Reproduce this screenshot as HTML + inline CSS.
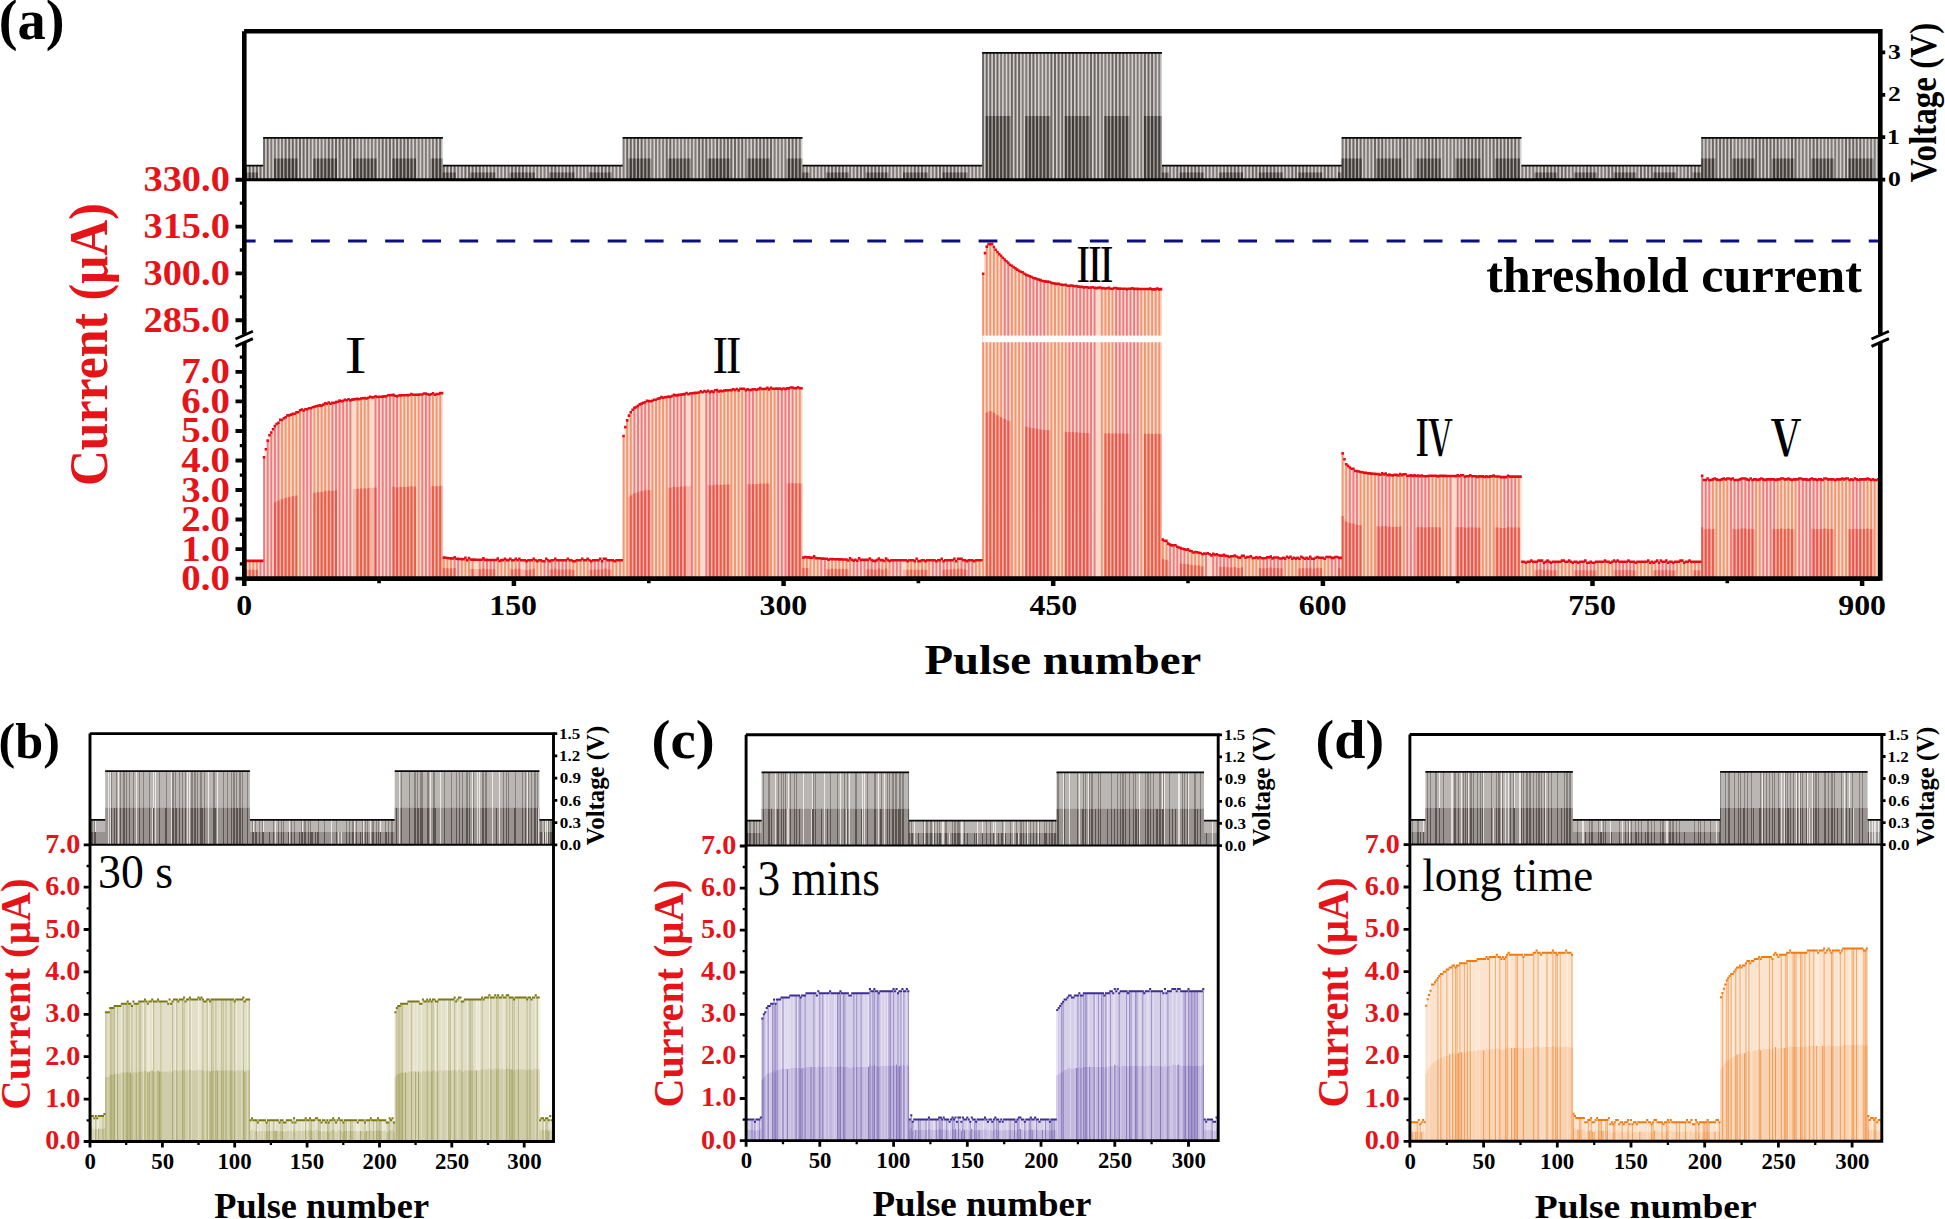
<!DOCTYPE html>
<html lang="en"><head><meta charset="utf-8"><title>Pulse response figure</title>
<style>html,body{margin:0;padding:0;background:#fff;overflow:hidden}svg{display:block}text{font-family:"Liberation Serif","Noto Serif CJK SC",serif;font-weight:700}text.n{font-weight:400}text.r{font-family:"Liberation Serif","Noto Serif CJK SC",serif;font-weight:600}</style>
</head><body>
<svg width="1945" height="1219" viewBox="0 0 1945 1219">
<rect width="1945" height="1219" fill="#fff"/>
<g id="panel-a">
<clipPath id="ca"><rect x="244.3" y="31.3" width="1636" height="547.3"/></clipPath>
<g clip-path="url(#ca)">
<polygon points="245.2,578.6 245.2,560.9 263.2,560.9 263.2,457.2 265,457.2 265,449.2 266.8,449.2 266.8,440.6 268.6,440.6 268.6,435.2 270.4,435.2 270.4,432.5 272.2,432.5 272.2,429.2 274,429.2 274,426.1 275.8,426.1 275.8,424 277.6,424 277.6,422.8 279.4,422.8 279.4,419.9 281.2,419.9 281.2,420 282.9,420 282.9,418.3 284.7,418.3 284.7,417.3 286.5,417.3 286.5,415.4 290.1,415.4 290.1,414.6 291.9,414.6 291.9,413.9 293.7,413.9 293.7,413.7 295.5,413.7 295.5,412.4 297.3,412.4 297.3,412.3 299.1,412.3 299.1,410.2 300.9,410.2 300.9,409.6 302.7,409.6 302.7,410.5 304.5,410.5 304.5,409.3 308.1,409.4 308.1,408.2 309.9,408.2 309.9,408.3 311.7,408.3 311.7,407.2 313.5,407.2 313.5,406.7 315.3,406.7 315.3,406.3 317.1,406.3 317.1,405.8 318.9,405.8 318.9,405.4 320.7,405.4 320.7,405.6 322.5,405.6 322.5,404.6 324.3,404.6 324.3,403.3 326.1,403.3 326.1,403.8 327.9,403.8 327.9,402.5 329.7,402.5 329.7,403.7 331.5,403.7 331.5,402.7 333.3,402.7 333.3,403 335.1,403 335.1,402.1 336.9,402.1 336.9,401.8 338.7,401.8 338.7,400.6 340.5,400.6 340.5,401.2 342.3,401.2 342.3,400.9 344.1,400.9 344.1,399.7 345.9,399.7 345.9,400.3 347.7,400.3 347.7,399.2 349.5,399.2 349.5,400.4 351.3,400.4 351.3,399.6 353.1,399.6 353.1,399.4 354.9,399.4 354.9,399.1 356.7,399.1 356.7,398.9 358.4,398.9 358.4,399.3 360.2,399.3 360.2,398.5 362,398.5 362,398.3 363.8,398.3 363.8,398.1 365.6,398.1 365.6,398.5 367.4,398.5 367.4,397.8 369.2,397.8 369.2,396.7 371,396.7 371,397.4 372.8,397.4 372.8,397.3 374.6,397.3 374.6,396.2 376.4,396.2 376.4,397 378.2,397 378.2,396.8 380,396.8 380,396.7 381.8,396.7 381.8,396.6 383.6,396.6 383.6,396.4 385.4,396.4 385.4,396.3 387.2,396.3 387.2,395.3 389,395.3 389,395.2 390.8,395.2 390.8,395.1 392.6,395.1 392.6,394.9 394.4,394.9 394.4,395.7 396.2,395.7 396.2,396.2 398,396.2 398,395.5 399.8,395.5 399.8,395.4 401.6,395.4 401.6,395.3 403.4,395.3 403.4,395.2 405.2,395.2 405.2,395.2 407,395.2 407,395.1 408.8,395.1 408.8,395 410.6,395 410.6,394 412.4,394 412.4,394.8 414.2,394.8 414.2,394.8 416,394.8 416,394.7 417.8,394.7 417.8,394.6 419.6,394.6 419.6,394.5 421.4,394.5 421.4,394.5 423.2,394.5 423.2,393.5 425,393.5 425,393.5 426.8,393.5 426.8,394.3 428.6,394.3 428.6,394.8 430.4,394.8 430.4,394.2 432.1,394.2 432.1,393.2 433.9,393.2 433.9,394.7 435.7,394.7 435.7,394 439.3,394 439.3,393.1 442.9,393 442.9,557.6 444.7,557.6 444.7,557.8 446.5,557.8 446.5,558 448.3,558 448.3,558.2 450.1,558.2 450.1,558.4 451.9,558.4 451.9,558.5 453.7,558.5 453.7,557.2 455.5,557.2 455.5,558.8 457.3,558.8 457.3,558.9 459.1,558.9 459.1,559 460.9,559 460.9,559.1 462.7,559.1 462.7,559.2 464.5,559.2 464.5,557.8 466.3,557.8 466.3,560.3 468.1,560.3 468.1,558 469.9,558 469.9,559.5 471.7,559.5 471.7,559.6 473.5,559.6 473.5,559.6 475.3,559.6 475.3,559.7 482.5,559.8 482.5,558.4 484.3,558.4 484.3,559.9 496.9,560.1 496.9,558.6 498.7,558.6 498.7,561 500.5,561 500.5,560.1 504.1,560.1 504.1,558.7 505.9,558.7 505.9,560.1 509.4,560.2 509.4,558.7 511.2,558.7 511.2,560.2 514.8,560.2 514.8,558.7 516.6,558.7 516.6,560.2 518.4,560.2 518.4,558.7 520.2,558.7 520.2,560.2 525.6,560.2 525.6,561.1 527.4,561.1 527.4,560.2 532.8,560.2 532.8,558.8 534.6,558.8 534.6,560.3 536.4,560.3 536.4,561.1 538.2,561.1 538.2,560.3 541.8,560.3 541.8,561.2 545.4,561.2 545.4,558.8 547.2,558.8 547.2,560.3 549,560.3 549,561.2 550.8,561.2 550.8,560.3 554.4,560.3 554.4,558.8 556.2,558.8 556.2,560.3 567,560.3 567,558.8 568.8,558.8 568.8,560.3 572.4,560.3 572.4,561.2 576,561.2 576,560.3 581.4,560.3 581.4,558.8 583.1,558.8 583.1,560.3 586.7,560.3 586.7,558.8 588.5,558.8 588.5,560.3 590.3,560.3 590.3,561.2 592.1,561.2 592.1,560.3 599.3,560.3 599.3,558.8 601.1,558.8 601.1,561.2 602.9,561.2 602.9,558.8 606.5,558.8 606.5,560.3 613.7,560.3 613.7,561.2 615.5,561.2 615.5,560.3 622.7,560.3 622.7,436 624.5,436 624.5,427.1 626.3,427.1 626.3,420.4 628.1,420.4 628.1,415.6 629.9,415.6 629.9,412.3 631.7,412.3 631.7,409.8 633.5,409.8 633.5,407.9 635.3,407.9 635.3,407.1 637.1,407.1 637.1,405.9 638.9,405.9 638.9,404.4 640.7,404.4 640.7,403.6 642.5,403.6 642.5,402.9 644.3,402.9 644.3,402.2 646.1,402.2 646.1,400.8 647.9,400.8 647.9,401.1 649.7,401.1 649.7,401.2 651.5,401.2 651.5,400.7 653.3,400.7 653.3,399.7 655.1,399.7 655.1,399.8 656.8,399.8 656.8,398.8 658.6,398.8 658.6,398.4 660.4,398.4 660.4,397.1 662.2,397.1 662.2,397.7 664,397.7 664,397.3 665.8,397.3 665.8,397 667.6,397 667.6,396.6 669.4,396.6 669.4,396.9 671.2,396.9 671.2,396 673,396 673,394.8 674.8,394.8 674.8,395.4 676.6,395.4 676.6,395.1 678.4,395.1 678.4,394.9 680.2,394.9 680.2,394.6 682,394.6 682,394.4 683.8,394.4 683.8,394.1 685.6,394.1 685.6,393 687.4,393 687.4,394.3 689.2,394.3 689.2,393.5 691,393.5 691,393.3 692.8,393.3 692.8,393.1 694.6,393.1 694.6,392.9 696.4,392.9 696.4,392.7 698.2,392.7 698.2,392.5 700,392.5 700,391.4 701.8,391.4 701.8,392.2 703.6,392.2 703.6,391.1 705.4,391.1 705.4,391.8 707.2,391.8 707.2,390.8 709,390.8 709,392.1 710.8,392.1 710.8,391.4 712.6,391.4 712.6,391.9 714.4,391.9 714.4,390.2 716.2,390.2 716.2,390.1 718,390.1 718,391.5 719.8,391.5 719.8,390.8 721.6,390.8 721.6,391.2 723.4,391.2 723.4,390.5 725.2,390.5 725.2,390.4 727,390.4 727,390.3 728.8,390.3 728.8,390.2 730.6,390.2 730.6,390.1 732.3,390.1 732.3,389.2 734.1,389.2 734.1,390 735.9,390 735.9,389 737.7,389 737.7,390.4 739.5,390.4 739.5,388.8 741.3,388.8 741.3,388.8 743.1,388.8 743.1,388.7 744.9,388.7 744.9,390.1 746.7,390.1 746.7,389.4 748.5,389.4 748.5,390 750.3,390 750.3,389.9 752.1,389.9 752.1,389.2 753.9,389.2 753.9,389.2 755.7,389.2 755.7,389.7 757.5,389.7 757.5,389.1 759.3,389.1 759.3,388.1 761.1,388.1 761.1,389 766.5,388.9 766.5,387.9 768.3,387.9 768.3,389.4 770.1,389.4 770.1,387.8 771.9,387.8 771.9,388.7 780.9,388.5 780.9,389.1 782.7,389.1 782.7,388.5 784.5,388.5 784.5,389 786.3,389 786.3,388.4 789.9,388.4 789.9,387.5 793.5,387.4 793.5,388.3 797.1,388.3 797.1,387.3 798.9,387.3 798.9,388.2 802.5,388.2 802.5,557.6 804.3,557.6 804.3,557 806.1,557 806.1,557.2 807.8,557.2 807.8,557.4 809.6,557.4 809.6,557.6 811.4,557.6 811.4,557.8 813.2,557.8 813.2,556.4 815,556.4 815,558.1 816.8,558.1 816.8,558.2 818.6,558.2 818.6,558.3 820.4,558.3 820.4,558.5 822.2,558.5 822.2,558.6 824,558.6 824,558.7 825.8,558.7 825.8,558.8 827.6,558.8 827.6,559.8 829.4,559.8 829.4,559 831.2,559 831.2,559.1 833,559.1 833,559.2 834.8,559.2 834.8,559.2 836.6,559.2 836.6,559.3 838.4,559.3 838.4,559.4 840.2,559.4 840.2,559.4 842,559.4 842,559.5 843.8,559.5 843.8,559.5 847.4,559.6 847.4,560.5 849.2,560.5 849.2,558.2 851,558.2 851,559.7 852.8,559.7 852.8,560.6 854.6,560.6 854.6,559.8 856.4,559.8 856.4,560.7 858.2,560.7 858.2,558.4 860,558.4 860,559.9 869,560 869,558.5 870.8,558.5 870.8,560 872.6,560 872.6,560.9 876.2,560.9 876.2,560.1 878,560.1 878,558.6 879.8,558.6 879.8,560.1 883.3,560.1 883.3,561 885.1,561 885.1,558.6 886.9,558.6 886.9,560.1 888.7,560.1 888.7,561 890.5,561 890.5,560.2 906.7,560.2 906.7,561.1 908.5,561.1 908.5,560.2 913.9,560.2 913.9,561.1 915.7,561.1 915.7,558.8 917.5,558.8 917.5,561.1 921.1,561.1 921.1,560.2 924.7,560.3 924.7,561.1 926.5,561.1 926.5,560.3 935.5,560.3 935.5,561.2 937.3,561.2 937.3,560.3 940.9,560.3 940.9,558.8 942.7,558.8 942.7,561.2 944.5,561.2 944.5,560.3 953.5,560.3 953.5,558.8 955.3,558.8 955.3,561.2 957,561.2 957,558.8 962.4,558.8 962.4,560.3 966,560.3 966,561.2 967.8,561.2 967.8,560.3 973.2,560.3 973.2,561.2 975,561.2 975,560.3 982.2,560.3 982.2,273.7 984,273.7 984,253.1 985.8,253.1 985.8,246.6 987.6,246.6 987.6,244.1 993,244.1 993,247 994.8,247 994.8,249.7 996.6,249.7 996.6,252 998.4,252 998.4,254.1 1000.2,254.1 1000.2,255.8 1002,255.8 1002,257.7 1003.8,257.7 1003.8,259.5 1005.6,259.5 1005.6,261.2 1007.4,261.2 1007.4,262.9 1009.2,262.9 1009.2,264.7 1011,264.7 1011,265.8 1012.8,265.8 1012.8,267.1 1014.6,267.1 1014.6,268.4 1016.4,268.4 1016.4,269.6 1018.2,269.6 1018.2,270.7 1020,270.7 1020,271.8 1021.8,271.8 1021.8,272.3 1023.6,272.3 1023.6,273.7 1025.4,273.7 1025.4,274.9 1027.2,274.9 1027.2,275.5 1029,275.5 1029,276.2 1030.8,276.2 1030.8,277 1032.5,277 1032.5,278 1034.3,278 1034.3,278.4 1036.1,278.4 1036.1,279 1037.9,279 1037.9,279.6 1039.7,279.6 1039.7,280.1 1041.5,280.1 1041.5,281 1043.3,281 1043.3,281.2 1045.1,281.2 1045.1,281.6 1048.7,281.6 1048.7,282 1050.5,282 1050.5,282.9 1052.3,282.9 1052.3,283.2 1054.1,283.2 1054.1,283.6 1055.9,283.6 1055.9,283.9 1057.7,283.9 1057.7,283.7 1059.5,283.7 1059.5,284.5 1061.3,284.5 1061.3,284.8 1063.1,284.8 1063.1,285 1064.9,285 1064.9,284.8 1066.7,284.8 1066.7,285.8 1068.5,285.8 1068.5,285.7 1070.3,285.7 1070.3,285.5 1072.1,285.5 1072.1,285.7 1073.9,285.7 1073.9,286.3 1075.7,286.3 1075.7,286 1077.5,286 1077.5,286.6 1079.3,286.6 1079.3,286.8 1081.1,286.8 1081.1,286.9 1082.9,286.9 1082.9,287.4 1084.7,287.4 1084.7,287.2 1086.5,287.2 1086.5,287.3 1088.3,287.3 1088.3,287.7 1090.1,287.7 1090.1,287.5 1091.9,287.5 1091.9,287.2 1093.7,287.2 1093.7,287.7 1095.5,287.7 1095.5,288.1 1097.3,288.1 1097.3,287.9 1099.1,287.9 1099.1,287.5 1100.9,287.5 1100.9,288.1 1102.7,288.1 1102.7,288.1 1104.5,288.1 1104.5,288.5 1106.2,288.5 1106.2,288.3 1108,288.3 1108,287.9 1109.8,287.9 1109.8,288.7 1111.6,288.7 1111.6,288.8 1113.4,288.8 1113.4,288 1117,288.1 1117,288.6 1126,288.7 1126,289.1 1127.8,289.1 1127.8,288.8 1131.4,288.8 1131.4,288.4 1133.2,288.4 1133.2,288.9 1149.4,289 1149.4,288.6 1151.2,288.6 1151.2,289.4 1154.8,289.4 1154.8,289.1 1156.6,289.1 1156.6,288.6 1158.4,288.6 1158.4,289.4 1160.2,289.4 1160.2,289.1 1162,289.1 1162,539.6 1163.8,539.6 1163.8,540.7 1165.6,540.7 1165.6,540.9 1167.4,540.9 1167.4,543.6 1169.2,543.6 1169.2,544.6 1171,544.6 1171,545.4 1172.8,545.4 1172.8,545.3 1174.6,545.3 1174.6,545.2 1176.4,545.2 1176.4,546.8 1178.2,546.8 1178.2,547.5 1180,547.5 1180,548.1 1181.7,548.1 1181.7,548.7 1183.5,548.7 1183.5,549.3 1185.3,549.3 1185.3,549.8 1187.1,549.8 1187.1,549.4 1188.9,549.4 1188.9,550.8 1190.7,550.8 1190.7,551.2 1192.5,551.2 1192.5,552.5 1194.3,552.5 1194.3,552 1196.1,552 1196.1,552.3 1197.9,552.3 1197.9,552.7 1199.7,552.7 1199.7,553 1201.5,553 1201.5,554.2 1203.3,554.2 1203.3,553.6 1205.1,553.6 1205.1,553.8 1206.9,553.8 1206.9,553.2 1208.7,553.2 1208.7,554.3 1210.5,554.3 1210.5,555.4 1212.3,555.4 1212.3,553.9 1214.1,553.9 1214.1,554.9 1215.9,554.9 1215.9,554.2 1217.7,554.2 1217.7,555.3 1219.5,555.3 1219.5,555.5 1221.3,555.5 1221.3,555.6 1223.1,555.6 1223.1,554.9 1224.9,554.9 1224.9,555.9 1226.7,555.9 1226.7,556 1228.5,556 1228.5,557 1230.3,557 1230.3,556.2 1232.1,556.2 1232.1,556.3 1233.9,556.3 1233.9,555.5 1235.7,555.5 1235.7,556.5 1237.5,556.5 1237.5,557.5 1239.3,557.5 1239.3,557.6 1241.1,557.6 1241.1,555.9 1242.9,555.9 1242.9,555.9 1244.7,555.9 1244.7,557.8 1246.5,557.8 1246.5,557 1248.3,557 1248.3,557 1250.1,557 1250.1,556.2 1251.9,556.2 1251.9,558 1255.5,558.1 1255.5,557.2 1257.2,557.2 1257.2,558.1 1259,558.1 1259,557.3 1260.8,557.3 1260.8,558.2 1266.2,558.3 1266.2,557.4 1269.8,557.5 1269.8,556.6 1271.6,556.6 1271.6,558.4 1273.4,558.4 1273.4,557.5 1278.8,557.6 1278.8,558.5 1282.4,558.5 1282.4,557.7 1284.2,557.7 1284.2,558.6 1286,558.6 1286,556.8 1287.8,556.8 1287.8,557.7 1289.6,557.7 1289.6,556.8 1291.4,556.8 1291.4,558.6 1293.2,558.6 1293.2,557.7 1295,557.7 1295,558.6 1296.8,558.6 1296.8,557.8 1298.6,557.8 1298.6,558.7 1300.4,558.7 1300.4,556.9 1302.2,556.9 1302.2,557.8 1304,557.8 1304,558.7 1305.8,558.7 1305.8,557.8 1307.6,557.8 1307.6,558.7 1309.4,558.7 1309.4,556.9 1311.2,556.9 1311.2,558.7 1314.8,558.7 1314.8,557.8 1316.6,557.8 1316.6,557 1318.4,557 1318.4,557.8 1323.8,557.9 1323.8,558.7 1325.6,558.7 1325.6,557 1330.9,557 1330.9,557.9 1334.5,557.9 1334.5,557 1338.1,557 1338.1,557.9 1341.7,557.9 1341.7,453.4 1343.5,453.4 1343.5,459.3 1345.3,459.3 1345.3,464.2 1347.1,464.2 1347.1,465.9 1348.9,465.9 1348.9,467.5 1350.7,467.5 1350.7,468.7 1352.5,468.7 1352.5,468.7 1354.3,468.7 1354.3,471 1357.9,471 1357.9,471.5 1359.7,471.5 1359.7,472 1361.5,472 1361.5,472.3 1363.3,472.3 1363.3,472.7 1365.1,472.7 1365.1,472.9 1366.9,472.9 1366.9,473.2 1368.7,473.2 1368.7,473.4 1370.5,473.4 1370.5,473.6 1372.3,473.6 1372.3,473.7 1374.1,473.7 1374.1,473.9 1375.9,473.9 1375.9,474 1377.7,474 1377.7,474.1 1379.5,474.1 1379.5,474.8 1381.3,474.8 1381.3,473.4 1383.1,473.4 1383.1,474.4 1384.9,474.4 1384.9,473.6 1386.7,473.6 1386.7,475.2 1388.5,475.2 1388.5,474.6 1390.3,474.6 1390.3,475.3 1392.1,475.3 1392.1,475.4 1393.9,475.4 1393.9,474.8 1395.7,474.8 1395.7,474.9 1397.5,474.9 1397.5,475.5 1399.3,475.5 1399.3,474.1 1401.1,474.1 1401.1,475.1 1402.9,475.1 1402.9,474.2 1406.4,474.3 1406.4,475.8 1410,475.8 1410,475.3 1411.8,475.3 1411.8,475.9 1413.6,475.9 1413.6,475.4 1415.4,475.4 1415.4,476 1417.2,476 1417.2,475.5 1419,475.5 1419,476.1 1420.8,476.1 1420.8,475.5 1422.6,475.5 1422.6,476.2 1428,476.2 1428,475.7 1437,475.8 1437,476.4 1438.8,476.4 1438.8,475.9 1456.8,476.1 1456.8,475.2 1458.6,475.2 1458.6,476.1 1460.4,476.1 1460.4,475.3 1464,475.3 1464,476.8 1465.8,476.8 1465.8,476.2 1469.4,476.2 1469.4,475.4 1471.2,475.4 1471.2,476.3 1476.6,476.3 1476.6,476.9 1478.4,476.9 1478.4,476.4 1483.7,476.4 1483.7,477 1485.5,477 1485.5,476.4 1487.3,476.4 1487.3,477 1489.1,477 1489.1,476.4 1492.7,476.5 1492.7,475.6 1494.5,475.6 1494.5,476.5 1499.9,476.5 1499.9,477.1 1507.1,477.2 1507.1,475.7 1508.9,475.7 1508.9,476.6 1521.5,476.6 1521.5,561.8 1525.1,561.8 1525.1,562.7 1526.9,562.7 1526.9,561.8 1530.5,561.8 1530.5,560.6 1532.3,560.6 1532.3,561.8 1537.7,561.8 1537.7,560.6 1543.1,560.6 1543.1,562.7 1544.9,562.7 1544.9,561.8 1546.7,561.8 1546.7,560.6 1548.5,560.6 1548.5,561.8 1550.3,561.8 1550.3,562.7 1552.1,562.7 1552.1,561.8 1561,561.8 1561,560.6 1564.6,560.6 1564.6,561.8 1568.2,561.8 1568.2,560.6 1570,560.6 1570,561.8 1571.8,561.8 1571.8,562.7 1573.6,562.7 1573.6,561.8 1577.2,561.8 1577.2,562.7 1579,562.7 1579,561.8 1584.4,561.8 1584.4,560.6 1586.2,560.6 1586.2,562.7 1589.8,562.7 1589.8,561.8 1591.6,561.8 1591.6,562.7 1595.2,562.7 1595.2,561.8 1604.2,561.8 1604.2,560.6 1606,560.6 1606,561.8 1609.6,561.8 1609.6,562.7 1611.4,562.7 1611.4,561.8 1613.2,561.8 1613.2,560.6 1615,560.6 1615,561.8 1616.8,561.8 1616.8,560.6 1618.6,560.6 1618.6,561.8 1627.6,561.8 1627.6,560.6 1629.4,560.6 1629.4,561.8 1634.7,561.8 1634.7,562.7 1636.5,562.7 1636.5,561.8 1647.3,561.8 1647.3,560.6 1649.1,560.6 1649.1,562.7 1650.9,562.7 1650.9,561.8 1652.7,561.8 1652.7,562.7 1654.5,562.7 1654.5,561.8 1656.3,561.8 1656.3,560.6 1658.1,560.6 1658.1,562.7 1659.9,562.7 1659.9,560.6 1661.7,560.6 1661.7,561.8 1665.3,561.8 1665.3,560.6 1667.1,560.6 1667.1,562.7 1668.9,562.7 1668.9,561.8 1672.5,561.8 1672.5,562.7 1674.3,562.7 1674.3,561.8 1679.7,561.8 1679.7,560.6 1683.3,560.6 1683.3,562.7 1685.1,562.7 1685.1,561.8 1688.7,561.8 1688.7,560.6 1690.5,560.6 1690.5,561.8 1701.3,561.8 1701.3,475.8 1703.1,475.8 1703.1,480 1706.6,480 1706.6,478.5 1708.4,478.5 1708.4,480 1712,480 1712,479.4 1713.8,479.4 1713.8,478.5 1715.6,478.5 1715.6,479.4 1717.4,479.4 1717.4,480 1721,480 1721,479.4 1722.8,479.4 1722.8,478.5 1724.6,478.5 1724.6,479.4 1726.4,479.4 1726.4,478.5 1730,478.5 1730,479.4 1731.8,479.4 1731.8,478.5 1733.6,478.5 1733.6,480 1739,480 1739,479.4 1740.8,479.4 1740.8,478.5 1746.2,478.5 1746.2,479.4 1748,479.4 1748,480 1749.8,480 1749.8,478.5 1751.6,478.5 1751.6,480 1753.4,480 1753.4,479.4 1757,479.4 1757,480 1758.8,480 1758.8,479.4 1760.6,479.4 1760.6,478.5 1762.4,478.5 1762.4,479.4 1764.2,479.4 1764.2,480 1766,480 1766,479.4 1775,479.4 1775,480 1776.8,480 1776.8,479.4 1780.3,479.4 1780.3,478.5 1783.9,478.5 1783.9,479.4 1787.5,479.4 1787.5,478.5 1789.3,478.5 1789.3,479.4 1791.1,479.4 1791.1,480 1792.9,480 1792.9,479.4 1798.3,479.4 1798.3,478.5 1801.9,478.5 1801.9,479.4 1807.3,479.4 1807.3,480 1809.1,480 1809.1,479.4 1810.9,479.4 1810.9,478.5 1812.7,478.5 1812.7,479.4 1816.3,479.4 1816.3,480 1818.1,480 1818.1,479.4 1821.7,479.4 1821.7,480 1823.5,480 1823.5,478.5 1827.1,478.5 1827.1,479.4 1834.3,479.4 1834.3,480 1836.1,480 1836.1,479.4 1841.5,479.4 1841.5,478.5 1843.3,478.5 1843.3,479.4 1845.1,479.4 1845.1,478.5 1848.7,478.5 1848.7,480 1850.5,480 1850.5,479.4 1852.3,479.4 1852.3,480 1854.1,480 1854.1,478.5 1855.8,478.5 1855.8,479.4 1857.6,479.4 1857.6,480 1859.4,480 1859.4,479.4 1866.6,479.4 1866.6,478.5 1868.4,478.5 1868.4,479.4 1870.2,479.4 1870.2,480 1872,480 1872,479.4 1873.8,479.4 1873.8,480 1877.4,480 1877.4,479.4 1881,479.4 1881,578.6" fill="#fcdacc"/>
<path d="M246.1 560.9V578.6M249.7 560.9V578.6M253.3 560.9V578.6M256.9 560.9V578.6M282 420V578.6M285.6 417.3V578.6M289.2 415.4V578.6M292.8 413.9V578.6M296.4 412.4V578.6M300 410.2V578.6M314.4 406.7V578.6M318 405.8V578.6M321.6 405.6V578.6M325.2 403.3V578.6M328.8 402.5V578.6M357.5 398.9V578.6M361.1 398.5V578.6M364.7 398.1V578.6M368.3 397.8V578.6M400.7 395.4V578.6M404.3 395.2V578.6M407.9 395.1V578.6M411.5 394V578.6M415.1 394.8V578.6M418.7 394.6V578.6M433 393.2V578.6M436.6 394V578.6M440.2 393.1V578.6M443.8 557.6V578.6M447.4 558V578.6M451 558.4V578.6M461.8 559.1V578.6M465.4 557.8V578.6M469 558V578.6M472.6 559.6V578.6M479.8 559.8V578.6M497.8 558.6V578.6M501.4 560.1V578.6M505 558.7V578.6M508.5 560.2V578.6M512.1 560.2V578.6M515.7 558.7V578.6M530.1 560.2V578.6M533.7 558.8V578.6M537.3 561.1V578.6M540.9 560.3V578.6M569.7 560.3V578.6M573.3 561.2V578.6M576.9 560.3V578.6M580.5 560.3V578.6M584 560.3V578.6M587.6 558.8V578.6M612.8 560.3V578.6M616.4 560.3V578.6M620 560.3V578.6M623.6 436V578.6M627.2 420.4V578.6M630.8 412.3V578.6M652.4 400.7V578.6M656 399.8V578.6M659.5 398.4V578.6M663.1 397.7V578.6M666.7 397V578.6M695.5 392.9V578.6M699.1 392.5V578.6M720.7 390.8V578.6M724.3 390.5V578.6M727.9 390.3V578.6M731.4 390.1V578.6M735 390V578.6M738.6 390.4V578.6M742.2 388.8V578.6M756.6 389.7V578.6M760.2 388.1V578.6M763.8 388.9V578.6M767.4 387.9V578.6M771 387.8V578.6M774.6 388.6V578.6M796.2 388.3V578.6M799.8 388.2V578.6M803.4 557.6V578.6M806.9 557.2V578.6M810.5 557.6V578.6M814.1 556.4V578.6M817.7 558.2V578.6M828.5 559.8V578.6M832.1 559.1V578.6M835.7 559.2V578.6M839.3 559.4V578.6M842.9 559.5V578.6M846.5 559.6V578.6M850.1 558.2V578.6M882.4 560.1V578.6M886 558.6V578.6M889.6 561V578.6M907.6 561.1V578.6M911.2 560.2V578.6M914.8 561.1V578.6M918.4 561.1V578.6M922 560.2V578.6M925.6 561.1V578.6M929.2 560.3V578.6M954.4 558.8V578.6M957.9 558.8V578.6M975.9 560.3V578.6M979.5 560.3V578.6M983.1 273.7V578.6M986.7 246.6V578.6M990.3 244.1V578.6M993.9 247V578.6M997.5 252V578.6M1001.1 255.8V578.6M1011.9 265.8V578.6M1015.5 268.4V578.6M1019.1 270.7V578.6M1022.7 272.3V578.6M1047.8 281.6V578.6M1051.4 282.9V578.6M1055 283.6V578.6M1058.6 283.7V578.6M1062.2 284.8V578.6M1065.8 284.8V578.6M1101.8 288.1V578.6M1105.4 288.5V578.6M1108.9 287.9V578.6M1112.5 288.8V578.6M1141.3 289V578.6M1144.9 289V578.6M1148.5 289V578.6M1152.1 289.4V578.6M1155.7 289.1V578.6M1159.3 289.4V578.6M1162.9 539.6V578.6M1166.5 540.9V578.6M1188 549.4V578.6M1191.6 551.2V578.6M1195.2 552V578.6M1198.8 552.7V578.6M1202.4 554.2V578.6M1234.8 555.5V578.6M1238.4 557.5V578.6M1242 555.9V578.6M1245.6 557.8V578.6M1249.2 557V578.6M1252.8 558V578.6M1256.3 557.2V578.6M1259.9 557.3V578.6M1285.1 558.6V578.6M1288.7 557.7V578.6M1292.3 558.6V578.6M1295.9 558.6V578.6M1299.5 558.7V578.6M1303.1 557.8V578.6M1317.5 557V578.6M1321.1 557.9V578.6M1324.7 558.7V578.6M1328.3 557V578.6M1342.6 453.4V578.6M1346.2 464.2V578.6M1360.6 472V578.6M1364.2 472.7V578.6M1367.8 473.2V578.6M1371.4 473.6V578.6M1375 473.9V578.6M1393 475.4V578.6M1396.6 474.9V578.6M1400.2 474.1V578.6M1403.8 474.2V578.6M1432.5 475.7V578.6M1436.1 475.8V578.6M1439.7 475.9V578.6M1443.3 475.9V578.6M1446.9 476V578.6M1479.3 476.4V578.6M1482.8 476.4V578.6M1486.4 476.4V578.6M1490 476.4V578.6M1493.6 475.6V578.6M1497.2 476.5V578.6M1500.8 477.1V578.6M1518.8 476.6V578.6M1522.4 561.8V578.6M1526 562.7V578.6M1529.6 561.8V578.6M1533.2 561.8V578.6M1558.3 561.8V578.6M1561.9 560.6V578.6M1565.5 561.8V578.6M1569.1 560.6V578.6M1572.7 562.7V578.6M1597.9 561.8V578.6M1601.5 561.8V578.6M1605.1 560.6V578.6M1608.7 561.8V578.6M1612.3 561.8V578.6M1637.4 561.8V578.6M1641 561.8V578.6M1644.6 561.8V578.6M1648.2 560.6V578.6M1651.8 561.8V578.6M1655.4 561.8V578.6M1677 561.8V578.6M1680.6 560.6V578.6M1684.2 562.7V578.6M1687.8 561.8V578.6M1691.4 561.8V578.6M1695 561.8V578.6M1698.6 561.8V578.6M1712.9 479.4V578.6M1716.5 479.4V578.6M1720.1 480V578.6M1723.7 478.5V578.6M1727.3 478.5V578.6M1756.1 479.4V578.6M1759.7 479.4V578.6M1777.7 479.4V578.6M1781.2 478.5V578.6M1784.8 479.4V578.6M1788.4 478.5V578.6M1792 480V578.6M1795.6 479.4V578.6M1824.4 478.5V578.6M1828 479.4V578.6M1831.6 479.4V578.6M1835.2 480V578.6M1838.8 479.4V578.6M1842.4 478.5V578.6M1846 478.5V578.6M1849.6 480V578.6M1863.9 479.4V578.6M1867.5 478.5V578.6M1871.1 480V578.6M1874.7 480V578.6M1878.3 479.4V578.6" stroke="#f19670" stroke-width="1.9" fill="none"/>
<path d="M260.5 560.9V578.6M264.1 457.2V578.6M267.7 440.6V578.6M271.3 432.5V578.6M274.9 426.1V578.6M278.5 422.8V578.6M303.6 410.5V578.6M307.2 409.4V578.6M310.8 408.3V578.6M332.4 402.7V578.6M336 402.1V578.6M339.6 400.6V578.6M343.2 400.9V578.6M346.8 400.3V578.6M350.4 400.4V578.6M375.5 396.2V578.6M379.1 396.8V578.6M382.7 396.6V578.6M386.3 396.3V578.6M389.9 395.2V578.6M393.5 394.9V578.6M397.1 396.2V578.6M422.3 394.5V578.6M425.9 393.5V578.6M429.5 394.8V578.6M454.6 557.2V578.6M458.2 558.9V578.6M483.4 558.4V578.6M487 559.9V578.6M490.6 560V578.6M494.2 560V578.6M519.3 558.7V578.6M526.5 561.1V578.6M544.5 561.2V578.6M548.1 560.3V578.6M551.7 560.3V578.6M555.3 558.8V578.6M558.9 560.3V578.6M562.5 560.3V578.6M566.1 560.3V578.6M591.2 561.2V578.6M594.8 560.3V578.6M598.4 560.3V578.6M602 561.2V578.6M605.6 558.8V578.6M609.2 560.3V578.6M634.4 407.9V578.6M638 405.9V578.6M641.6 403.6V578.6M645.2 402.2V578.6M648.8 401.1V578.6M670.3 396.9V578.6M673.9 394.8V578.6M677.5 395.1V578.6M681.1 394.6V578.6M684.7 394.1V578.6M691.9 393.3V578.6M706.3 391.8V578.6M709.9 392.1V578.6M713.5 391.9V578.6M717.1 390.1V578.6M745.8 390.1V578.6M749.4 390V578.6M753 389.2V578.6M778.2 388.6V578.6M781.8 389.1V578.6M785.4 389V578.6M789 388.4V578.6M792.6 387.4V578.6M821.3 558.5V578.6M824.9 558.7V578.6M853.7 560.6V578.6M857.3 560.7V578.6M860.9 559.9V578.6M864.5 559.9V578.6M868.1 560V578.6M871.7 560V578.6M875.3 560.9V578.6M878.9 558.6V578.6M893.2 560.2V578.6M896.8 560.2V578.6M900.4 560.2V578.6M932.8 560.3V578.6M936.4 561.2V578.6M940 560.3V578.6M943.6 561.2V578.6M947.2 560.3V578.6M950.8 560.3V578.6M961.5 558.8V578.6M965.1 560.3V578.6M968.7 560.3V578.6M972.3 560.3V578.6M1004.7 259.5V578.6M1008.3 262.9V578.6M1026.3 274.9V578.6M1029.9 276.2V578.6M1033.4 278V578.6M1037 279V578.6M1040.6 280.1V578.6M1044.2 281.2V578.6M1069.4 285.7V578.6M1073 285.7V578.6M1076.6 286V578.6M1080.2 286.8V578.6M1083.8 287.4V578.6M1087.4 287.3V578.6M1091 287.5V578.6M1094.6 287.7V578.6M1116.1 288.1V578.6M1119.7 288.6V578.6M1123.3 288.7V578.6M1126.9 289.1V578.6M1130.5 288.8V578.6M1134.1 288.9V578.6M1137.7 288.9V578.6M1170.1 544.6V578.6M1173.7 545.3V578.6M1177.3 546.8V578.6M1180.8 548.1V578.6M1184.4 549.3V578.6M1206 553.8V578.6M1213.2 553.9V578.6M1216.8 554.2V578.6M1220.4 555.5V578.6M1224 554.9V578.6M1227.6 556V578.6M1231.2 556.2V578.6M1263.5 558.3V578.6M1267.1 557.4V578.6M1270.7 556.6V578.6M1274.3 557.5V578.6M1277.9 557.6V578.6M1281.5 558.5V578.6M1306.7 557.8V578.6M1310.3 556.9V578.6M1313.9 558.7V578.6M1331.8 557.9V578.6M1335.4 557V578.6M1339 557.9V578.6M1349.8 467.5V578.6M1353.4 468.7V578.6M1357 471V578.6M1378.6 474.1V578.6M1382.2 473.4V578.6M1385.8 473.6V578.6M1389.4 474.6V578.6M1407.3 475.8V578.6M1410.9 475.3V578.6M1414.5 475.4V578.6M1418.1 475.5V578.6M1421.7 475.5V578.6M1425.3 476.2V578.6M1428.9 475.7V578.6M1450.5 476V578.6M1457.7 475.2V578.6M1461.3 475.3V578.6M1464.9 476.8V578.6M1468.5 476.2V578.6M1472.1 476.3V578.6M1475.7 476.3V578.6M1504.4 477.1V578.6M1508 475.7V578.6M1511.6 476.6V578.6M1515.2 476.6V578.6M1536.8 561.8V578.6M1540.4 560.6V578.6M1544 562.7V578.6M1547.6 560.6V578.6M1551.2 562.7V578.6M1554.8 561.8V578.6M1576.3 561.8V578.6M1579.9 561.8V578.6M1583.5 561.8V578.6M1587.1 562.7V578.6M1590.7 561.8V578.6M1594.3 562.7V578.6M1615.9 561.8V578.6M1619.5 561.8V578.6M1623.1 561.8V578.6M1626.7 561.8V578.6M1630.2 561.8V578.6M1633.8 561.8V578.6M1659 562.7V578.6M1662.6 561.8V578.6M1666.2 560.6V578.6M1669.8 561.8V578.6M1673.4 562.7V578.6M1702.2 475.8V578.6M1705.7 480V578.6M1709.3 480V578.6M1730.9 479.4V578.6M1734.5 480V578.6M1738.1 480V578.6M1741.7 478.5V578.6M1745.3 478.5V578.6M1748.9 480V578.6M1752.5 480V578.6M1763.3 479.4V578.6M1766.9 479.4V578.6M1770.5 479.4V578.6M1774.1 479.4V578.6M1799.2 478.5V578.6M1802.8 479.4V578.6M1806.4 479.4V578.6M1810 479.4V578.6M1813.6 479.4V578.6M1817.2 480V578.6M1820.8 479.4V578.6M1853.2 480V578.6M1856.7 479.4V578.6M1860.3 479.4V578.6" stroke="#ef7a82" stroke-width="1.9" fill="none"/>
<polygon points="245.2,578.6 245.2,569.7 257.8,569.7 257.8,578.6" fill="#e8463c" fill-opacity="0.24"/>
<polygon points="274,578.6 274,502.3 275.8,502.3 275.8,501.3 277.6,501.3 277.6,500.7 279.4,500.7 279.4,499.2 281.2,499.2 281.2,499.3 282.9,499.3 282.9,498.5 284.7,498.5 284.7,497.9 286.5,497.9 286.5,497 290.1,497 290.1,496.6 291.9,496.6 291.9,496.2 293.7,496.2 293.7,496.2 295.5,496.2 295.5,495.5 297.3,495.5 297.3,578.6" fill="#e8463c" fill-opacity="0.24"/>
<polygon points="313.5,578.6 313.5,492.7 315.3,492.7 315.3,492.4 317.1,492.4 317.1,492.2 318.9,492.2 318.9,492 320.7,492 320.7,492.1 322.5,492.1 322.5,491.6 324.3,491.6 324.3,490.9 326.1,490.9 326.1,491.2 327.9,491.2 327.9,490.6 329.7,490.6 329.7,491.1 331.5,491.1 331.5,490.7 333.3,490.7 333.3,490.8 335.1,490.8 335.1,490.3 336.9,490.3 336.9,578.6" fill="#e8463c" fill-opacity="0.24"/>
<polygon points="353.1,578.6 353.1,489 354.9,489 354.9,488.9 356.7,488.9 356.7,488.8 358.4,488.8 358.4,489 360.2,489 360.2,488.6 362,488.6 362,488.5 363.8,488.5 363.8,488.4 365.6,488.4 365.6,488.6 367.4,488.6 367.4,488.2 369.2,488.2 369.2,487.7 371,487.7 371,488 372.8,488 372.8,487.9 374.6,487.9 374.6,487.4 376.4,487.4 376.4,578.6" fill="#e8463c" fill-opacity="0.24"/>
<polygon points="392.6,578.6 392.6,486.8 394.4,486.8 394.4,487.2 396.2,487.2 396.2,487.4 398,487.4 398,487.1 410.6,486.8 410.6,486.3 412.4,486.3 412.4,486.7 416,486.7 416,578.6" fill="#e8463c" fill-opacity="0.24"/>
<polygon points="430.4,578.6 430.4,486.4 432.1,486.4 432.1,485.9 433.9,485.9 433.9,486.6 435.7,486.6 435.7,486.3 439.3,486.3 439.3,485.8 442.9,485.8 442.9,568.1 444.7,568.1 444.7,568.2 446.5,568.2 446.5,568.3 448.3,568.3 448.3,568.4 450.1,568.4 450.1,568.5 451.9,568.5 451.9,568.6 453.7,568.6 453.7,567.9 455.5,567.9 455.5,578.6" fill="#e8463c" fill-opacity="0.24"/>
<polygon points="469.9,578.6 469.9,569.1 482.5,569.2 482.5,568.5 484.3,568.5 484.3,569.3 495.1,569.3 495.1,578.6" fill="#e8463c" fill-opacity="0.24"/>
<polygon points="509.4,578.6 509.4,568.6 511.2,568.6 511.2,569.4 514.8,569.4 514.8,568.7 516.6,568.7 516.6,569.4 518.4,569.4 518.4,568.7 520.2,568.7 520.2,569.4 525.6,569.4 525.6,569.9 527.4,569.9 527.4,569.4 532.8,569.4 532.8,568.7 534.6,568.7 534.6,578.6" fill="#e8463c" fill-opacity="0.24"/>
<polygon points="549,578.6 549,569.9 550.8,569.9 550.8,569.4 554.4,569.4 554.4,568.7 556.2,568.7 556.2,569.4 567,569.4 567,568.7 568.8,568.7 568.8,569.4 572.4,569.4 572.4,569.9 574.2,569.9 574.2,578.6" fill="#e8463c" fill-opacity="0.24"/>
<polygon points="588.5,578.6 588.5,569.4 590.3,569.4 590.3,569.9 592.1,569.9 592.1,569.4 599.3,569.4 599.3,568.7 601.1,568.7 601.1,569.9 602.9,569.9 602.9,568.7 606.5,568.7 606.5,569.4 611.9,569.4 611.9,578.6" fill="#e8463c" fill-opacity="0.24"/>
<polygon points="628.1,578.6 628.1,497.1 629.9,497.1 629.9,495.4 631.7,495.4 631.7,494.2 633.5,494.2 633.5,493.3 635.3,493.3 635.3,492.8 637.1,492.8 637.1,492.3 638.9,492.3 638.9,491.5 640.7,491.5 640.7,491.1 642.5,491.1 642.5,490.7 644.3,490.7 644.3,490.4 646.1,490.4 646.1,489.7 647.9,489.7 647.9,489.9 651.5,489.9 651.5,578.6" fill="#e8463c" fill-opacity="0.24"/>
<polygon points="667.6,578.6 667.6,487.6 669.4,487.6 669.4,487.8 671.2,487.8 671.2,487.3 673,487.3 673,486.7 674.8,486.7 674.8,487 676.6,487 676.6,486.9 678.4,486.9 678.4,486.7 680.2,486.7 680.2,486.6 682,486.6 682,486.5 683.8,486.5 683.8,486.4 685.6,486.4 685.6,485.8 687.4,485.8 687.4,486.4 689.2,486.4 689.2,486 691,486 691,578.6" fill="#e8463c" fill-opacity="0.24"/>
<polygon points="707.2,578.6 707.2,484.7 709,484.7 709,485.4 710.8,485.4 710.8,485 712.6,485 712.6,485.2 714.4,485.2 714.4,484.4 716.2,484.4 716.2,484.4 718,484.4 718,485 719.8,485 719.8,484.7 721.6,484.7 721.6,484.9 723.4,484.9 723.4,484.6 725.2,484.6 725.2,484.5 727,484.5 727,484.5 730.6,484.4 730.6,578.6" fill="#e8463c" fill-opacity="0.24"/>
<polygon points="746.7,578.6 746.7,484 748.5,484 748.5,484.3 752.1,484.2 752.1,483.9 755.7,483.9 755.7,484.2 757.5,484.2 757.5,483.8 759.3,483.8 759.3,483.4 761.1,483.4 761.1,483.8 766.5,483.7 766.5,483.3 768.3,483.3 768.3,484 770.1,484 770.1,578.6" fill="#e8463c" fill-opacity="0.24"/>
<polygon points="786.3,578.6 786.3,483.5 789.9,483.5 789.9,483 793.5,483 793.5,483.4 797.1,483.4 797.1,483 798.9,483 798.9,483.4 802.5,483.4 802.5,568.1 804.3,568.1 804.3,567.8 806.1,567.8 806.1,567.9 807.8,567.9 807.8,568 809.6,568 809.6,578.6" fill="#e8463c" fill-opacity="0.24"/>
<polygon points="825.8,578.6 825.8,568.7 827.6,568.7 827.6,569.2 829.4,569.2 829.4,568.8 847.4,569.1 847.4,569.6 849.2,569.6 849.2,578.6" fill="#e8463c" fill-opacity="0.24"/>
<polygon points="865.4,578.6 865.4,569.3 869,569.3 869,568.6 870.8,568.6 870.8,569.3 872.6,569.3 872.6,569.8 876.2,569.8 876.2,569.3 878,569.3 878,568.6 879.8,568.6 879.8,569.3 883.3,569.4 883.3,569.8 885.1,569.8 885.1,568.6 886.9,568.6 886.9,569.4 888.7,569.4 888.7,578.6" fill="#e8463c" fill-opacity="0.24"/>
<polygon points="903.1,578.6 903.1,569.4 906.7,569.4 906.7,569.9 908.5,569.9 908.5,569.4 913.9,569.4 913.9,569.9 915.7,569.9 915.7,568.7 917.5,568.7 917.5,569.9 921.1,569.9 921.1,569.4 924.7,569.4 924.7,569.9 926.5,569.9 926.5,569.4 928.3,569.4 928.3,578.6" fill="#e8463c" fill-opacity="0.24"/>
<polygon points="942.7,578.6 942.7,569.9 944.5,569.9 944.5,569.4 953.5,569.4 953.5,568.7 955.3,568.7 955.3,569.9 957,569.9 957,568.7 962.4,568.7 962.4,569.4 966,569.4 966,569.9 967.8,569.9 967.8,578.6" fill="#e8463c" fill-opacity="0.24"/>
<polygon points="985.8,578.6 985.8,412.6 987.6,412.6 987.6,411.3 993,411.3 993,412.8 994.8,412.8 994.8,414.1 996.6,414.1 996.6,415.3 998.4,415.3 998.4,416.4 1000.2,416.4 1000.2,417.2 1002,417.2 1002,418.2 1003.8,418.2 1003.8,419.1 1005.6,419.1 1005.6,419.9 1007.4,419.9 1007.4,420.7 1009.2,420.7 1009.2,421.6 1011,421.6 1011,578.6" fill="#e8463c" fill-opacity="0.24"/>
<polygon points="1025.4,578.6 1025.4,426.8 1027.2,426.8 1027.2,427 1029,427 1029,427.4 1030.8,427.4 1030.8,427.8 1032.5,427.8 1032.5,428.3 1034.3,428.3 1034.3,428.5 1036.1,428.5 1036.1,428.8 1037.9,428.8 1037.9,429.1 1039.7,429.1 1039.7,429.4 1041.5,429.4 1041.5,429.8 1043.3,429.8 1043.3,429.9 1045.1,429.9 1045.1,430.1 1048.7,430.1 1048.7,430.3 1050.5,430.3 1050.5,578.6" fill="#e8463c" fill-opacity="0.24"/>
<polygon points="1064.9,578.6 1064.9,431.7 1066.7,431.7 1066.7,432.2 1070.3,432.2 1070.3,432 1072.1,432 1072.1,432.1 1073.9,432.1 1073.9,432.5 1075.7,432.5 1075.7,432.3 1077.5,432.3 1077.5,432.6 1079.3,432.6 1079.3,432.7 1081.1,432.7 1081.1,432.8 1082.9,432.8 1082.9,433 1084.7,433 1084.7,432.9 1086.5,432.9 1086.5,433 1088.3,433 1088.3,433.2 1090.1,433.2 1090.1,578.6" fill="#e8463c" fill-opacity="0.24"/>
<polygon points="1104.5,578.6 1104.5,433.6 1106.2,433.6 1106.2,433.4 1108,433.4 1108,433.2 1109.8,433.2 1109.8,433.6 1113.4,433.7 1113.4,433.3 1117,433.3 1117,433.6 1126,433.7 1126,433.8 1127.8,433.8 1127.8,433.7 1129.6,433.7 1129.6,578.6" fill="#e8463c" fill-opacity="0.24"/>
<polygon points="1144,578.6 1144,433.8 1149.4,433.8 1149.4,433.6 1151.2,433.6 1151.2,434 1154.8,434 1154.8,433.8 1156.6,433.8 1156.6,433.6 1158.4,433.6 1158.4,434 1160.2,434 1160.2,433.9 1162,433.9 1162,559.1 1163.8,559.1 1163.8,559.7 1165.6,559.7 1165.6,559.7 1167.4,559.7 1167.4,561.1 1169.2,561.1 1169.2,578.6" fill="#e8463c" fill-opacity="0.24"/>
<polygon points="1180,578.6 1180,563.4 1181.7,563.4 1181.7,563.7 1183.5,563.7 1183.5,563.9 1185.3,563.9 1185.3,564.2 1187.1,564.2 1187.1,564 1188.9,564 1188.9,564.7 1190.7,564.7 1190.7,564.9 1192.5,564.9 1192.5,565.5 1194.3,565.5 1194.3,565.3 1196.1,565.3 1196.1,565.5 1197.9,565.5 1197.9,565.6 1199.7,565.6 1199.7,565.8 1201.5,565.8 1201.5,566.4 1203.3,566.4 1203.3,578.6" fill="#e8463c" fill-opacity="0.24"/>
<polygon points="1219.5,578.6 1219.5,567 1221.3,567 1221.3,567.1 1223.1,567.1 1223.1,566.7 1224.9,566.7 1224.9,567.2 1226.7,567.2 1226.7,567.3 1228.5,567.3 1228.5,567.8 1230.3,567.8 1230.3,567.4 1232.1,567.4 1232.1,567.5 1233.9,567.5 1233.9,567.1 1235.7,567.1 1235.7,567.6 1237.5,567.6 1237.5,568 1241.1,568.1 1241.1,567.2 1242.9,567.2 1242.9,578.6" fill="#e8463c" fill-opacity="0.24"/>
<polygon points="1259,578.6 1259,568 1260.8,568 1260.8,568.4 1266.2,568.4 1266.2,568 1269.8,568 1269.8,567.6 1271.6,567.6 1271.6,568.5 1273.4,568.5 1273.4,568.1 1278.8,568.1 1278.8,568.5 1282.4,568.6 1282.4,578.6" fill="#e8463c" fill-opacity="0.24"/>
<polygon points="1298.6,578.6 1298.6,568.6 1300.4,568.6 1300.4,567.7 1302.2,567.7 1302.2,568.2 1304,568.2 1304,568.6 1305.8,568.6 1305.8,568.2 1307.6,568.2 1307.6,568.6 1309.4,568.6 1309.4,567.8 1311.2,567.8 1311.2,568.7 1314.8,568.7 1314.8,568.2 1316.6,568.2 1316.6,567.8 1318.4,567.8 1318.4,568.2 1322,568.2 1322,578.6" fill="#e8463c" fill-opacity="0.24"/>
<polygon points="1338.1,578.6 1338.1,568.2 1341.7,568.2 1341.7,516 1343.5,516 1343.5,519 1345.3,519 1345.3,521.4 1347.1,521.4 1347.1,522.2 1348.9,522.2 1348.9,523 1350.7,523 1350.7,523.6 1354.3,523.7 1354.3,524.8 1357.9,524.8 1357.9,525.1 1359.7,525.1 1359.7,525.3 1361.5,525.3 1361.5,578.6" fill="#e8463c" fill-opacity="0.24"/>
<polygon points="1375.9,578.6 1375.9,526.3 1377.7,526.3 1377.7,526.4 1379.5,526.4 1379.5,526.7 1381.3,526.7 1381.3,526 1383.1,526 1383.1,526.5 1384.9,526.5 1384.9,526.1 1386.7,526.1 1386.7,526.9 1388.5,526.9 1388.5,526.6 1390.3,526.6 1390.3,526.9 1393.9,527 1393.9,526.7 1397.5,526.7 1397.5,527.1 1399.3,527.1 1399.3,526.4 1401.1,526.4 1401.1,578.6" fill="#e8463c" fill-opacity="0.24"/>
<polygon points="1415.4,578.6 1415.4,527.3 1417.2,527.3 1417.2,527 1419,527 1419,527.3 1420.8,527.3 1420.8,527.1 1422.6,527.1 1422.6,527.4 1428,527.4 1428,527.1 1437,527.2 1437,527.5 1438.8,527.5 1438.8,527.2 1440.6,527.2 1440.6,578.6" fill="#e8463c" fill-opacity="0.24"/>
<polygon points="1455,578.6 1455,527.3 1456.8,527.3 1456.8,526.9 1458.6,526.9 1458.6,527.4 1460.4,527.4 1460.4,526.9 1464,527 1464,527.7 1465.8,527.7 1465.8,527.4 1469.4,527.4 1469.4,527 1471.2,527 1471.2,527.4 1476.6,527.5 1476.6,527.8 1478.4,527.8 1478.4,527.5 1480.1,527.5 1480.1,578.6" fill="#e8463c" fill-opacity="0.24"/>
<polygon points="1494.5,578.6 1494.5,527.5 1499.9,527.6 1499.9,527.9 1507.1,527.9 1507.1,527.1 1508.9,527.1 1508.9,527.6 1519.7,527.6 1519.7,578.6" fill="#e8463c" fill-opacity="0.24"/>
<polygon points="1534.1,578.6 1534.1,570.2 1537.7,570.2 1537.7,569.6 1543.1,569.6 1543.1,570.6 1544.9,570.6 1544.9,570.2 1546.7,570.2 1546.7,569.6 1548.5,569.6 1548.5,570.2 1550.3,570.2 1550.3,570.6 1552.1,570.6 1552.1,570.2 1557.4,570.2 1557.4,578.6" fill="#e8463c" fill-opacity="0.24"/>
<polygon points="1573.6,578.6 1573.6,570.2 1577.2,570.2 1577.2,570.6 1579,570.6 1579,570.2 1584.4,570.2 1584.4,569.6 1586.2,569.6 1586.2,570.6 1589.8,570.6 1589.8,570.2 1591.6,570.2 1591.6,570.6 1595.2,570.6 1595.2,570.2 1597,570.2 1597,578.6" fill="#e8463c" fill-opacity="0.24"/>
<polygon points="1613.2,578.6 1613.2,569.6 1615,569.6 1615,570.2 1616.8,570.2 1616.8,569.6 1618.6,569.6 1618.6,570.2 1627.6,570.2 1627.6,569.6 1629.4,569.6 1629.4,570.2 1634.7,570.2 1634.7,570.6 1636.5,570.6 1636.5,578.6" fill="#e8463c" fill-opacity="0.24"/>
<polygon points="1652.7,578.6 1652.7,570.6 1654.5,570.6 1654.5,570.2 1656.3,570.2 1656.3,569.6 1658.1,569.6 1658.1,570.6 1659.9,570.6 1659.9,569.6 1661.7,569.6 1661.7,570.2 1665.3,570.2 1665.3,569.6 1667.1,569.6 1667.1,570.6 1668.9,570.6 1668.9,570.2 1672.5,570.2 1672.5,570.6 1674.3,570.6 1674.3,570.2 1676.1,570.2 1676.1,578.6" fill="#e8463c" fill-opacity="0.24"/>
<polygon points="1692.3,578.6 1692.3,570.2 1701.3,570.2 1701.3,527.2 1703.1,527.2 1703.1,529.3 1706.6,529.3 1706.6,528.5 1708.4,528.5 1708.4,529.3 1712,529.3 1712,529 1713.8,529 1713.8,528.5 1715.6,528.5 1715.6,578.6" fill="#e8463c" fill-opacity="0.24"/>
<polygon points="1731.8,578.6 1731.8,528.5 1733.6,528.5 1733.6,529.3 1739,529.3 1739,529 1740.8,529 1740.8,528.5 1746.2,528.5 1746.2,529 1748,529 1748,529.3 1749.8,529.3 1749.8,528.5 1751.6,528.5 1751.6,529.3 1753.4,529.3 1753.4,529 1755.2,529 1755.2,578.6" fill="#e8463c" fill-opacity="0.24"/>
<polygon points="1771.4,578.6 1771.4,529 1775,529 1775,529.3 1776.8,529.3 1776.8,529 1780.3,529 1780.3,528.5 1783.9,528.5 1783.9,529 1787.5,529 1787.5,528.5 1789.3,528.5 1789.3,529 1791.1,529 1791.1,529.3 1792.9,529.3 1792.9,529 1794.7,529 1794.7,578.6" fill="#e8463c" fill-opacity="0.24"/>
<polygon points="1810.9,578.6 1810.9,528.5 1812.7,528.5 1812.7,529 1816.3,529 1816.3,529.3 1818.1,529.3 1818.1,529 1821.7,529 1821.7,529.3 1823.5,529.3 1823.5,528.5 1827.1,528.5 1827.1,529 1834.3,529 1834.3,578.6" fill="#e8463c" fill-opacity="0.24"/>
<polygon points="1848.7,578.6 1848.7,529.3 1850.5,529.3 1850.5,529 1852.3,529 1852.3,529.3 1854.1,529.3 1854.1,528.5 1855.8,528.5 1855.8,529 1857.6,529 1857.6,529.3 1859.4,529.3 1859.4,529 1866.6,529 1866.6,528.5 1868.4,528.5 1868.4,529 1870.2,529 1870.2,529.3 1872,529.3 1872,529 1873.8,529 1873.8,578.6" fill="#e8463c" fill-opacity="0.24"/>
<path d="M246.1 569.7V578.6M249.7 569.7V578.6M253.3 569.7V578.6M256.9 569.7V578.6M274.9 502.3V578.6M278.5 500.7V578.6M282 499.3V578.6M285.6 497.9V578.6M289.2 497V578.6M292.8 496.2V578.6M296.4 495.5V578.6M314.4 492.7V578.6M318 492.2V578.6M321.6 492.1V578.6M325.2 490.9V578.6M328.8 490.6V578.6M332.4 490.7V578.6M336 490.3V578.6M357.5 488.8V578.6M361.1 488.6V578.6M364.7 488.4V578.6M368.3 488.2V578.6M375.5 487.4V578.6M393.5 486.8V578.6M397.1 487.4V578.6M400.7 487V578.6M404.3 486.9V578.6M407.9 486.8V578.6M411.5 486.3V578.6M415.1 486.7V578.6M433 485.9V578.6M436.6 486.3V578.6M440.2 485.8V578.6M443.8 568.1V578.6M447.4 568.3V578.6M451 568.5V578.6M454.6 567.9V578.6M472.6 569.1V578.6M479.8 569.2V578.6M483.4 568.5V578.6M487 569.3V578.6M490.6 569.3V578.6M494.2 569.3V578.6M512.1 569.4V578.6M515.7 568.7V578.6M519.3 568.7V578.6M526.5 569.9V578.6M530.1 569.4V578.6M533.7 568.7V578.6M551.7 569.4V578.6M555.3 568.7V578.6M558.9 569.4V578.6M562.5 569.4V578.6M566.1 569.4V578.6M569.7 569.4V578.6M573.3 569.9V578.6M591.2 569.9V578.6M594.8 569.4V578.6M598.4 569.4V578.6M602 569.9V578.6M605.6 568.7V578.6M609.2 569.4V578.6M630.8 495.4V578.6M634.4 493.3V578.6M638 492.3V578.6M641.6 491.1V578.6M645.2 490.4V578.6M648.8 489.9V578.6M670.3 487.8V578.6M673.9 486.7V578.6M677.5 486.9V578.6M681.1 486.6V578.6M684.7 486.4V578.6M709.9 485.4V578.6M713.5 485.2V578.6M717.1 484.4V578.6M720.7 484.7V578.6M724.3 484.6V578.6M727.9 484.5V578.6M749.4 484.3V578.6M753 483.9V578.6M756.6 484.2V578.6M760.2 483.4V578.6M763.8 483.8V578.6M767.4 483.3V578.6M789 483.5V578.6M792.6 483V578.6M796.2 483.4V578.6M799.8 483.4V578.6M803.4 568.1V578.6M806.9 567.9V578.6M828.5 569.2V578.6M832.1 568.8V578.6M835.7 568.9V578.6M839.3 569V578.6M842.9 569V578.6M846.5 569.1V578.6M868.1 569.3V578.6M871.7 569.3V578.6M875.3 569.8V578.6M878.9 568.6V578.6M882.4 569.4V578.6M886 568.6V578.6M907.6 569.9V578.6M911.2 569.4V578.6M914.8 569.9V578.6M918.4 569.9V578.6M922 569.4V578.6M925.6 569.9V578.6M943.6 569.9V578.6M947.2 569.4V578.6M950.8 569.4V578.6M954.4 568.7V578.6M957.9 568.7V578.6M961.5 568.7V578.6M965.1 569.4V578.6M986.7 412.6V578.6M990.3 411.3V578.6M993.9 412.8V578.6M997.5 415.3V578.6M1001.1 417.2V578.6M1004.7 419.1V578.6M1008.3 420.7V578.6M1026.3 426.8V578.6M1029.9 427.4V578.6M1033.4 428.3V578.6M1037 428.8V578.6M1040.6 429.4V578.6M1044.2 429.9V578.6M1047.8 430.1V578.6M1065.8 431.7V578.6M1069.4 432.2V578.6M1073 432.1V578.6M1076.6 432.3V578.6M1080.2 432.7V578.6M1083.8 433V578.6M1087.4 433V578.6M1105.4 433.6V578.6M1108.9 433.2V578.6M1112.5 433.7V578.6M1116.1 433.3V578.6M1119.7 433.6V578.6M1123.3 433.6V578.6M1126.9 433.8V578.6M1144.9 433.8V578.6M1148.5 433.8V578.6M1152.1 434V578.6M1155.7 433.8V578.6M1159.3 434V578.6M1162.9 559.1V578.6M1166.5 559.7V578.6M1180.8 563.4V578.6M1184.4 563.9V578.6M1188 564V578.6M1191.6 564.9V578.6M1195.2 565.3V578.6M1198.8 565.6V578.6M1202.4 566.4V578.6M1220.4 567V578.6M1224 566.7V578.6M1227.6 567.3V578.6M1231.2 567.4V578.6M1234.8 567.1V578.6M1238.4 568V578.6M1242 567.2V578.6M1259.9 568V578.6M1263.5 568.4V578.6M1267.1 568V578.6M1270.7 567.6V578.6M1274.3 568.1V578.6M1277.9 568.1V578.6M1281.5 568.6V578.6M1299.5 568.6V578.6M1303.1 568.2V578.6M1306.7 568.2V578.6M1310.3 567.8V578.6M1313.9 568.7V578.6M1317.5 567.8V578.6M1321.1 568.2V578.6M1339 568.2V578.6M1342.6 516V578.6M1346.2 521.4V578.6M1349.8 523V578.6M1353.4 523.7V578.6M1357 524.8V578.6M1360.6 525.3V578.6M1378.6 526.4V578.6M1382.2 526V578.6M1385.8 526.1V578.6M1389.4 526.6V578.6M1393 527V578.6M1396.6 526.7V578.6M1400.2 526.4V578.6M1418.1 527V578.6M1421.7 527.1V578.6M1425.3 527.4V578.6M1428.9 527.1V578.6M1432.5 527.2V578.6M1436.1 527.2V578.6M1439.7 527.2V578.6M1457.7 526.9V578.6M1461.3 526.9V578.6M1464.9 527.7V578.6M1468.5 527.4V578.6M1472.1 527.4V578.6M1475.7 527.5V578.6M1479.3 527.5V578.6M1497.2 527.6V578.6M1500.8 527.9V578.6M1504.4 527.9V578.6M1508 527.1V578.6M1511.6 527.6V578.6M1515.2 527.6V578.6M1518.8 527.6V578.6M1536.8 570.2V578.6M1540.4 569.6V578.6M1544 570.6V578.6M1547.6 569.6V578.6M1551.2 570.6V578.6M1554.8 570.2V578.6M1576.3 570.2V578.6M1579.9 570.2V578.6M1583.5 570.2V578.6M1587.1 570.6V578.6M1590.7 570.2V578.6M1594.3 570.6V578.6M1615.9 570.2V578.6M1619.5 570.2V578.6M1623.1 570.2V578.6M1626.7 570.2V578.6M1630.2 570.2V578.6M1633.8 570.2V578.6M1655.4 570.2V578.6M1659 570.6V578.6M1662.6 570.2V578.6M1666.2 569.6V578.6M1669.8 570.2V578.6M1673.4 570.6V578.6M1695 570.2V578.6M1698.6 570.2V578.6M1702.2 527.2V578.6M1705.7 529.3V578.6M1709.3 529.3V578.6M1712.9 529V578.6M1734.5 529.3V578.6M1738.1 529.3V578.6M1741.7 528.5V578.6M1745.3 528.5V578.6M1748.9 529.3V578.6M1752.5 529.3V578.6M1774.1 529V578.6M1777.7 529V578.6M1781.2 528.5V578.6M1784.8 529V578.6M1788.4 528.5V578.6M1792 529.3V578.6M1813.6 529V578.6M1817.2 529.3V578.6M1820.8 529V578.6M1824.4 528.5V578.6M1828 529V578.6M1831.6 529V578.6M1849.6 529.3V578.6M1853.2 529.3V578.6M1856.7 529V578.6M1860.3 529V578.6M1863.9 529V578.6M1867.5 528.5V578.6M1871.1 529.3V578.6" stroke="#e8463c" stroke-width="1.9" stroke-opacity="0.65" fill="none"/>
<rect x="982.4" y="335.6" width="180.5" height="6.6" fill="#fff"/>
<path d="M244.8 560.9H263.5M262.8 457.2H265.3M264.6 449.2H267.1M266.4 440.6H268.9M268.2 435.2H270.7M270 432.5H272.5M271.8 429.2H274.3M273.6 426.1H276.1M275.4 424H277.9M277.2 422.8H279.7M279 419.9H281.5M280.8 420H283.3M282.6 418.3H285.1M284.4 417.3H286.9M286.2 415.4H290.5M289.8 414.6H292.3M291.6 413.9H294.1M293.4 413.7H295.9M295.2 412.4H297.7M297 412.3H299.5M298.8 410.2H301.3M300.6 409.6H303.1M302.4 410.5H304.9M304.2 409.3H308.5M307.8 408.2H310.3M309.6 408.3H312.1M311.4 407.2H313.9M313.2 406.7H315.7M315 406.3H317.5M316.8 405.8H319.3M318.6 405.4H321M320.3 405.6H322.8M322.1 404.6H324.6M323.9 403.3H326.4M325.7 403.8H328.2M327.5 402.5H330M329.3 403.7H331.8M331.1 402.7H333.6M332.9 403H335.4M334.7 402.1H337.2M336.5 401.8H339M338.3 400.6H340.8M340.1 401.2H342.6M341.9 400.9H344.4M343.7 399.7H346.2M345.5 400.3H348M347.3 399.2H349.8M349.1 400.4H351.6M350.9 399.6H353.4M352.7 399.4H355.2M354.5 399.1H357M356.3 398.9H358.8M358.1 399.3H360.6M359.9 398.5H362.4M361.7 398.3H364.2M363.5 398.1H366M365.3 398.5H367.8M367.1 397.8H369.6M368.9 396.7H371.4M370.7 397.4H373.2M372.5 397.3H375M374.3 396.2H376.8M376.1 397H378.6M377.9 396.8H380.4M379.7 396.7H382.2M381.5 396.6H384M383.3 396.4H385.8M385.1 396.3H387.6M386.9 395.3H389.4M388.7 395.2H391.2M390.5 395.1H393M392.3 394.9H394.7M394 395.7H396.5M395.8 396.2H398.3M397.6 395.5H400.1M399.4 395.4H401.9M401.2 395.3H403.7M403 395.2H405.5M404.8 395.2H407.3M406.6 395.1H409.1M408.4 395H410.9M410.2 394H412.7M412 394.8H414.5M413.8 394.8H416.3M415.6 394.7H418.1M417.4 394.6H419.9M419.2 394.5H421.7M421 394.5H423.5M422.8 393.5H425.3M424.6 393.5H427.1M426.4 394.3H428.9M428.2 394.8H430.7M430 394.2H432.5M431.8 393.2H434.3M433.6 394.7H436.1M435.4 394H439.7M439 393.1H443.3M442.6 557.6H445.1M444.4 557.8H446.9M446.2 558H448.7M448 558.2H450.5M449.8 558.4H452.3M451.6 558.5H454.1M453.4 557.2H455.9M455.2 558.8H457.7M457 558.9H459.5M458.8 559H461.3M460.6 559.1H463.1M462.4 559.2H464.9M464.2 557.8H466.7M466 560.3H468.5M467.8 558H470.2M469.5 559.5H472M471.3 559.6H473.8M473.1 559.6H475.6M474.9 559.7H479.2M478.5 559.8H482.8M482.1 558.4H484.6M483.9 559.9H488.2M487.5 560H491.8M491.1 560H497.2M496.5 558.6H499M498.3 561H500.8M500.1 560.1H504.4M503.7 558.7H506.2M505.5 560.1H509.8M509.1 558.7H511.6M510.9 560.2H515.2M514.5 558.7H517M516.3 560.2H518.8M518.1 558.7H520.6M519.9 560.2H526M525.3 561.1H527.8M527.1 560.2H533.2M532.5 558.8H535M534.3 560.3H536.8M536.1 561.1H538.6M537.9 560.3H542.2M541.5 561.2H545.7M545 558.8H547.5M546.8 560.3H549.3M548.6 561.2H551.1M550.4 560.3H554.7M554 558.8H556.5M555.8 560.3H567.3M566.6 558.8H569.1M568.4 560.3H572.7M572 561.2H576.3M575.6 560.3H581.7M581 558.8H583.5M582.8 560.3H587.1M586.4 558.8H588.9M588.2 560.3H590.7M590 561.2H592.5M591.8 560.3H599.7M599 558.8H601.5M600.8 561.2H603.3M602.6 558.8H606.9M606.2 560.3H614.1M613.4 561.2H615.9M615.2 560.3H623M622.3 436H624.8M624.1 427.1H626.6M625.9 420.4H628.4M627.7 415.6H630.2M629.5 412.3H632M631.3 409.8H633.8M633.1 407.9H635.6M634.9 407.1H637.4M636.7 405.9H639.2M638.5 404.4H641M640.3 403.6H642.8M642.1 402.9H644.6M643.9 402.2H646.4M645.7 400.8H648.2M647.5 401.1H650M649.3 401.2H651.8M651.1 400.7H653.6M652.9 399.7H655.4M654.7 399.8H657.2M656.5 398.8H659M658.3 398.4H660.8M660.1 397.1H662.6M661.9 397.7H664.4M663.7 397.3H666.2M665.5 397H668M667.3 396.6H669.8M669.1 396.9H671.6M670.9 396H673.4M672.7 394.8H675.2M674.5 395.4H677M676.3 395.1H678.8M678.1 394.9H680.6M679.9 394.6H682.4M681.7 394.4H684.2M683.5 394.1H686M685.3 393H687.8M687.1 394.3H689.6M688.9 393.5H691.4M690.7 393.3H693.2M692.5 393.1H694.9M694.2 392.9H696.7M696 392.7H698.5M697.8 392.5H700.3M699.6 391.4H702.1M701.4 392.2H703.9M703.2 391.1H705.7M705 391.8H707.5M706.8 390.8H709.3M708.6 392.1H711.1M710.4 391.4H712.9M712.2 391.9H714.7M714 390.2H716.5M715.8 390.1H718.3M717.6 391.5H720.1M719.4 390.8H721.9M721.2 391.2H723.7M723 390.5H725.5M724.8 390.4H727.3M726.6 390.3H729.1M728.4 390.2H730.9M730.2 390.1H732.7M732 389.2H734.5M733.8 390H736.3M735.6 389H738.1M737.4 390.4H739.9M739.2 388.8H741.7M741 388.8H743.5M742.8 388.7H745.3M744.6 390.1H747.1M746.4 389.4H748.9M748.2 390H750.7M750 389.9H752.5M751.8 389.2H754.3M753.6 389.2H756.1M755.4 389.7H757.9M757.2 389.1H759.7M759 388.1H761.5M760.8 389H765.1M764.4 388.9H766.9M766.2 387.9H768.7M768 389.4H770.4M769.7 387.8H772.2M771.5 388.7H775.8M775.1 388.6H779.4M778.7 388.5H781.2M780.5 389.1H783M782.3 388.5H784.8M784.1 389H786.6M785.9 388.4H790.2M789.5 387.5H793.8M793.1 388.3H797.4M796.7 387.3H799.2M798.5 388.2H802.8M802.1 557.6H804.6M803.9 557H806.4M805.7 557.2H808.2M807.5 557.4H810M809.3 557.6H811.8M811.1 557.8H813.6M812.9 556.4H815.4M814.7 558.1H817.2M816.5 558.2H819M818.3 558.3H820.8M820.1 558.5H822.6M821.9 558.6H824.4M823.7 558.7H826.2M825.5 558.8H828M827.3 559.8H829.8M829.1 559H831.6M830.9 559.1H833.4M832.7 559.2H835.2M834.5 559.2H837M836.3 559.3H838.8M838.1 559.4H840.6M839.9 559.4H842.4M841.7 559.5H844.1M843.4 559.5H847.7M847 560.5H849.5M848.8 558.2H851.3M850.6 559.7H853.1M852.4 560.6H854.9M854.2 559.8H856.7M856 560.7H858.5M857.8 558.4H860.3M859.6 559.9H863.9M863.2 559.9H869.3M868.6 558.5H871.1M870.4 560H872.9M872.2 560.9H876.5M875.8 560.1H878.3M877.6 558.6H880.1M879.4 560.1H883.7M883 561H885.5M884.8 558.6H887.3M886.6 560.1H889.1M888.4 561H890.9M890.2 560.2H903.5M902.8 560.2H907.1M906.4 561.1H908.9M908.2 560.2H914.3M913.6 561.1H916.1M915.4 558.8H917.9M917.2 561.1H921.4M920.7 560.2H925M924.3 561.1H926.8M926.1 560.3H935.8M935.1 561.2H937.6M936.9 560.3H941.2M940.5 558.8H943M942.3 561.2H944.8M944.1 560.3H953.8M953.1 558.8H955.6M954.9 561.2H957.4M956.7 558.8H962.8M962.1 560.3H966.4M965.7 561.2H968.2M967.5 560.3H973.6M972.9 561.2H975.4M974.7 560.3H982.6M981.9 273.7H984.4M983.7 253.1H986.2M985.5 246.6H988M987.3 244.1H993.4M992.7 247H995.1M994.4 249.7H996.9M996.2 252H998.7M998 254.1H1000.5M999.8 255.8H1002.3M1001.6 257.7H1004.1M1003.4 259.5H1005.9M1005.2 261.2H1007.7M1007 262.9H1009.5M1008.8 264.7H1011.3M1010.6 265.8H1013.1M1012.4 267.1H1014.9M1014.2 268.4H1016.7M1016 269.6H1018.5M1017.8 270.7H1020.3M1019.6 271.8H1022.1M1021.4 272.3H1023.9M1023.2 273.7H1025.7M1025 274.9H1027.5M1026.8 275.5H1029.3M1028.6 276.2H1031.1M1030.4 277H1032.9M1032.2 278H1034.7M1034 278.4H1036.5M1035.8 279H1038.3M1037.6 279.6H1040.1M1039.4 280.1H1041.9M1041.2 281H1043.7M1043 281.2H1045.5M1044.8 281.6H1049.1M1048.4 282H1050.9M1050.2 282.9H1052.7M1052 283.2H1054.5M1053.8 283.6H1056.3M1055.6 283.9H1058.1M1057.4 283.7H1059.9M1059.2 284.5H1061.7M1061 284.8H1063.5M1062.8 285H1065.3M1064.6 284.8H1067.1M1066.4 285.8H1068.8M1068.1 285.7H1070.6M1069.9 285.5H1072.4M1071.7 285.7H1074.2M1073.5 286.3H1076M1075.3 286H1077.8M1077.1 286.6H1079.6M1078.9 286.8H1081.4M1080.7 286.9H1083.2M1082.5 287.4H1085M1084.3 287.2H1086.8M1086.1 287.3H1088.6M1087.9 287.7H1090.4M1089.7 287.5H1092.2M1091.5 287.2H1094M1093.3 287.7H1095.8M1095.1 288.1H1097.6M1096.9 287.9H1099.4M1098.7 287.5H1101.2M1100.5 288.1H1103M1102.3 288.1H1104.8M1104.1 288.5H1106.6M1105.9 288.3H1108.4M1107.7 287.9H1110.2M1109.5 288.7H1112M1111.3 288.8H1113.8M1113.1 288H1117.4M1116.7 288.6H1121M1120.3 288.7H1124.6M1123.9 288.7H1126.4M1125.7 289.1H1128.2M1127.5 288.8H1131.8M1131.1 288.4H1133.6M1132.9 288.9H1139M1138.3 289H1144.3M1143.6 289H1149.7M1149 288.6H1151.5M1150.8 289.4H1155.1M1154.4 289.1H1156.9M1156.2 288.6H1158.7M1158 289.4H1160.5M1159.8 289.1H1162.3M1161.6 539.6H1164.1M1163.4 540.7H1165.9M1165.2 540.9H1167.7M1167 543.6H1169.5M1168.8 544.6H1171.3M1170.6 545.4H1173.1M1172.4 545.3H1174.9M1174.2 545.2H1176.7M1176 546.8H1178.5M1177.8 547.5H1180.3M1179.6 548.1H1182.1M1181.4 548.7H1183.9M1183.2 549.3H1185.7M1185 549.8H1187.5M1186.8 549.4H1189.3M1188.6 550.8H1191.1M1190.4 551.2H1192.9M1192.2 552.5H1194.7M1194 552H1196.5M1195.8 552.3H1198.3M1197.6 552.7H1200.1M1199.4 553H1201.9M1201.2 554.2H1203.7M1203 553.6H1205.5M1204.8 553.8H1207.3M1206.6 553.2H1209.1M1208.4 554.3H1210.9M1210.2 555.4H1212.7M1212 553.9H1214.5M1213.8 554.9H1216.3M1215.6 554.2H1218.1M1217.4 555.3H1219.8M1219.1 555.5H1221.6M1220.9 555.6H1223.4M1222.7 554.9H1225.2M1224.5 555.9H1227M1226.3 556H1228.8M1228.1 557H1230.6M1229.9 556.2H1232.4M1231.7 556.3H1234.2M1233.5 555.5H1236M1235.3 556.5H1237.8M1237.1 557.5H1239.6M1238.9 557.6H1241.4M1240.7 555.9H1243.2M1242.5 555.9H1245M1244.3 557.8H1246.8M1246.1 557H1248.6M1247.9 557H1250.4M1249.7 556.2H1252.2M1251.5 558H1255.8M1255.1 557.2H1257.6M1256.9 558.1H1259.4M1258.7 557.3H1261.2M1260.5 558.2H1264.8M1264.1 558.3H1266.6M1265.9 557.4H1270.2M1269.5 556.6H1272M1271.3 558.4H1273.8M1273.1 557.5H1279.2M1278.5 558.5H1282.8M1282.1 557.7H1284.6M1283.9 558.6H1286.4M1285.7 556.8H1288.2M1287.5 557.7H1290M1289.3 556.8H1291.8M1291.1 558.6H1293.5M1292.8 557.7H1295.3M1294.6 558.6H1297.1M1296.4 557.8H1298.9M1298.2 558.7H1300.7M1300 556.9H1302.5M1301.8 557.8H1304.3M1303.6 558.7H1306.1M1305.4 557.8H1307.9M1307.2 558.7H1309.7M1309 556.9H1311.5M1310.8 558.7H1315.1M1314.4 557.8H1316.9M1316.2 557H1318.7M1318 557.8H1324.1M1323.4 558.7H1325.9M1325.2 557H1331.3M1330.6 557.9H1334.9M1334.2 557H1338.5M1337.8 557.9H1342.1M1341.4 453.4H1343.9M1343.2 459.3H1345.7M1345 464.2H1347.5M1346.8 465.9H1349.3M1348.6 467.5H1351.1M1350.4 468.7H1352.9M1352.2 468.7H1354.7M1354 471H1358.3M1357.6 471.5H1360.1M1359.4 472H1361.9M1361.2 472.3H1363.7M1363 472.7H1365.5M1364.8 472.9H1367.3M1366.6 473.2H1369M1368.3 473.4H1370.8M1370.1 473.6H1372.6M1371.9 473.7H1374.4M1373.7 473.9H1376.2M1375.5 474H1378M1377.3 474.1H1379.8M1379.1 474.8H1381.6M1380.9 473.4H1383.4M1382.7 474.4H1385.2M1384.5 473.6H1387M1386.3 475.2H1388.8M1388.1 474.6H1390.6M1389.9 475.3H1392.4M1391.7 475.4H1394.2M1393.5 474.8H1396M1395.3 474.9H1397.8M1397.1 475.5H1399.6M1398.9 474.1H1401.4M1400.7 475.1H1403.2M1402.5 474.2H1406.8M1406.1 475.8H1410.4M1409.7 475.3H1412.2M1411.5 475.9H1414M1413.3 475.4H1415.8M1415.1 476H1417.6M1416.9 475.5H1419.4M1418.7 476.1H1421.2M1420.5 475.5H1423M1422.3 476.2H1426.6M1425.9 476.2H1428.4M1427.7 475.7H1432M1431.3 475.7H1435.6M1434.9 475.8H1437.4M1436.7 476.4H1439.2M1438.5 475.9H1442.8M1442.1 475.9H1446.3M1445.6 476H1449.9M1449.2 476H1455.3M1454.6 476.1H1457.1M1456.4 475.2H1458.9M1458.2 476.1H1460.7M1460 475.3H1464.3M1463.6 476.8H1466.1M1465.4 476.2H1469.7M1469 475.4H1471.5M1470.8 476.3H1476.9M1476.2 476.9H1478.7M1478 476.4H1484.1M1483.4 477H1485.9M1485.2 476.4H1487.7M1487 477H1489.5M1488.8 476.4H1493.1M1492.4 475.6H1494.9M1494.2 476.5H1500.3M1499.6 477.1H1507.5M1506.8 475.7H1509.3M1508.6 476.6H1518.2M1517.5 476.6H1521.8M1521.1 561.8H1525.4M1524.7 562.7H1527.2M1526.5 561.8H1530.8M1530.1 560.6H1532.6M1531.9 561.8H1538M1537.3 560.6H1543.4M1542.7 562.7H1545.2M1544.5 561.8H1547M1546.3 560.6H1548.8M1548.1 561.8H1550.6M1549.9 562.7H1552.4M1551.7 561.8H1561.4M1560.7 560.6H1565M1564.3 561.8H1568.6M1567.9 560.6H1570.4M1569.7 561.8H1572.2M1571.5 562.7H1574M1573.3 561.8H1577.6M1576.9 562.7H1579.4M1578.7 561.8H1584.8M1584.1 560.6H1586.6M1585.9 562.7H1590.2M1589.5 561.8H1592M1591.3 562.7H1595.5M1594.8 561.8H1604.5M1603.8 560.6H1606.3M1605.6 561.8H1609.9M1609.2 562.7H1611.7M1611 561.8H1613.5M1612.8 560.6H1615.3M1614.6 561.8H1617.1M1616.4 560.6H1618.9M1618.2 561.8H1627.9M1627.2 560.6H1629.7M1629 561.8H1635.1M1634.4 562.7H1636.9M1636.2 561.8H1647.7M1647 560.6H1649.5M1648.8 562.7H1651.3M1650.6 561.8H1653.1M1652.4 562.7H1654.9M1654.2 561.8H1656.7M1656 560.6H1658.5M1657.8 562.7H1660.3M1659.6 560.6H1662.1M1661.4 561.8H1665.7M1665 560.6H1667.5M1666.8 562.7H1669.2M1668.5 561.8H1672.8M1672.1 562.7H1674.6M1673.9 561.8H1680M1679.3 560.6H1683.6M1682.9 562.7H1685.4M1684.7 561.8H1689M1688.3 560.6H1690.8M1690.1 561.8H1701.6M1700.9 475.8H1703.4M1702.7 480H1707M1706.3 478.5H1708.8M1708.1 480H1712.4M1711.7 479.4H1714.2M1713.5 478.5H1716M1715.3 479.4H1717.8M1717.1 480H1721.4M1720.7 479.4H1723.2M1722.5 478.5H1725M1724.3 479.4H1726.8M1726.1 478.5H1730.4M1729.7 479.4H1732.2M1731.5 478.5H1734M1733.3 480H1739.4M1738.7 479.4H1741.2M1740.5 478.5H1746.5M1745.8 479.4H1748.3M1747.6 480H1750.1M1749.4 478.5H1751.9M1751.2 480H1753.7M1753 479.4H1757.3M1756.6 480H1759.1M1758.4 479.4H1760.9M1760.2 478.5H1762.7M1762 479.4H1764.5M1763.8 480H1766.3M1765.6 479.4H1775.3M1774.6 480H1777.1M1776.4 479.4H1780.7M1780 478.5H1784.3M1783.6 479.4H1787.9M1787.2 478.5H1789.7M1789 479.4H1791.5M1790.8 480H1793.3M1792.6 479.4H1798.7M1798 478.5H1802.3M1801.6 479.4H1807.7M1807 480H1809.5M1808.8 479.4H1811.3M1810.6 478.5H1813.1M1812.4 479.4H1816.7M1816 480H1818.4M1817.7 479.4H1822M1821.3 480H1823.8M1823.1 478.5H1827.4M1826.7 479.4H1834.6M1833.9 480H1836.4M1835.7 479.4H1841.8M1841.1 478.5H1843.6M1842.9 479.4H1845.4M1844.7 478.5H1849M1848.3 480H1850.8M1850.1 479.4H1852.6M1851.9 480H1854.4M1853.7 478.5H1856.2M1855.5 479.4H1858M1857.3 480H1859.8M1859.1 479.4H1867M1866.3 478.5H1868.8M1868.1 479.4H1870.6M1869.9 480H1872.4M1871.7 479.4H1874.2M1873.5 480H1877.8M1877.1 479.4H1881.4" stroke="#e60a14" stroke-width="2.6" fill="none"/>
<polygon points="245.2,179.7 245.2,165.1 263.2,165.1 263.2,137.2 442.9,137.2 442.9,165.1 622.7,165.1 622.7,137.2 802.5,137.2 802.5,165.1 982.2,165.1 982.2,52.3 1162,52.3 1162,165.1 1341.7,165.1 1341.7,137.2 1521.5,137.2 1521.5,165.1 1701.3,165.1 1701.3,137.2 1881,137.2 1881,179.7" fill="#d4d1cf"/>
<path d="M246.1 165.1V179.7M249.7 165.1V179.7M253.3 165.1V179.7M256.9 165.1V179.7M260.5 165.1V179.7M264.1 137.2V179.7M267.7 137.2V179.7M285.6 137.2V179.7M289.2 137.2V179.7M292.8 137.2V179.7M296.4 137.2V179.7M300 137.2V179.7M303.6 137.2V179.7M307.2 137.2V179.7M328.8 137.2V179.7M332.4 137.2V179.7M336 137.2V179.7M339.6 137.2V179.7M343.2 137.2V179.7M346.8 137.2V179.7M350.4 137.2V179.7M354 137.2V179.7M382.7 137.2V179.7M386.3 137.2V179.7M389.9 137.2V179.7M393.5 137.2V179.7M397.1 137.2V179.7M400.7 137.2V179.7M404.3 137.2V179.7M407.9 137.2V179.7M436.6 137.2V179.7M440.2 137.2V179.7M443.8 165.1V179.7M447.4 165.1V179.7M451 165.1V179.7M454.6 165.1V179.7M465.4 165.1V179.7M469 165.1V179.7M472.6 165.1V179.7M476.2 165.1V179.7M479.8 165.1V179.7M512.1 165.1V179.7M515.7 165.1V179.7M519.3 165.1V179.7M522.9 165.1V179.7M551.7 165.1V179.7M555.3 165.1V179.7M569.7 165.1V179.7M573.3 165.1V179.7M594.8 165.1V179.7M598.4 165.1V179.7M602 165.1V179.7M605.6 165.1V179.7M609.2 165.1V179.7M627.2 137.2V179.7M630.8 137.2V179.7M634.4 137.2V179.7M638 137.2V179.7M641.6 137.2V179.7M666.7 137.2V179.7M670.3 137.2V179.7M699.1 137.2V179.7M702.7 137.2V179.7M706.3 137.2V179.7M717.1 137.2V179.7M720.7 137.2V179.7M724.3 137.2V179.7M727.9 137.2V179.7M731.4 137.2V179.7M735 137.2V179.7M738.6 137.2V179.7M742.2 137.2V179.7M756.6 137.2V179.7M760.2 137.2V179.7M763.8 137.2V179.7M767.4 137.2V179.7M771 137.2V179.7M789 137.2V179.7M792.6 137.2V179.7M796.2 137.2V179.7M828.5 165.1V179.7M832.1 165.1V179.7M835.7 165.1V179.7M839.3 165.1V179.7M842.9 165.1V179.7M857.3 165.1V179.7M860.9 165.1V179.7M864.5 165.1V179.7M868.1 165.1V179.7M871.7 165.1V179.7M875.3 165.1V179.7M878.9 165.1V179.7M882.4 165.1V179.7M914.8 165.1V179.7M918.4 165.1V179.7M922 165.1V179.7M936.4 165.1V179.7M940 165.1V179.7M943.6 165.1V179.7M947.2 165.1V179.7M950.8 165.1V179.7M954.4 165.1V179.7M983.1 52.3V179.7M986.7 52.3V179.7M990.3 52.3V179.7M993.9 52.3V179.7M997.5 52.3V179.7M1011.9 52.3V179.7M1015.5 52.3V179.7M1019.1 52.3V179.7M1029.9 52.3V179.7M1033.4 52.3V179.7M1051.4 52.3V179.7M1055 52.3V179.7M1058.6 52.3V179.7M1062.2 52.3V179.7M1065.8 52.3V179.7M1069.4 52.3V179.7M1073 52.3V179.7M1076.6 52.3V179.7M1091 52.3V179.7M1094.6 52.3V179.7M1098.2 52.3V179.7M1112.5 52.3V179.7M1116.1 52.3V179.7M1119.7 52.3V179.7M1123.3 52.3V179.7M1144.9 52.3V179.7M1148.5 52.3V179.7M1152.1 52.3V179.7M1177.3 165.1V179.7M1180.8 165.1V179.7M1184.4 165.1V179.7M1188 165.1V179.7M1191.6 165.1V179.7M1195.2 165.1V179.7M1198.8 165.1V179.7M1227.6 165.1V179.7M1231.2 165.1V179.7M1234.8 165.1V179.7M1238.4 165.1V179.7M1252.8 165.1V179.7M1256.3 165.1V179.7M1259.9 165.1V179.7M1263.5 165.1V179.7M1267.1 165.1V179.7M1270.7 165.1V179.7M1274.3 165.1V179.7M1292.3 165.1V179.7M1295.9 165.1V179.7M1299.5 165.1V179.7M1303.1 165.1V179.7M1306.7 165.1V179.7M1324.7 165.1V179.7M1328.3 165.1V179.7M1346.2 137.2V179.7M1349.8 137.2V179.7M1353.4 137.2V179.7M1357 137.2V179.7M1360.6 137.2V179.7M1375 137.2V179.7M1378.6 137.2V179.7M1382.2 137.2V179.7M1400.2 137.2V179.7M1403.8 137.2V179.7M1407.3 137.2V179.7M1425.3 137.2V179.7M1428.9 137.2V179.7M1432.5 137.2V179.7M1436.1 137.2V179.7M1464.9 137.2V179.7M1468.5 137.2V179.7M1472.1 137.2V179.7M1475.7 137.2V179.7M1479.3 137.2V179.7M1482.8 137.2V179.7M1493.6 137.2V179.7M1497.2 137.2V179.7M1500.8 137.2V179.7M1504.4 137.2V179.7M1508 137.2V179.7M1511.6 137.2V179.7M1515.2 137.2V179.7M1544 165.1V179.7M1547.6 165.1V179.7M1551.2 165.1V179.7M1554.8 165.1V179.7M1558.3 165.1V179.7M1561.9 165.1V179.7M1565.5 165.1V179.7M1587.1 165.1V179.7M1590.7 165.1V179.7M1608.7 165.1V179.7M1612.3 165.1V179.7M1615.9 165.1V179.7M1619.5 165.1V179.7M1623.1 165.1V179.7M1641 165.1V179.7M1644.6 165.1V179.7M1648.2 165.1V179.7M1651.8 165.1V179.7M1655.4 165.1V179.7M1687.8 165.1V179.7M1691.4 165.1V179.7M1695 165.1V179.7M1698.6 165.1V179.7M1712.9 137.2V179.7M1716.5 137.2V179.7M1720.1 137.2V179.7M1723.7 137.2V179.7M1727.3 137.2V179.7M1730.9 137.2V179.7M1752.5 137.2V179.7M1756.1 137.2V179.7M1759.7 137.2V179.7M1763.3 137.2V179.7M1766.9 137.2V179.7M1770.5 137.2V179.7M1774.1 137.2V179.7M1777.7 137.2V179.7M1792 137.2V179.7M1795.6 137.2V179.7M1813.6 137.2V179.7M1817.2 137.2V179.7M1846 137.2V179.7M1849.6 137.2V179.7M1853.2 137.2V179.7M1856.7 137.2V179.7M1860.3 137.2V179.7" stroke="#6b6663" stroke-width="2" fill="none"/>
<path d="M271.3 137.2V179.7M274.9 137.2V179.7M278.5 137.2V179.7M282 137.2V179.7M310.8 137.2V179.7M314.4 137.2V179.7M318 137.2V179.7M321.6 137.2V179.7M325.2 137.2V179.7M357.5 137.2V179.7M361.1 137.2V179.7M364.7 137.2V179.7M368.3 137.2V179.7M371.9 137.2V179.7M375.5 137.2V179.7M379.1 137.2V179.7M411.5 137.2V179.7M415.1 137.2V179.7M418.7 137.2V179.7M422.3 137.2V179.7M425.9 137.2V179.7M429.5 137.2V179.7M433 137.2V179.7M458.2 165.1V179.7M461.8 165.1V179.7M483.4 165.1V179.7M487 165.1V179.7M490.6 165.1V179.7M494.2 165.1V179.7M497.8 165.1V179.7M501.4 165.1V179.7M505 165.1V179.7M508.5 165.1V179.7M526.5 165.1V179.7M530.1 165.1V179.7M533.7 165.1V179.7M537.3 165.1V179.7M540.9 165.1V179.7M544.5 165.1V179.7M548.1 165.1V179.7M558.9 165.1V179.7M562.5 165.1V179.7M566.1 165.1V179.7M576.9 165.1V179.7M580.5 165.1V179.7M584 165.1V179.7M587.6 165.1V179.7M591.2 165.1V179.7M612.8 165.1V179.7M616.4 165.1V179.7M620 165.1V179.7M623.6 137.2V179.7M645.2 137.2V179.7M648.8 137.2V179.7M652.4 137.2V179.7M656 137.2V179.7M659.5 137.2V179.7M663.1 137.2V179.7M673.9 137.2V179.7M677.5 137.2V179.7M681.1 137.2V179.7M684.7 137.2V179.7M688.3 137.2V179.7M691.9 137.2V179.7M695.5 137.2V179.7M709.9 137.2V179.7M713.5 137.2V179.7M745.8 137.2V179.7M749.4 137.2V179.7M753 137.2V179.7M774.6 137.2V179.7M778.2 137.2V179.7M781.8 137.2V179.7M785.4 137.2V179.7M799.8 137.2V179.7M803.4 165.1V179.7M806.9 165.1V179.7M810.5 165.1V179.7M814.1 165.1V179.7M817.7 165.1V179.7M821.3 165.1V179.7M824.9 165.1V179.7M846.5 165.1V179.7M850.1 165.1V179.7M853.7 165.1V179.7M886 165.1V179.7M889.6 165.1V179.7M893.2 165.1V179.7M896.8 165.1V179.7M900.4 165.1V179.7M904 165.1V179.7M907.6 165.1V179.7M911.2 165.1V179.7M925.6 165.1V179.7M929.2 165.1V179.7M932.8 165.1V179.7M957.9 165.1V179.7M961.5 165.1V179.7M965.1 165.1V179.7M968.7 165.1V179.7M972.3 165.1V179.7M975.9 165.1V179.7M979.5 165.1V179.7M1001.1 52.3V179.7M1004.7 52.3V179.7M1008.3 52.3V179.7M1022.7 52.3V179.7M1026.3 52.3V179.7M1037 52.3V179.7M1040.6 52.3V179.7M1044.2 52.3V179.7M1047.8 52.3V179.7M1080.2 52.3V179.7M1083.8 52.3V179.7M1087.4 52.3V179.7M1101.8 52.3V179.7M1105.4 52.3V179.7M1108.9 52.3V179.7M1126.9 52.3V179.7M1130.5 52.3V179.7M1134.1 52.3V179.7M1137.7 52.3V179.7M1141.3 52.3V179.7M1155.7 52.3V179.7M1159.3 52.3V179.7M1162.9 165.1V179.7M1166.5 165.1V179.7M1170.1 165.1V179.7M1173.7 165.1V179.7M1202.4 165.1V179.7M1206 165.1V179.7M1209.6 165.1V179.7M1213.2 165.1V179.7M1216.8 165.1V179.7M1220.4 165.1V179.7M1224 165.1V179.7M1242 165.1V179.7M1245.6 165.1V179.7M1249.2 165.1V179.7M1277.9 165.1V179.7M1281.5 165.1V179.7M1285.1 165.1V179.7M1288.7 165.1V179.7M1310.3 165.1V179.7M1313.9 165.1V179.7M1317.5 165.1V179.7M1321.1 165.1V179.7M1331.8 165.1V179.7M1335.4 165.1V179.7M1339 165.1V179.7M1342.6 137.2V179.7M1364.2 137.2V179.7M1367.8 137.2V179.7M1371.4 137.2V179.7M1385.8 137.2V179.7M1389.4 137.2V179.7M1393 137.2V179.7M1396.6 137.2V179.7M1410.9 137.2V179.7M1414.5 137.2V179.7M1418.1 137.2V179.7M1421.7 137.2V179.7M1439.7 137.2V179.7M1443.3 137.2V179.7M1446.9 137.2V179.7M1450.5 137.2V179.7M1454.1 137.2V179.7M1457.7 137.2V179.7M1461.3 137.2V179.7M1486.4 137.2V179.7M1490 137.2V179.7M1518.8 137.2V179.7M1522.4 165.1V179.7M1526 165.1V179.7M1529.6 165.1V179.7M1533.2 165.1V179.7M1536.8 165.1V179.7M1540.4 165.1V179.7M1569.1 165.1V179.7M1572.7 165.1V179.7M1576.3 165.1V179.7M1579.9 165.1V179.7M1583.5 165.1V179.7M1594.3 165.1V179.7M1597.9 165.1V179.7M1601.5 165.1V179.7M1605.1 165.1V179.7M1626.7 165.1V179.7M1630.2 165.1V179.7M1633.8 165.1V179.7M1637.4 165.1V179.7M1659 165.1V179.7M1662.6 165.1V179.7M1666.2 165.1V179.7M1669.8 165.1V179.7M1673.4 165.1V179.7M1677 165.1V179.7M1680.6 165.1V179.7M1684.2 165.1V179.7M1702.2 137.2V179.7M1705.7 137.2V179.7M1709.3 137.2V179.7M1734.5 137.2V179.7M1738.1 137.2V179.7M1741.7 137.2V179.7M1745.3 137.2V179.7M1748.9 137.2V179.7M1781.2 137.2V179.7M1784.8 137.2V179.7M1788.4 137.2V179.7M1799.2 137.2V179.7M1802.8 137.2V179.7M1806.4 137.2V179.7M1810 137.2V179.7M1820.8 137.2V179.7M1824.4 137.2V179.7M1828 137.2V179.7M1831.6 137.2V179.7M1835.2 137.2V179.7M1838.8 137.2V179.7M1842.4 137.2V179.7M1863.9 137.2V179.7M1867.5 137.2V179.7M1871.1 137.2V179.7M1874.7 137.2V179.7M1878.3 137.2V179.7" stroke="#807b78" stroke-width="2" fill="none"/>
<polygon points="245.2,179.7 245.2,172.4 257.8,172.4 257.8,179.7" fill="#2e2826" fill-opacity="0.3"/>
<polygon points="274,179.7 274,158.5 297.3,158.5 297.3,179.7" fill="#2e2826" fill-opacity="0.3"/>
<polygon points="313.5,179.7 313.5,158.5 336.9,158.5 336.9,179.7" fill="#2e2826" fill-opacity="0.3"/>
<polygon points="353.1,179.7 353.1,158.5 376.4,158.5 376.4,179.7" fill="#2e2826" fill-opacity="0.3"/>
<polygon points="392.6,179.7 392.6,158.5 416,158.5 416,179.7" fill="#2e2826" fill-opacity="0.3"/>
<polygon points="430.4,179.7 430.4,158.5 442.9,158.5 442.9,172.4 455.5,172.4 455.5,179.7" fill="#2e2826" fill-opacity="0.3"/>
<polygon points="469.9,179.7 469.9,172.4 495.1,172.4 495.1,179.7" fill="#2e2826" fill-opacity="0.3"/>
<polygon points="509.4,179.7 509.4,172.4 534.6,172.4 534.6,179.7" fill="#2e2826" fill-opacity="0.3"/>
<polygon points="549,179.7 549,172.4 574.2,172.4 574.2,179.7" fill="#2e2826" fill-opacity="0.3"/>
<polygon points="588.5,179.7 588.5,172.4 611.9,172.4 611.9,179.7" fill="#2e2826" fill-opacity="0.3"/>
<polygon points="628.1,179.7 628.1,158.5 651.5,158.5 651.5,179.7" fill="#2e2826" fill-opacity="0.3"/>
<polygon points="667.6,179.7 667.6,158.5 691,158.5 691,179.7" fill="#2e2826" fill-opacity="0.3"/>
<polygon points="707.2,179.7 707.2,158.5 730.6,158.5 730.6,179.7" fill="#2e2826" fill-opacity="0.3"/>
<polygon points="746.7,179.7 746.7,158.5 770.1,158.5 770.1,179.7" fill="#2e2826" fill-opacity="0.3"/>
<polygon points="786.3,179.7 786.3,158.5 802.5,158.5 802.5,172.4 809.6,172.4 809.6,179.7" fill="#2e2826" fill-opacity="0.3"/>
<polygon points="825.8,179.7 825.8,172.4 849.2,172.4 849.2,179.7" fill="#2e2826" fill-opacity="0.3"/>
<polygon points="865.4,179.7 865.4,172.4 888.7,172.4 888.7,179.7" fill="#2e2826" fill-opacity="0.3"/>
<polygon points="903.1,179.7 903.1,172.4 928.3,172.4 928.3,179.7" fill="#2e2826" fill-opacity="0.3"/>
<polygon points="942.7,179.7 942.7,172.4 967.8,172.4 967.8,179.7" fill="#2e2826" fill-opacity="0.3"/>
<polygon points="985.8,179.7 985.8,116 1011,116 1011,179.7" fill="#2e2826" fill-opacity="0.3"/>
<polygon points="1025.4,179.7 1025.4,116 1050.5,116 1050.5,179.7" fill="#2e2826" fill-opacity="0.3"/>
<polygon points="1064.9,179.7 1064.9,116 1090.1,116 1090.1,179.7" fill="#2e2826" fill-opacity="0.3"/>
<polygon points="1104.5,179.7 1104.5,116 1129.6,116 1129.6,179.7" fill="#2e2826" fill-opacity="0.3"/>
<polygon points="1144,179.7 1144,116 1162,116 1162,172.4 1169.2,172.4 1169.2,179.7" fill="#2e2826" fill-opacity="0.3"/>
<polygon points="1180,179.7 1180,172.4 1203.3,172.4 1203.3,179.7" fill="#2e2826" fill-opacity="0.3"/>
<polygon points="1219.5,179.7 1219.5,172.4 1242.9,172.4 1242.9,179.7" fill="#2e2826" fill-opacity="0.3"/>
<polygon points="1259,179.7 1259,172.4 1282.4,172.4 1282.4,179.7" fill="#2e2826" fill-opacity="0.3"/>
<polygon points="1298.6,179.7 1298.6,172.4 1322,172.4 1322,179.7" fill="#2e2826" fill-opacity="0.3"/>
<polygon points="1338.1,179.7 1338.1,172.4 1341.7,172.4 1341.7,158.5 1361.5,158.5 1361.5,179.7" fill="#2e2826" fill-opacity="0.3"/>
<polygon points="1375.9,179.7 1375.9,158.5 1401.1,158.5 1401.1,179.7" fill="#2e2826" fill-opacity="0.3"/>
<polygon points="1415.4,179.7 1415.4,158.5 1440.6,158.5 1440.6,179.7" fill="#2e2826" fill-opacity="0.3"/>
<polygon points="1455,179.7 1455,158.5 1480.1,158.5 1480.1,179.7" fill="#2e2826" fill-opacity="0.3"/>
<polygon points="1494.5,179.7 1494.5,158.5 1519.7,158.5 1519.7,179.7" fill="#2e2826" fill-opacity="0.3"/>
<polygon points="1534.1,179.7 1534.1,172.4 1557.4,172.4 1557.4,179.7" fill="#2e2826" fill-opacity="0.3"/>
<polygon points="1573.6,179.7 1573.6,172.4 1597,172.4 1597,179.7" fill="#2e2826" fill-opacity="0.3"/>
<polygon points="1613.2,179.7 1613.2,172.4 1636.5,172.4 1636.5,179.7" fill="#2e2826" fill-opacity="0.3"/>
<polygon points="1652.7,179.7 1652.7,172.4 1676.1,172.4 1676.1,179.7" fill="#2e2826" fill-opacity="0.3"/>
<polygon points="1692.3,179.7 1692.3,172.4 1701.3,172.4 1701.3,158.5 1715.6,158.5 1715.6,179.7" fill="#2e2826" fill-opacity="0.3"/>
<polygon points="1731.8,179.7 1731.8,158.5 1755.2,158.5 1755.2,179.7" fill="#2e2826" fill-opacity="0.3"/>
<polygon points="1771.4,179.7 1771.4,158.5 1794.7,158.5 1794.7,179.7" fill="#2e2826" fill-opacity="0.3"/>
<polygon points="1810.9,179.7 1810.9,158.5 1834.3,158.5 1834.3,179.7" fill="#2e2826" fill-opacity="0.3"/>
<polygon points="1848.7,179.7 1848.7,158.5 1873.8,158.5 1873.8,179.7" fill="#2e2826" fill-opacity="0.3"/>
<path d="M246.1 172.4V179.7M249.7 172.4V179.7M253.3 172.4V179.7M256.9 172.4V179.7M274.9 158.5V179.7M278.5 158.5V179.7M282 158.5V179.7M285.6 158.5V179.7M289.2 158.5V179.7M292.8 158.5V179.7M296.4 158.5V179.7M314.4 158.5V179.7M318 158.5V179.7M321.6 158.5V179.7M325.2 158.5V179.7M328.8 158.5V179.7M332.4 158.5V179.7M336 158.5V179.7M354 158.5V179.7M357.5 158.5V179.7M361.1 158.5V179.7M364.7 158.5V179.7M368.3 158.5V179.7M371.9 158.5V179.7M375.5 158.5V179.7M393.5 158.5V179.7M397.1 158.5V179.7M400.7 158.5V179.7M404.3 158.5V179.7M407.9 158.5V179.7M411.5 158.5V179.7M415.1 158.5V179.7M433 158.5V179.7M436.6 158.5V179.7M440.2 158.5V179.7M443.8 172.4V179.7M447.4 172.4V179.7M451 172.4V179.7M454.6 172.4V179.7M472.6 172.4V179.7M476.2 172.4V179.7M479.8 172.4V179.7M483.4 172.4V179.7M487 172.4V179.7M490.6 172.4V179.7M494.2 172.4V179.7M512.1 172.4V179.7M515.7 172.4V179.7M519.3 172.4V179.7M522.9 172.4V179.7M526.5 172.4V179.7M530.1 172.4V179.7M533.7 172.4V179.7M551.7 172.4V179.7M555.3 172.4V179.7M558.9 172.4V179.7M562.5 172.4V179.7M566.1 172.4V179.7M569.7 172.4V179.7M573.3 172.4V179.7M591.2 172.4V179.7M594.8 172.4V179.7M598.4 172.4V179.7M602 172.4V179.7M605.6 172.4V179.7M609.2 172.4V179.7M630.8 158.5V179.7M634.4 158.5V179.7M638 158.5V179.7M641.6 158.5V179.7M645.2 158.5V179.7M648.8 158.5V179.7M670.3 158.5V179.7M673.9 158.5V179.7M677.5 158.5V179.7M681.1 158.5V179.7M684.7 158.5V179.7M688.3 158.5V179.7M709.9 158.5V179.7M713.5 158.5V179.7M717.1 158.5V179.7M720.7 158.5V179.7M724.3 158.5V179.7M727.9 158.5V179.7M749.4 158.5V179.7M753 158.5V179.7M756.6 158.5V179.7M760.2 158.5V179.7M763.8 158.5V179.7M767.4 158.5V179.7M789 158.5V179.7M792.6 158.5V179.7M796.2 158.5V179.7M799.8 158.5V179.7M803.4 172.4V179.7M806.9 172.4V179.7M828.5 172.4V179.7M832.1 172.4V179.7M835.7 172.4V179.7M839.3 172.4V179.7M842.9 172.4V179.7M846.5 172.4V179.7M868.1 172.4V179.7M871.7 172.4V179.7M875.3 172.4V179.7M878.9 172.4V179.7M882.4 172.4V179.7M886 172.4V179.7M904 172.4V179.7M907.6 172.4V179.7M911.2 172.4V179.7M914.8 172.4V179.7M918.4 172.4V179.7M922 172.4V179.7M925.6 172.4V179.7M943.6 172.4V179.7M947.2 172.4V179.7M950.8 172.4V179.7M954.4 172.4V179.7M957.9 172.4V179.7M961.5 172.4V179.7M965.1 172.4V179.7M986.7 116V179.7M990.3 116V179.7M993.9 116V179.7M997.5 116V179.7M1001.1 116V179.7M1004.7 116V179.7M1008.3 116V179.7M1026.3 116V179.7M1029.9 116V179.7M1033.4 116V179.7M1037 116V179.7M1040.6 116V179.7M1044.2 116V179.7M1047.8 116V179.7M1065.8 116V179.7M1069.4 116V179.7M1073 116V179.7M1076.6 116V179.7M1080.2 116V179.7M1083.8 116V179.7M1087.4 116V179.7M1105.4 116V179.7M1108.9 116V179.7M1112.5 116V179.7M1116.1 116V179.7M1119.7 116V179.7M1123.3 116V179.7M1126.9 116V179.7M1144.9 116V179.7M1148.5 116V179.7M1152.1 116V179.7M1155.7 116V179.7M1159.3 116V179.7M1162.9 172.4V179.7M1166.5 172.4V179.7M1180.8 172.4V179.7M1184.4 172.4V179.7M1188 172.4V179.7M1191.6 172.4V179.7M1195.2 172.4V179.7M1198.8 172.4V179.7M1202.4 172.4V179.7M1220.4 172.4V179.7M1224 172.4V179.7M1227.6 172.4V179.7M1231.2 172.4V179.7M1234.8 172.4V179.7M1238.4 172.4V179.7M1242 172.4V179.7M1259.9 172.4V179.7M1263.5 172.4V179.7M1267.1 172.4V179.7M1270.7 172.4V179.7M1274.3 172.4V179.7M1277.9 172.4V179.7M1281.5 172.4V179.7M1299.5 172.4V179.7M1303.1 172.4V179.7M1306.7 172.4V179.7M1310.3 172.4V179.7M1313.9 172.4V179.7M1317.5 172.4V179.7M1321.1 172.4V179.7M1339 172.4V179.7M1342.6 158.5V179.7M1346.2 158.5V179.7M1349.8 158.5V179.7M1353.4 158.5V179.7M1357 158.5V179.7M1360.6 158.5V179.7M1378.6 158.5V179.7M1382.2 158.5V179.7M1385.8 158.5V179.7M1389.4 158.5V179.7M1393 158.5V179.7M1396.6 158.5V179.7M1400.2 158.5V179.7M1418.1 158.5V179.7M1421.7 158.5V179.7M1425.3 158.5V179.7M1428.9 158.5V179.7M1432.5 158.5V179.7M1436.1 158.5V179.7M1439.7 158.5V179.7M1457.7 158.5V179.7M1461.3 158.5V179.7M1464.9 158.5V179.7M1468.5 158.5V179.7M1472.1 158.5V179.7M1475.7 158.5V179.7M1479.3 158.5V179.7M1497.2 158.5V179.7M1500.8 158.5V179.7M1504.4 158.5V179.7M1508 158.5V179.7M1511.6 158.5V179.7M1515.2 158.5V179.7M1518.8 158.5V179.7M1536.8 172.4V179.7M1540.4 172.4V179.7M1544 172.4V179.7M1547.6 172.4V179.7M1551.2 172.4V179.7M1554.8 172.4V179.7M1576.3 172.4V179.7M1579.9 172.4V179.7M1583.5 172.4V179.7M1587.1 172.4V179.7M1590.7 172.4V179.7M1594.3 172.4V179.7M1615.9 172.4V179.7M1619.5 172.4V179.7M1623.1 172.4V179.7M1626.7 172.4V179.7M1630.2 172.4V179.7M1633.8 172.4V179.7M1655.4 172.4V179.7M1659 172.4V179.7M1662.6 172.4V179.7M1666.2 172.4V179.7M1669.8 172.4V179.7M1673.4 172.4V179.7M1695 172.4V179.7M1698.6 172.4V179.7M1702.2 158.5V179.7M1705.7 158.5V179.7M1709.3 158.5V179.7M1712.9 158.5V179.7M1734.5 158.5V179.7M1738.1 158.5V179.7M1741.7 158.5V179.7M1745.3 158.5V179.7M1748.9 158.5V179.7M1752.5 158.5V179.7M1774.1 158.5V179.7M1777.7 158.5V179.7M1781.2 158.5V179.7M1784.8 158.5V179.7M1788.4 158.5V179.7M1792 158.5V179.7M1813.6 158.5V179.7M1817.2 158.5V179.7M1820.8 158.5V179.7M1824.4 158.5V179.7M1828 158.5V179.7M1831.6 158.5V179.7M1849.6 158.5V179.7M1853.2 158.5V179.7M1856.7 158.5V179.7M1860.3 158.5V179.7M1863.9 158.5V179.7M1867.5 158.5V179.7M1871.1 158.5V179.7" stroke="#2e2826" stroke-width="2" stroke-opacity="0.6" fill="none"/>
<path d="M245.2 165.7H263.2M263.2 137.8H442.9M442.9 165.7H622.7M622.7 137.8H802.5M802.5 165.7H982.2M982.2 52.9H1162M1162 165.7H1341.7M1341.7 137.8H1521.5M1521.5 165.7H1701.3M1701.3 137.8H1881" stroke="#0a0808" stroke-width="1.8" fill="none"/>
<path d="M236.8 240.9H1880.3" stroke="#0c0c84" stroke-width="3" stroke-dasharray="18.8 18.29" fill="none"/>
</g>
<path d="M244.3 31.3V580.8M1880.3 29.1V580.8M244.1 31.3H1880.3M244.3 578.6H1880.3" stroke="#000" stroke-width="4.6" fill="none"/>
<path d="M244.3 179.7H1880.3" stroke="#000" stroke-width="3" fill="none"/>
<path d="M235.5 578.6H244.3M235.5 549.1H244.3M235.5 519.5H244.3M235.5 490H244.3M235.5 460.5H244.3M235.5 431H244.3M235.5 401.4H244.3M235.5 371.9H244.3M235.5 320.2H244.3M235.5 273.4H244.3M235.5 226.6H244.3M235.5 179.8H244.3" stroke="#000" stroke-width="3.9" fill="none"/>
<path d="M239.8 563.8H244.3M239.8 534.3H244.3M239.8 504.8H244.3M239.8 475.2H244.3M239.8 445.7H244.3M239.8 416.2H244.3M239.8 386.7H244.3M239.8 357.1H244.3M239.8 296.8H244.3M239.8 250H244.3M239.8 203.2H244.3" stroke="#000" stroke-width="3.3" fill="none"/>
<path d="M244.3 578.6V585.9M513.9 578.6V585.9M783.6 578.6V585.9M1053.2 578.6V585.9M1322.9 578.6V585.9M1592.5 578.6V585.9M1862.1 578.6V585.9" stroke="#000" stroke-width="4.5" fill="none"/>
<path d="M379.1 578.6V583.2M648.8 578.6V583.2M918.4 578.6V583.2M1188 578.6V583.2M1457.7 578.6V583.2M1727.3 578.6V583.2" stroke="#000" stroke-width="3.6" fill="none"/>
<path d="M1880.3 179.7H1885.2M1880.3 137.2H1885.2M1880.3 94.8H1885.2M1880.3 52.3H1885.2" stroke="#000" stroke-width="3.8" fill="none"/>
<rect x="240.3" y="334.6" width="8" height="8.2" fill="#fff"/>
<path d="M235.5 346.4L252.9 338.6M235.5 339L252.9 331.2" stroke="#000" stroke-width="2.8" fill="none"/>
<rect x="1876.3" y="334.6" width="8" height="8.2" fill="#fff"/>
<path d="M1871.5 346.4L1888.9 338.6M1871.5 339L1888.9 331.2" stroke="#000" stroke-width="2.8" fill="none"/>
<text transform="matrix(0.389 0 0 0.351 181.23 590.11)" font-size="100" fill="#e61419">0.0</text>
<text transform="matrix(0.389 0 0 0.351 181.23 560.58)" font-size="100" fill="#e61419">1.0</text>
<text transform="matrix(0.389 0 0 0.351 181.23 531.05)" font-size="100" fill="#e61419">2.0</text>
<text transform="matrix(0.389 0 0 0.351 181.23 501.52)" font-size="100" fill="#e61419">3.0</text>
<text transform="matrix(0.389 0 0 0.351 181.23 471.99)" font-size="100" fill="#e61419">4.0</text>
<text transform="matrix(0.389 0 0 0.351 181.23 442.46)" font-size="100" fill="#e61419">5.0</text>
<text transform="matrix(0.389 0 0 0.351 181.23 412.93)" font-size="100" fill="#e61419">6.0</text>
<text transform="matrix(0.389 0 0 0.351 181.23 383.40)" font-size="100" fill="#e61419">7.0</text>
<text transform="matrix(0.3838 0 0 0.3545 143.48 331.52)" font-size="100" fill="#e61419">285.0</text>
<text transform="matrix(0.3838 0 0 0.3545 143.48 284.72)" font-size="100" fill="#e61419">300.0</text>
<text transform="matrix(0.3838 0 0 0.3545 143.48 237.92)" font-size="100" fill="#e61419">315.0</text>
<text transform="matrix(0.3838 0 0 0.3545 143.48 191.12)" font-size="100" fill="#e61419">330.0</text>
<text transform="matrix(0.3183 0 0 0.297 236.14 614.60)" font-size="100">0</text>
<text transform="matrix(0.3183 0 0 0.297 489.23 614.60)" font-size="100">150</text>
<text transform="matrix(0.3183 0 0 0.297 759.51 614.60)" font-size="100">300</text>
<text transform="matrix(0.3183 0 0 0.297 1029.55 614.60)" font-size="100">450</text>
<text transform="matrix(0.3183 0 0 0.297 1298.87 614.60)" font-size="100">600</text>
<text transform="matrix(0.3183 0 0 0.297 1568.19 614.60)" font-size="100">750</text>
<text transform="matrix(0.3183 0 0 0.297 1838.23 614.60)" font-size="100">900</text>
<text transform="matrix(0.2565 0 0 0.215 1887.97 186.14)" font-size="100">0</text>
<text transform="matrix(0.2565 0 0 0.215 1886.95 143.69)" font-size="100">1</text>
<text transform="matrix(0.2565 0 0 0.215 1887.97 101.24)" font-size="100">2</text>
<text transform="matrix(0.2565 0 0 0.215 1887.97 58.79)" font-size="100">3</text>
<text transform="matrix(0.468 0 0 0.42 924.40 673.58)" font-size="100">Pulse number</text>
<text transform="matrix(0.54 0 0 0.4977 106.66 486.09) rotate(-90)" font-size="100" fill="#e61419">Current (μA)</text>
<text transform="matrix(0.376 0 0 0.3306 1935.90 182.23) rotate(-90)" font-size="100">Voltage (V)</text>
<text transform="matrix(0.5647 0 0 0.5647 -1.24 38.64)" font-size="100">(a)</text>
<text transform="matrix(0.5017 0 0 0.5 1486.15 291.80)" font-size="100">threshold current</text>
<text transform="matrix(0.4676 0 0 0.4693 332.17 373.20)" font-size="100" class="n r">Ⅰ</text>
<text transform="matrix(0.3848 0 0 0.4613 707.86 373.00)" font-size="100" class="n r">Ⅱ</text>
<text transform="matrix(0.3696 0 0 0.4627 1076.52 281.90)" font-size="100" class="n r">Ⅲ</text>
<text transform="matrix(0.3698 0 0 0.4967 1416.08 455.85)" font-size="100" class="n r">Ⅳ</text>
<text transform="matrix(0.4565 0 0 0.4967 1763.24 455.85)" font-size="100" class="n r">Ⅴ</text>
</g>
<g id="panel-b">
<clipPath id="cb"><rect x="90" y="733.6" width="463.5" height="407.9"/></clipPath>
<g clip-path="url(#cb)">
<polygon points="90.7,1141.5 90.7,1116.1 93.6,1116.1 93.6,1118.2 95.1,1118.2 95.1,1116.1 96.5,1116.1 96.5,1118.2 98,1118.2 98,1116.1 103.7,1116.1 103.7,1113.9 105.2,1113.9 105.2,1012.2 109.5,1012.2 109.5,1008 113.9,1008 113.9,1005.9 121.1,1005.9 121.1,1003.7 126.9,1003.7 126.9,1001.6 128.4,1001.6 128.4,1003.7 131.2,1003.7 131.2,1005.9 132.7,1005.9 132.7,1001.6 134.1,1001.6 134.1,1003.7 138.5,1003.7 138.5,1001.6 144.3,1001.6 144.3,999.5 145.7,999.5 145.7,1001.6 147.2,1001.6 147.2,1003.7 148.6,1003.7 148.6,1001.6 151.5,1001.6 151.5,999.5 153,999.5 153,1001.6 157.3,1001.6 157.3,999.5 158.7,999.5 158.7,1001.6 167.4,1001.6 167.4,1003.7 168.9,1003.7 168.9,999.5 170.3,999.5 170.3,1003.7 171.8,1003.7 171.8,1001.6 173.2,1001.6 173.2,999.5 177.6,999.5 177.6,1001.6 179,1001.6 179,999.5 183.4,999.5 183.4,997.4 184.8,997.4 184.8,1001.6 186.2,1001.6 186.2,999.5 189.1,999.5 189.1,997.4 190.6,997.4 190.6,999.5 197.8,999.5 197.8,997.4 199.3,997.4 199.3,999.5 200.7,999.5 200.7,997.4 202.2,997.4 202.2,999.5 203.6,999.5 203.6,1001.6 206.5,1001.6 206.5,999.5 209.4,999.5 209.4,1001.6 210.8,1001.6 210.8,999.5 234,999.5 234,1001.6 235.5,1001.6 235.5,999.5 242.7,999.5 242.7,997.4 244.1,997.4 244.1,1001.6 245.6,1001.6 245.6,999.5 249.9,999.5 249.9,1120.3 251.4,1120.3 251.4,1118.2 252.8,1118.2 252.8,1120.3 257.2,1120.3 257.2,1122.4 258.6,1122.4 258.6,1120.3 265.8,1120.3 265.8,1122.4 267.3,1122.4 267.3,1120.3 278.9,1120.3 278.9,1122.4 280.3,1122.4 280.3,1120.3 283.2,1120.3 283.2,1122.4 286.1,1122.4 286.1,1120.3 291.9,1120.3 291.9,1122.4 293.3,1122.4 293.3,1118.2 294.8,1118.2 294.8,1122.4 296.2,1122.4 296.2,1120.3 304.9,1120.3 304.9,1118.2 306.4,1118.2 306.4,1120.3 309.3,1120.3 309.3,1118.2 310.7,1118.2 310.7,1120.3 315.1,1120.3 315.1,1118.2 317.9,1118.2 317.9,1120.3 320.8,1120.3 320.8,1122.4 322.3,1122.4 322.3,1120.3 325.2,1120.3 325.2,1122.4 326.6,1122.4 326.6,1120.3 328.1,1120.3 328.1,1122.4 329.5,1122.4 329.5,1120.3 332.4,1120.3 332.4,1118.2 333.9,1118.2 333.9,1120.3 335.3,1120.3 335.3,1122.4 336.8,1122.4 336.8,1120.3 338.2,1120.3 338.2,1118.2 339.7,1118.2 339.7,1120.3 342.6,1120.3 342.6,1122.4 344,1122.4 344,1120.3 357,1120.3 357,1122.4 358.5,1122.4 358.5,1120.3 364.3,1120.3 364.3,1122.4 365.7,1122.4 365.7,1120.3 370.1,1120.3 370.1,1118.2 371.5,1118.2 371.5,1120.3 377.3,1120.3 377.3,1118.2 378.7,1118.2 378.7,1120.3 386,1120.3 386,1122.4 388.9,1122.4 388.9,1118.2 390.3,1118.2 390.3,1120.3 391.8,1120.3 391.8,1118.2 393.2,1118.2 393.2,1122.4 394.7,1122.4 394.7,1012.2 396.1,1012.2 396.1,1008 397.6,1008 397.6,1005.9 400.4,1005.9 400.4,1003.7 407.7,1003.7 407.7,1001.6 419.3,1001.6 419.3,1003.7 422.2,1003.7 422.2,999.5 423.6,999.5 423.6,1001.6 426.5,1001.6 426.5,999.5 427.9,999.5 427.9,1001.6 429.4,1001.6 429.4,999.5 430.8,999.5 430.8,1001.6 432.3,1001.6 432.3,999.5 435.2,999.5 435.2,1001.6 438.1,1001.6 438.1,999.5 454,999.5 454,997.4 455.4,997.4 455.4,1001.6 456.9,1001.6 456.9,999.5 458.3,999.5 458.3,997.4 461.2,997.4 461.2,1001.6 464.1,1001.6 464.1,999.5 481.5,999.5 481.5,997.4 482.9,997.4 482.9,999.5 484.4,999.5 484.4,997.4 488.7,997.4 488.7,995.3 490.2,995.3 490.2,997.4 494.5,997.4 494.5,995.3 496,995.3 496,997.4 497.4,997.4 497.4,995.3 498.9,995.3 498.9,997.4 501.8,997.4 501.8,995.3 503.2,995.3 503.2,997.4 506.1,997.4 506.1,995.3 509,995.3 509,997.4 513.3,997.4 513.3,999.5 514.8,999.5 514.8,997.4 526.4,997.4 526.4,999.5 527.8,999.5 527.8,997.4 530.7,997.4 530.7,999.5 532.2,999.5 532.2,997.4 535,997.4 535,995.3 536.5,995.3 536.5,997.4 539.4,997.4 539.4,1120.3 540.8,1120.3 540.8,1118.2 543.7,1118.2 543.7,1120.3 545.2,1120.3 545.2,1118.2 548.1,1118.2 548.1,1120.3 549.5,1120.3 549.5,1116.1 551,1116.1 551,1120.3 552.4,1120.3 552.4,1118.2 553.9,1118.2 553.9,1141.5" fill="#e1dfc7"/>
<polygon points="90.7,1141.5 90.7,1128.8 93.6,1128.8 93.6,1129.8 95.1,1129.8 95.1,1128.8 96.5,1128.8 96.5,1129.8 98,1129.8 98,1128.8 103.7,1128.8 103.7,1127.7 105.2,1127.7 105.2,1076.9 109.5,1076.9 109.5,1074.7 113.9,1074.7 113.9,1073.7 121.1,1073.7 121.1,1072.6 126.9,1072.6 126.9,1071.6 128.4,1071.6 128.4,1072.6 131.2,1072.6 131.2,1073.7 132.7,1073.7 132.7,1071.6 134.1,1071.6 134.1,1072.6 138.5,1072.6 138.5,1071.6 144.3,1071.6 144.3,1070.5 145.7,1070.5 145.7,1071.6 147.2,1071.6 147.2,1072.6 148.6,1072.6 148.6,1071.6 151.5,1071.6 151.5,1070.5 153,1070.5 153,1071.6 157.3,1071.6 157.3,1070.5 158.7,1070.5 158.7,1071.6 167.4,1071.6 167.4,1072.6 168.9,1072.6 168.9,1070.5 170.3,1070.5 170.3,1072.6 171.8,1072.6 171.8,1071.6 173.2,1071.6 173.2,1070.5 177.6,1070.5 177.6,1071.6 179,1071.6 179,1070.5 183.4,1070.5 183.4,1069.4 184.8,1069.4 184.8,1071.6 186.2,1071.6 186.2,1070.5 189.1,1070.5 189.1,1069.4 190.6,1069.4 190.6,1070.5 197.8,1070.5 197.8,1069.4 199.3,1069.4 199.3,1070.5 200.7,1070.5 200.7,1069.4 202.2,1069.4 202.2,1070.5 203.6,1070.5 203.6,1071.6 206.5,1071.6 206.5,1070.5 209.4,1070.5 209.4,1071.6 210.8,1071.6 210.8,1070.5 234,1070.5 234,1071.6 235.5,1071.6 235.5,1070.5 242.7,1070.5 242.7,1069.4 244.1,1069.4 244.1,1071.6 245.6,1071.6 245.6,1070.5 249.9,1070.5 249.9,1130.9 251.4,1130.9 251.4,1129.8 252.8,1129.8 252.8,1130.9 257.2,1130.9 257.2,1132 258.6,1132 258.6,1130.9 265.8,1130.9 265.8,1132 267.3,1132 267.3,1130.9 278.9,1130.9 278.9,1132 280.3,1132 280.3,1130.9 283.2,1130.9 283.2,1132 286.1,1132 286.1,1130.9 291.9,1130.9 291.9,1132 293.3,1132 293.3,1129.8 294.8,1129.8 294.8,1132 296.2,1132 296.2,1130.9 304.9,1130.9 304.9,1129.8 306.4,1129.8 306.4,1130.9 309.3,1130.9 309.3,1129.8 310.7,1129.8 310.7,1130.9 315.1,1130.9 315.1,1129.8 317.9,1129.8 317.9,1130.9 320.8,1130.9 320.8,1132 322.3,1132 322.3,1130.9 325.2,1130.9 325.2,1132 326.6,1132 326.6,1130.9 328.1,1130.9 328.1,1132 329.5,1132 329.5,1130.9 332.4,1130.9 332.4,1129.8 333.9,1129.8 333.9,1130.9 335.3,1130.9 335.3,1132 336.8,1132 336.8,1130.9 338.2,1130.9 338.2,1129.8 339.7,1129.8 339.7,1130.9 342.6,1130.9 342.6,1132 344,1132 344,1130.9 357,1130.9 357,1132 358.5,1132 358.5,1130.9 364.3,1130.9 364.3,1132 365.7,1132 365.7,1130.9 370.1,1130.9 370.1,1129.8 371.5,1129.8 371.5,1130.9 377.3,1130.9 377.3,1129.8 378.7,1129.8 378.7,1130.9 386,1130.9 386,1132 388.9,1132 388.9,1129.8 390.3,1129.8 390.3,1130.9 391.8,1130.9 391.8,1129.8 393.2,1129.8 393.2,1132 394.7,1132 394.7,1076.9 396.1,1076.9 396.1,1074.7 397.6,1074.7 397.6,1073.7 400.4,1073.7 400.4,1072.6 407.7,1072.6 407.7,1071.6 419.3,1071.6 419.3,1072.6 422.2,1072.6 422.2,1070.5 423.6,1070.5 423.6,1071.6 426.5,1071.6 426.5,1070.5 427.9,1070.5 427.9,1071.6 429.4,1071.6 429.4,1070.5 430.8,1070.5 430.8,1071.6 432.3,1071.6 432.3,1070.5 435.2,1070.5 435.2,1071.6 438.1,1071.6 438.1,1070.5 454,1070.5 454,1069.4 455.4,1069.4 455.4,1071.6 456.9,1071.6 456.9,1070.5 458.3,1070.5 458.3,1069.4 461.2,1069.4 461.2,1071.6 464.1,1071.6 464.1,1070.5 481.5,1070.5 481.5,1069.4 482.9,1069.4 482.9,1070.5 484.4,1070.5 484.4,1069.4 488.7,1069.4 488.7,1068.4 490.2,1068.4 490.2,1069.4 494.5,1069.4 494.5,1068.4 496,1068.4 496,1069.4 497.4,1069.4 497.4,1068.4 498.9,1068.4 498.9,1069.4 501.8,1069.4 501.8,1068.4 503.2,1068.4 503.2,1069.4 506.1,1069.4 506.1,1068.4 509,1068.4 509,1069.4 513.3,1069.4 513.3,1070.5 514.8,1070.5 514.8,1069.4 526.4,1069.4 526.4,1070.5 527.8,1070.5 527.8,1069.4 530.7,1069.4 530.7,1070.5 532.2,1070.5 532.2,1069.4 535,1069.4 535,1068.4 536.5,1068.4 536.5,1069.4 539.4,1069.4 539.4,1130.9 540.8,1130.9 540.8,1129.8 543.7,1129.8 543.7,1130.9 545.2,1130.9 545.2,1129.8 548.1,1129.8 548.1,1130.9 549.5,1130.9 549.5,1128.8 551,1128.8 551,1130.9 552.4,1130.9 552.4,1129.8 553.9,1129.8 553.9,1141.5" fill="#cfccaa"/>
<path d="M92.9 1116.1V1128.8M94.3 1118.2V1129.8M97.2 1118.2V1129.8M98.7 1116.1V1128.8M116.1 1005.9V1073.7M121.8 1003.7V1072.6M143.6 1001.6V1071.6M147.9 1003.7V1072.6M149.3 1001.6V1071.6M152.2 999.5V1070.5M175.4 999.5V1070.5M188.4 999.5V1070.5M191.3 999.5V1070.5M198.5 997.4V1069.4M200 999.5V1070.5M208.7 999.5V1070.5M236.2 999.5V1070.5M242 999.5V1070.5M247.8 999.5V1070.5M252.1 1118.2V1129.8M257.9 1122.4V1132M260.8 1120.3V1130.9M270.9 1120.3V1130.9M275.3 1120.3V1130.9M289.7 1120.3V1130.9M292.6 1122.4V1132M297 1120.3V1130.9M301.3 1120.3V1130.9M304.2 1120.3V1130.9M307.1 1120.3V1130.9M315.8 1118.2V1129.8M321.6 1122.4V1132M325.9 1122.4V1132M336 1122.4V1132M338.9 1118.2V1129.8M347.6 1120.3V1130.9M356.3 1120.3V1130.9M357.8 1122.4V1132M359.2 1120.3V1130.9M366.4 1120.3V1130.9M375.1 1120.3V1130.9M382.4 1120.3V1130.9M383.8 1120.3V1130.9M385.2 1120.3V1130.9M409.9 1001.6V1071.6M414.2 1001.6V1071.6M417.1 1001.6V1071.6M421.4 1003.7V1072.6M435.9 1001.6V1071.6M441.7 999.5V1070.5M446 999.5V1070.5M447.5 999.5V1070.5M451.8 999.5V1070.5M457.6 999.5V1070.5M467.7 999.5V1070.5M476.4 999.5V1070.5M477.9 999.5V1070.5M479.3 999.5V1070.5M489.5 995.3V1068.4M503.9 997.4V1069.4M535.8 995.3V1068.4M538.7 997.4V1069.4M544.5 1120.3V1130.9M550.2 1116.1V1128.8" stroke="#f1f0e2" stroke-width="0.95" fill="none"/>
<path d="M91.4 1116.1V1128.8M95.8 1116.1V1128.8M103 1116.1V1128.8M105.9 1012.2V1076.9M110.3 1008V1074.7M111.7 1008V1074.7M113.2 1008V1074.7M114.6 1005.9V1073.7M117.5 1005.9V1073.7M123.3 1003.7V1072.6M126.2 1003.7V1072.6M127.6 1001.6V1071.6M129.1 1003.7V1072.6M132 1005.9V1073.7M136.3 1003.7V1072.6M139.2 1001.6V1071.6M140.7 1001.6V1071.6M145 999.5V1070.5M153.7 1001.6V1071.6M160.9 1001.6V1071.6M172.5 1001.6V1071.6M176.8 999.5V1070.5M182.6 999.5V1070.5M184.1 997.4V1069.4M189.9 997.4V1069.4M202.9 999.5V1070.5M207.2 999.5V1070.5M211.6 999.5V1070.5M213 999.5V1070.5M215.9 999.5V1070.5M221.7 999.5V1070.5M223.2 999.5V1070.5M226 999.5V1070.5M230.4 999.5V1070.5M231.8 999.5V1070.5M234.7 1001.6V1071.6M243.4 997.4V1069.4M249.2 999.5V1070.5M256.4 1120.3V1130.9M266.6 1122.4V1132M268 1120.3V1130.9M269.5 1120.3V1130.9M273.8 1120.3V1130.9M281 1120.3V1130.9M282.5 1120.3V1130.9M294.1 1118.2V1129.8M305.6 1118.2V1129.8M310 1118.2V1129.8M311.4 1120.3V1130.9M318.7 1120.3V1130.9M320.1 1120.3V1130.9M327.4 1120.3V1130.9M328.8 1122.4V1132M333.1 1118.2V1129.8M340.4 1120.3V1130.9M343.3 1122.4V1132M344.7 1120.3V1130.9M346.2 1120.3V1130.9M350.5 1120.3V1130.9M352 1120.3V1130.9M365 1122.4V1132M369.3 1120.3V1130.9M373.7 1120.3V1130.9M376.6 1120.3V1130.9M378 1118.2V1129.8M379.5 1120.3V1130.9M380.9 1120.3V1130.9M388.1 1122.4V1132M389.6 1118.2V1129.8M393.9 1122.4V1132M396.8 1008V1074.7M398.3 1005.9V1073.7M399.7 1005.9V1073.7M401.2 1003.7V1072.6M402.6 1003.7V1072.6M411.3 1001.6V1071.6M427.2 999.5V1070.5M431.6 1001.6V1071.6M433 999.5V1070.5M437.4 1001.6V1071.6M448.9 999.5V1070.5M450.4 999.5V1070.5M454.7 997.4V1069.4M462 1001.6V1071.6M469.2 999.5V1070.5M470.6 999.5V1070.5M472.1 999.5V1070.5M482.2 997.4V1069.4M490.9 997.4V1069.4M496.7 997.4V1069.4M498.1 995.3V1068.4M506.8 995.3V1068.4M509.7 997.4V1069.4M512.6 997.4V1069.4M514.1 999.5V1070.5M518.4 997.4V1069.4M527.1 999.5V1070.5M530 997.4V1069.4M537.2 997.4V1069.4M543 1118.2V1129.8M545.9 1118.2V1129.8M547.3 1118.2V1129.8" stroke="#bdba8a" stroke-width="0.95" fill="none"/>
<path d="M92.9 1128.8V1141.5M94.3 1129.8V1141.5M97.2 1129.8V1141.5M98.7 1128.8V1141.5M116.1 1073.7V1141.5M121.8 1072.6V1141.5M143.6 1071.6V1141.5M147.9 1072.6V1141.5M149.3 1071.6V1141.5M152.2 1070.5V1141.5M175.4 1070.5V1141.5M188.4 1070.5V1141.5M191.3 1070.5V1141.5M198.5 1069.4V1141.5M200 1070.5V1141.5M205.8 1071.6V1141.5M208.7 1070.5V1141.5M236.2 1070.5V1141.5M242 1070.5V1141.5M247.8 1070.5V1141.5M252.1 1129.8V1141.5M253.5 1130.9V1141.5M257.9 1132V1141.5M260.8 1130.9V1141.5M263.7 1130.9V1141.5M270.9 1130.9V1141.5M275.3 1130.9V1141.5M276.7 1130.9V1141.5M289.7 1130.9V1141.5M292.6 1132V1141.5M297 1130.9V1141.5M301.3 1130.9V1141.5M304.2 1130.9V1141.5M307.1 1130.9V1141.5M315.8 1129.8V1141.5M321.6 1132V1141.5M325.9 1132V1141.5M336 1132V1141.5M338.9 1129.8V1141.5M347.6 1130.9V1141.5M356.3 1130.9V1141.5M357.8 1132V1141.5M359.2 1130.9V1141.5M366.4 1130.9V1141.5M375.1 1130.9V1141.5M382.4 1130.9V1141.5M383.8 1130.9V1141.5M385.2 1130.9V1141.5M409.9 1071.6V1141.5M414.2 1071.6V1141.5M417.1 1071.6V1141.5M421.4 1072.6V1141.5M435.9 1071.6V1141.5M440.2 1070.5V1141.5M441.7 1070.5V1141.5M446 1070.5V1141.5M447.5 1070.5V1141.5M451.8 1070.5V1141.5M457.6 1070.5V1141.5M467.7 1070.5V1141.5M476.4 1070.5V1141.5M477.9 1070.5V1141.5M479.3 1070.5V1141.5M483.7 1070.5V1141.5M489.5 1068.4V1141.5M503.9 1069.4V1141.5M535.8 1068.4V1141.5M538.7 1069.4V1141.5M544.5 1130.9V1141.5M550.2 1128.8V1141.5" stroke="#dfddc4" stroke-width="0.95" fill="none"/>
<path d="M91.4 1128.8V1141.5M95.8 1128.8V1141.5M98.7 1128.8V1141.5M103 1128.8V1141.5M105.9 1076.9V1141.5M110.3 1074.7V1141.5M111.7 1074.7V1141.5M113.2 1074.7V1141.5M114.6 1073.7V1141.5M117.5 1073.7V1141.5M123.3 1072.6V1141.5M126.2 1072.6V1141.5M127.6 1071.6V1141.5M129.1 1072.6V1141.5M130.5 1072.6V1141.5M132 1073.7V1141.5M136.3 1072.6V1141.5M139.2 1071.6V1141.5M140.7 1071.6V1141.5M145 1070.5V1141.5M147.9 1072.6V1141.5M149.3 1071.6V1141.5M152.2 1070.5V1141.5M153.7 1071.6V1141.5M158 1070.5V1141.5M159.5 1071.6V1141.5M160.9 1071.6V1141.5M172.5 1071.6V1141.5M176.8 1070.5V1141.5M182.6 1070.5V1141.5M184.1 1069.4V1141.5M189.9 1069.4V1141.5M202.9 1070.5V1141.5M207.2 1070.5V1141.5M210.1 1071.6V1141.5M211.6 1070.5V1141.5M213 1070.5V1141.5M215.9 1070.5V1141.5M217.4 1070.5V1141.5M221.7 1070.5V1141.5M223.2 1070.5V1141.5M226 1070.5V1141.5M230.4 1070.5V1141.5M231.8 1070.5V1141.5M234.7 1071.6V1141.5M243.4 1069.4V1141.5M244.9 1071.6V1141.5M249.2 1070.5V1141.5M256.4 1130.9V1141.5M266.6 1132V1141.5M268 1130.9V1141.5M269.5 1130.9V1141.5M273.8 1130.9V1141.5M275.3 1130.9V1141.5M276.7 1130.9V1141.5M281 1130.9V1141.5M282.5 1130.9V1141.5M294.1 1129.8V1141.5M305.6 1129.8V1141.5M310 1129.8V1141.5M311.4 1130.9V1141.5M318.7 1130.9V1141.5M320.1 1130.9V1141.5M327.4 1130.9V1141.5M328.8 1132V1141.5M333.1 1129.8V1141.5M340.4 1130.9V1141.5M343.3 1132V1141.5M344.7 1130.9V1141.5M346.2 1130.9V1141.5M350.5 1130.9V1141.5M352 1130.9V1141.5M360.6 1130.9V1141.5M365 1132V1141.5M366.4 1130.9V1141.5M369.3 1130.9V1141.5M373.7 1130.9V1141.5M376.6 1130.9V1141.5M378 1129.8V1141.5M379.5 1130.9V1141.5M380.9 1130.9V1141.5M388.1 1132V1141.5M389.6 1129.8V1141.5M393.9 1132V1141.5M396.8 1074.7V1141.5M398.3 1073.7V1141.5M399.7 1073.7V1141.5M401.2 1072.6V1141.5M402.6 1072.6V1141.5M405.5 1072.6V1141.5M411.3 1071.6V1141.5M415.6 1071.6V1141.5M418.5 1071.6V1141.5M427.2 1070.5V1141.5M431.6 1071.6V1141.5M433 1070.5V1141.5M437.4 1071.6V1141.5M448.9 1070.5V1141.5M450.4 1070.5V1141.5M454.7 1069.4V1141.5M462 1071.6V1141.5M469.2 1070.5V1141.5M470.6 1070.5V1141.5M472.1 1070.5V1141.5M476.4 1070.5V1141.5M482.2 1069.4V1141.5M490.9 1069.4V1141.5M496.7 1069.4V1141.5M498.1 1068.4V1141.5M506.8 1068.4V1141.5M509.7 1069.4V1141.5M511.2 1069.4V1141.5M512.6 1069.4V1141.5M514.1 1070.5V1141.5M518.4 1069.4V1141.5M527.1 1070.5V1141.5M530 1069.4V1141.5M537.2 1069.4V1141.5M543 1129.8V1141.5M545.9 1129.8V1141.5M547.3 1129.8V1141.5M548.8 1130.9V1141.5" stroke="#a9a666" stroke-width="0.95" fill="none"/>
<path d="M90.4 1116.1H93.9M93.3 1118.2H95.4M94.8 1116.1H96.8M96.2 1118.2H98.3M97.7 1116.1H104M103.4 1113.9H105.5M104.9 1012.2H109.8M109.2 1008H114.2M113.6 1005.9H121.4M120.8 1003.7H127.2M126.6 1001.6H128.7M128.1 1003.7H131.5M130.9 1005.9H133M132.4 1001.6H134.4M133.8 1003.7H138.8M138.2 1001.6H144.6M144 999.5H146M145.4 1001.6H147.5M146.9 1003.7H148.9M148.3 1001.6H151.8M151.2 999.5H153.3M152.7 1001.6H157.6M157 999.5H159M158.4 1001.6H167.7M167.1 1003.7H169.2M168.6 999.5H170.6M170 1003.7H172.1M171.5 1001.6H173.5M172.9 999.5H177.9M177.3 1001.6H179.3M178.7 999.5H183.7M183.1 997.4H185.1M184.5 1001.6H186.5M185.9 999.5H189.4M188.8 997.4H190.9M190.3 999.5H198.1M197.5 997.4H199.6M199 999.5H201M200.4 997.4H202.5M201.9 999.5H203.9M203.3 1001.6H206.8M206.2 999.5H209.7M209.1 1001.6H211.1M210.5 999.5H234.3M233.7 1001.6H235.8M235.2 999.5H243M242.4 997.4H244.4M243.8 1001.6H245.9M245.3 999.5H250.2M249.6 1120.3H251.7M251.1 1118.2H253.1M252.5 1120.3H257.5M256.9 1122.4H258.9M258.3 1120.3H266.1M265.5 1122.4H267.6M267 1120.3H279.2M278.6 1122.4H280.6M280 1120.3H283.5M282.9 1122.4H286.4M285.8 1120.3H292.2M291.6 1122.4H293.6M293 1118.2H295.1M294.5 1122.4H296.5M295.9 1120.3H305.2M304.6 1118.2H306.7M306.1 1120.3H309.6M309 1118.2H311M310.4 1120.3H315.4M314.8 1118.2H318.2M317.6 1120.3H321.1M320.5 1122.4H322.6M322 1120.3H325.5M324.9 1122.4H326.9M326.3 1120.3H328.4M327.8 1122.4H329.8M329.2 1120.3H332.7M332.1 1118.2H334.2M333.6 1120.3H335.6M335 1122.4H337.1M336.5 1120.3H338.5M337.9 1118.2H340M339.4 1120.3H342.9M342.3 1122.4H344.3M343.7 1120.3H357.3M356.7 1122.4H358.8M358.2 1120.3H364.6M364 1122.4H366M365.4 1120.3H370.4M369.8 1118.2H371.8M371.2 1120.3H377.6M377 1118.2H379M378.4 1120.3H386.3M385.7 1122.4H389.2M388.6 1118.2H390.6M390 1120.3H392.1M391.5 1118.2H393.5M392.9 1122.4H395M394.4 1012.2H396.4M395.8 1008H397.9M397.3 1005.9H400.7M400.1 1003.7H408M407.4 1001.6H419.6M419 1003.7H422.5M421.9 999.5H423.9M423.3 1001.6H426.8M426.2 999.5H428.2M427.6 1001.6H429.7M429.1 999.5H431.1M430.5 1001.6H432.6M432 999.5H435.5M434.9 1001.6H438.4M437.8 999.5H454.3M453.7 997.4H455.7M455.1 1001.6H457.2M456.6 999.5H458.6M458 997.4H461.5M460.9 1001.6H464.4M463.8 999.5H481.8M481.2 997.4H483.2M482.6 999.5H484.7M484.1 997.4H489M488.4 995.3H490.5M489.9 997.4H494.8M494.2 995.3H496.3M495.7 997.4H497.7M497.1 995.3H499.2M498.6 997.4H502.1M501.5 995.3H503.5M502.9 997.4H506.4M505.8 995.3H509.3M508.7 997.4H513.6M513 999.5H515.1M514.5 997.4H526.7M526.1 999.5H528.1M527.5 997.4H531M530.4 999.5H532.5M531.9 997.4H535.3M534.7 995.3H536.8M536.2 997.4H539.7M539.1 1120.3H541.1M540.5 1118.2H544M543.4 1120.3H545.5M544.9 1118.2H548.4M547.8 1120.3H549.8M549.2 1116.1H551.3M550.7 1120.3H552.7M552.1 1118.2H554.2" stroke="#7b7912" stroke-width="2" fill="none"/>
<polygon points="90.7,844.8 90.7,819.2 105.2,819.2 105.2,770.7 249.9,770.7 249.9,819.2 394.7,819.2 394.7,770.7 539.4,770.7 539.4,819.2 553.9,819.2 553.9,844.8" fill="#bab6b3"/>
<polygon points="90.7,844.8 90.7,832 105.2,832 105.2,807.8 249.9,807.8 249.9,832 394.7,832 394.7,807.8 539.4,807.8 539.4,832 553.9,832 553.9,844.8" fill="#989390"/>
<path d="M95.8 819.2V832M108.8 770.7V807.8M110.3 770.7V807.8M118.9 770.7V807.8M136.3 770.7V807.8M153.7 770.7V807.8M155.1 770.7V807.8M171 770.7V807.8M187 770.7V807.8M189.9 770.7V807.8M208.7 770.7V807.8M217.4 770.7V807.8M253.5 819.2V832M263.7 819.2V832M275.3 819.2V832M289.7 819.2V832M302.8 819.2V832M331.7 819.2V832M354.9 819.2V832M363.5 819.2V832M370.8 819.2V832M380.9 819.2V832M399.7 770.7V807.8M430.1 770.7V807.8M440.2 770.7V807.8M472.1 770.7V807.8M477.9 770.7V807.8M479.3 770.7V807.8M492.3 770.7V807.8M499.6 770.7V807.8M527.1 770.7V807.8M545.9 819.2V832M547.3 819.2V832" stroke="#ebe8e6" stroke-width="1" fill="none" shape-rendering="crispEdges"/>
<path d="M91.4 819.2V832M92.9 819.2V832M94.3 819.2V832M111.7 770.7V807.8M116.1 770.7V807.8M120.4 770.7V807.8M123.3 770.7V807.8M124.7 770.7V807.8M126.2 770.7V807.8M129.1 770.7V807.8M133.4 770.7V807.8M139.2 770.7V807.8M143.6 770.7V807.8M149.3 770.7V807.8M159.5 770.7V807.8M166.7 770.7V807.8M172.5 770.7V807.8M173.9 770.7V807.8M175.4 770.7V807.8M179.7 770.7V807.8M182.6 770.7V807.8M185.5 770.7V807.8M191.3 770.7V807.8M192.8 770.7V807.8M194.2 770.7V807.8M195.7 770.7V807.8M197.1 770.7V807.8M200 770.7V807.8M201.4 770.7V807.8M204.3 770.7V807.8M213 770.7V807.8M214.5 770.7V807.8M223.2 770.7V807.8M227.5 770.7V807.8M231.8 770.7V807.8M233.3 770.7V807.8M234.7 770.7V807.8M236.2 770.7V807.8M239.1 770.7V807.8M240.5 770.7V807.8M242 770.7V807.8M247.8 770.7V807.8M252.1 819.2V832M255 819.2V832M259.3 819.2V832M262.2 819.2V832M273.8 819.2V832M278.1 819.2V832M281 819.2V832M283.9 819.2V832M291.2 819.2V832M294.1 819.2V832M301.3 819.2V832M304.2 819.2V832M305.6 819.2V832M308.5 819.2V832M310 819.2V832M318.7 819.2V832M324.5 819.2V832M336 819.2V832M346.2 819.2V832M349.1 819.2V832M352 819.2V832M353.4 819.2V832M356.3 819.2V832M362.1 819.2V832M365 819.2V832M367.9 819.2V832M372.2 819.2V832M373.7 819.2V832M376.6 819.2V832M378 819.2V832M385.2 819.2V832M388.1 819.2V832M391 819.2V832M392.5 819.2V832M401.2 770.7V807.8M409.9 770.7V807.8M414.2 770.7V807.8M415.6 770.7V807.8M417.1 770.7V807.8M420 770.7V807.8M421.4 770.7V807.8M422.9 770.7V807.8M427.2 770.7V807.8M428.7 770.7V807.8M433 770.7V807.8M434.5 770.7V807.8M444.6 770.7V807.8M451.8 770.7V807.8M456.2 770.7V807.8M459.1 770.7V807.8M462 770.7V807.8M466.3 770.7V807.8M467.7 770.7V807.8M469.2 770.7V807.8M473.5 770.7V807.8M482.2 770.7V807.8M483.7 770.7V807.8M485.1 770.7V807.8M486.6 770.7V807.8M503.9 770.7V807.8M506.8 770.7V807.8M508.3 770.7V807.8M515.5 770.7V807.8M522.7 770.7V807.8M525.6 770.7V807.8M528.5 770.7V807.8M531.4 770.7V807.8M534.3 770.7V807.8M535.8 770.7V807.8M537.2 770.7V807.8M540.1 819.2V832M541.6 819.2V832M544.5 819.2V832M548.8 819.2V832M550.2 819.2V832M551.7 819.2V832M553.1 819.2V832" stroke="#8a8481" stroke-width="1" fill="none" shape-rendering="crispEdges"/>
<path d="M95.8 832V844.8M108.8 807.8V844.8M110.3 807.8V844.8M118.9 807.8V844.8M136.3 807.8V844.8M152.2 807.8V844.8M153.7 807.8V844.8M155.1 807.8V844.8M171 807.8V844.8M187 807.8V844.8M189.9 807.8V844.8M208.7 807.8V844.8M217.4 807.8V844.8M253.5 832V844.8M263.7 832V844.8M275.3 832V844.8M289.7 832V844.8M302.8 832V844.8M331.7 832V844.8M338.9 832V844.8M341.8 832V844.8M354.9 832V844.8M363.5 832V844.8M370.8 832V844.8M380.9 832V844.8M399.7 807.8V844.8M430.1 807.8V844.8M440.2 807.8V844.8M472.1 807.8V844.8M477.9 807.8V844.8M479.3 807.8V844.8M492.3 807.8V844.8M499.6 807.8V844.8M527.1 807.8V844.8M538.7 807.8V844.8M543 832V844.8M545.9 832V844.8M547.3 832V844.8" stroke="#dcd9d7" stroke-width="1" fill="none" shape-rendering="crispEdges"/>
<path d="M91.4 832V844.8M92.9 832V844.8M94.3 832V844.8M95.8 832V844.8M111.7 807.8V844.8M114.6 807.8V844.8M116.1 807.8V844.8M120.4 807.8V844.8M123.3 807.8V844.8M124.7 807.8V844.8M126.2 807.8V844.8M129.1 807.8V844.8M133.4 807.8V844.8M139.2 807.8V844.8M143.6 807.8V844.8M149.3 807.8V844.8M153.7 807.8V844.8M159.5 807.8V844.8M165.3 807.8V844.8M166.7 807.8V844.8M172.5 807.8V844.8M173.9 807.8V844.8M175.4 807.8V844.8M176.8 807.8V844.8M179.7 807.8V844.8M182.6 807.8V844.8M185.5 807.8V844.8M191.3 807.8V844.8M192.8 807.8V844.8M194.2 807.8V844.8M195.7 807.8V844.8M197.1 807.8V844.8M200 807.8V844.8M201.4 807.8V844.8M202.9 807.8V844.8M204.3 807.8V844.8M213 807.8V844.8M214.5 807.8V844.8M215.9 807.8V844.8M223.2 807.8V844.8M227.5 807.8V844.8M231.8 807.8V844.8M233.3 807.8V844.8M234.7 807.8V844.8M236.2 807.8V844.8M237.6 807.8V844.8M239.1 807.8V844.8M240.5 807.8V844.8M242 807.8V844.8M247.8 807.8V844.8M252.1 832V844.8M253.5 832V844.8M255 832V844.8M256.4 832V844.8M259.3 832V844.8M262.2 832V844.8M263.7 832V844.8M269.5 832V844.8M273.8 832V844.8M278.1 832V844.8M281 832V844.8M283.9 832V844.8M288.3 832V844.8M291.2 832V844.8M294.1 832V844.8M299.9 832V844.8M301.3 832V844.8M302.8 832V844.8M304.2 832V844.8M305.6 832V844.8M308.5 832V844.8M310 832V844.8M311.4 832V844.8M312.9 832V844.8M315.8 832V844.8M317.2 832V844.8M318.7 832V844.8M324.5 832V844.8M336 832V844.8M346.2 832V844.8M349.1 832V844.8M352 832V844.8M353.4 832V844.8M356.3 832V844.8M360.6 832V844.8M362.1 832V844.8M365 832V844.8M367.9 832V844.8M372.2 832V844.8M373.7 832V844.8M376.6 832V844.8M378 832V844.8M380.9 832V844.8M385.2 832V844.8M386.7 832V844.8M388.1 832V844.8M391 832V844.8M392.5 832V844.8M396.8 807.8V844.8M401.2 807.8V844.8M409.9 807.8V844.8M414.2 807.8V844.8M415.6 807.8V844.8M417.1 807.8V844.8M418.5 807.8V844.8M420 807.8V844.8M421.4 807.8V844.8M422.9 807.8V844.8M427.2 807.8V844.8M428.7 807.8V844.8M433 807.8V844.8M434.5 807.8V844.8M435.9 807.8V844.8M444.6 807.8V844.8M451.8 807.8V844.8M456.2 807.8V844.8M459.1 807.8V844.8M462 807.8V844.8M466.3 807.8V844.8M467.7 807.8V844.8M469.2 807.8V844.8M473.5 807.8V844.8M482.2 807.8V844.8M483.7 807.8V844.8M485.1 807.8V844.8M486.6 807.8V844.8M496.7 807.8V844.8M503.9 807.8V844.8M506.8 807.8V844.8M508.3 807.8V844.8M514.1 807.8V844.8M515.5 807.8V844.8M522.7 807.8V844.8M525.6 807.8V844.8M528.5 807.8V844.8M531.4 807.8V844.8M534.3 807.8V844.8M535.8 807.8V844.8M537.2 807.8V844.8M540.1 832V844.8M541.6 832V844.8M544.5 832V844.8M548.8 832V844.8M550.2 832V844.8M551.7 832V844.8M553.1 832V844.8" stroke="#5a534f" stroke-width="1" fill="none" shape-rendering="crispEdges"/>
<path d="M90.7 819.8H105.2M105.2 771.2H249.9M249.9 819.8H394.7M394.7 771.2H539.4M539.4 819.8H553.9" stroke="#0a0808" stroke-width="1.7" fill="none"/>
</g>
<path d="M90 733.6V1142.9M553.5 732.2V1142.9M89.8 733.6H553.5M90 1141.5H553.5" stroke="#000" stroke-width="2.9" fill="none"/>
<path d="M90 844.8H553.5" stroke="#000" stroke-width="2" fill="none"/>
<path d="M83.7 1141.5H90M83.7 1099.1H90M83.7 1056.7H90M83.7 1014.3H90M83.7 971.9H90M83.7 929.5H90M83.7 887.2H90M83.7 844.8H90M90 1141.5V1147.6M162.4 1141.5V1147.6M234.7 1141.5V1147.6M307.1 1141.5V1147.6M379.5 1141.5V1147.6M451.8 1141.5V1147.6M524.2 1141.5V1147.6M553.5 844.8H557.3M553.5 822.6H557.3M553.5 800.3H557.3M553.5 778.1H557.3M553.5 755.9H557.3M553.5 733.6H557.3" stroke="#000" stroke-width="2.8" fill="none"/>
<path d="M86.6 1120.3H90M86.6 1077.9H90M86.6 1035.5H90M86.6 993.1H90M86.6 950.7H90M86.6 908.4H90M86.6 866H90M126.2 1141.5V1145.1M198.5 1141.5V1145.1M270.9 1141.5V1145.1M343.3 1141.5V1145.1M415.6 1141.5V1145.1M488 1141.5V1145.1" stroke="#000" stroke-width="2.3" fill="none"/>
<text transform="matrix(0.2815 0 0 0.2665 45.14 1149.46)" font-size="100" fill="#e61419">0.0</text>
<text transform="matrix(0.2815 0 0 0.2665 45.14 1107.07)" font-size="100" fill="#e61419">1.0</text>
<text transform="matrix(0.2815 0 0 0.2665 45.14 1064.68)" font-size="100" fill="#e61419">2.0</text>
<text transform="matrix(0.2815 0 0 0.2665 45.14 1022.29)" font-size="100" fill="#e61419">3.0</text>
<text transform="matrix(0.2815 0 0 0.2665 45.14 979.90)" font-size="100" fill="#e61419">4.0</text>
<text transform="matrix(0.2815 0 0 0.2665 45.14 937.51)" font-size="100" fill="#e61419">5.0</text>
<text transform="matrix(0.2815 0 0 0.2665 45.14 895.12)" font-size="100" fill="#e61419">6.0</text>
<text transform="matrix(0.2815 0 0 0.2665 45.14 852.73)" font-size="100" fill="#e61419">7.0</text>
<text transform="matrix(0.2285 0 0 0.2285 84.59 1168.90)" font-size="100">0</text>
<text transform="matrix(0.2285 0 0 0.2285 151.24 1168.90)" font-size="100">50</text>
<text transform="matrix(0.2285 0 0 0.2285 217.44 1168.90)" font-size="100">100</text>
<text transform="matrix(0.2285 0 0 0.2285 289.80 1168.90)" font-size="100">150</text>
<text transform="matrix(0.2285 0 0 0.2285 362.62 1168.90)" font-size="100">200</text>
<text transform="matrix(0.2285 0 0 0.2285 434.99 1168.90)" font-size="100">250</text>
<text transform="matrix(0.2285 0 0 0.2285 507.35 1168.90)" font-size="100">300</text>
<text transform="matrix(0.17 0 0 0.155 559.72 850.04)" font-size="100">0.0</text>
<text transform="matrix(0.17 0 0 0.155 559.72 827.81)" font-size="100">0.3</text>
<text transform="matrix(0.17 0 0 0.155 559.72 805.58)" font-size="100">0.6</text>
<text transform="matrix(0.17 0 0 0.155 559.72 783.35)" font-size="100">0.9</text>
<text transform="matrix(0.17 0 0 0.155 559.04 761.12)" font-size="100">1.2</text>
<text transform="matrix(0.17 0 0 0.155 559.04 738.89)" font-size="100">1.5</text>
<text transform="matrix(0.3631 0 0 0.3486 214.26 1217.75)" font-size="100">Pulse number</text>
<text transform="matrix(0.4284 0 0 0.4068 29.87 1109.63) rotate(-90)" font-size="100" fill="#e61419">Current (μA)</text>
<text transform="matrix(0.2511 0 0 0.2478 603.92 845.35) rotate(-90)" font-size="100">Voltage (V)</text>
<text transform="matrix(0.5022 0 0 0.5072 -1.46 758.10)" font-size="100">(b)</text>
<text transform="matrix(0.4579 0 0 0.483 98.01 888.22)" font-size="100" class="n">30 s</text>
</g>
<g id="panel-c">
<clipPath id="cc"><rect x="746.1" y="734.7" width="472.1" height="405.9"/></clipPath>
<g clip-path="url(#cc)">
<polygon points="746.8,1140.6 746.8,1119.6 754.2,1119.6 754.2,1121.7 755.7,1121.7 755.7,1119.6 760.1,1119.6 760.1,1117.5 761.6,1117.5 761.6,1018.5 763.1,1018.5 763.1,1014.3 764.5,1014.3 764.5,1012.2 766,1012.2 766,1008 767.5,1008 767.5,1005.9 770.4,1005.9 770.4,1003.8 773.4,1003.8 773.4,999.6 774.9,999.6 774.9,1003.8 776.3,1003.8 776.3,999.6 780.8,999.6 780.8,997.5 789.6,997.5 789.6,995.4 799.9,995.4 799.9,997.5 801.4,997.5 801.4,995.4 805.8,995.4 805.8,993.3 816.1,993.3 816.1,995.4 817.6,995.4 817.6,991.2 819.1,991.2 819.1,993.3 829.4,993.3 829.4,991.2 830.9,991.2 830.9,993.3 839.7,993.3 839.7,991.2 841.2,991.2 841.2,993.3 848.6,993.3 848.6,995.4 851.5,995.4 851.5,993.3 869.2,993.3 869.2,989.1 870.7,989.1 870.7,991.2 873.7,991.2 873.7,989.1 875.1,989.1 875.1,991.2 878.1,991.2 878.1,993.3 879.6,993.3 879.6,991.2 892.8,991.2 892.8,989.1 894.3,989.1 894.3,991.2 895.8,991.2 895.8,989.1 897.3,989.1 897.3,993.3 898.7,993.3 898.7,991.2 901.7,991.2 901.7,989.1 903.2,989.1 903.2,991.2 906.1,991.2 906.1,989.1 907.6,989.1 907.6,991.2 909.1,991.2 909.1,1119.6 910.5,1119.6 910.5,1115.3 912,1115.3 912,1121.7 913.5,1121.7 913.5,1119.6 928.2,1119.6 928.2,1117.5 929.7,1117.5 929.7,1119.6 938.5,1119.6 938.5,1117.5 941.5,1117.5 941.5,1119.6 943,1119.6 943,1117.5 944.4,1117.5 944.4,1119.6 948.9,1119.6 948.9,1121.7 950.3,1121.7 950.3,1119.6 951.8,1119.6 951.8,1117.5 953.3,1117.5 953.3,1119.6 954.8,1119.6 954.8,1117.5 956.2,1117.5 956.2,1121.7 957.7,1121.7 957.7,1117.5 960.7,1117.5 960.7,1121.7 962.1,1121.7 962.1,1117.5 963.6,1117.5 963.6,1119.6 966.6,1119.6 966.6,1117.5 968,1117.5 968,1119.6 969.5,1119.6 969.5,1121.7 971,1121.7 971,1117.5 972.5,1117.5 972.5,1119.6 975.4,1119.6 975.4,1121.7 976.9,1121.7 976.9,1119.6 984.3,1119.6 984.3,1117.5 985.7,1117.5 985.7,1119.6 987.2,1119.6 987.2,1121.7 988.7,1121.7 988.7,1119.6 991.6,1119.6 991.6,1121.7 993.1,1121.7 993.1,1119.6 994.6,1119.6 994.6,1117.5 996.1,1117.5 996.1,1119.6 999,1119.6 999,1121.7 1000.5,1121.7 1000.5,1119.6 1002,1119.6 1002,1121.7 1003.4,1121.7 1003.4,1119.6 1015.2,1119.6 1015.2,1121.7 1016.7,1121.7 1016.7,1119.6 1018.2,1119.6 1018.2,1117.5 1021.1,1117.5 1021.1,1119.6 1024.1,1119.6 1024.1,1121.7 1025.6,1121.7 1025.6,1119.6 1030,1119.6 1030,1117.5 1031.5,1117.5 1031.5,1119.6 1034.4,1119.6 1034.4,1117.5 1035.9,1117.5 1035.9,1119.6 1038.8,1119.6 1038.8,1121.7 1040.3,1121.7 1040.3,1119.6 1049.2,1119.6 1049.2,1121.7 1050.6,1121.7 1050.6,1119.6 1056.5,1119.6 1056.5,1010.1 1058,1010.1 1058,1008 1059.5,1008 1059.5,1005.9 1060.9,1005.9 1060.9,1003.8 1062.4,1003.8 1062.4,1001.7 1063.9,1001.7 1063.9,999.6 1066.8,999.6 1066.8,997.5 1068.3,997.5 1068.3,995.4 1071.3,995.4 1071.3,997.5 1074.2,997.5 1074.2,995.4 1078.6,995.4 1078.6,993.3 1080.1,993.3 1080.1,995.4 1083.1,995.4 1083.1,993.3 1103.7,993.3 1103.7,995.4 1105.2,995.4 1105.2,993.3 1109.6,993.3 1109.6,991.2 1112.6,991.2 1112.6,993.3 1114,993.3 1114,989.1 1115.5,989.1 1115.5,991.2 1117,991.2 1117,989.1 1118.5,989.1 1118.5,993.3 1119.9,993.3 1119.9,991.2 1127.3,991.2 1127.3,993.3 1128.8,993.3 1128.8,991.2 1143.5,991.2 1143.5,993.3 1145,993.3 1145,991.2 1149.4,991.2 1149.4,989.1 1150.9,989.1 1150.9,991.2 1162.7,991.2 1162.7,993.3 1164.2,993.3 1164.2,989.1 1165.7,989.1 1165.7,993.3 1167.1,993.3 1167.1,991.2 1171.6,991.2 1171.6,989.1 1176,989.1 1176,991.2 1177.4,991.2 1177.4,989.1 1180.4,989.1 1180.4,991.2 1187.8,991.2 1187.8,989.1 1189.2,989.1 1189.2,991.2 1202.5,991.2 1202.5,989.1 1204,989.1 1204,1119.6 1205.5,1119.6 1205.5,1121.7 1206.9,1121.7 1206.9,1119.6 1212.8,1119.6 1212.8,1121.7 1215.8,1121.7 1215.8,1117.5 1217.3,1117.5 1217.3,1119.6 1218.7,1119.6 1218.7,1140.6" fill="#d6cfe8"/>
<polygon points="746.8,1140.6 746.8,1130.1 754.2,1130.1 754.2,1131.1 755.7,1131.1 755.7,1130.1 760.1,1130.1 760.1,1129 761.6,1129 761.6,1079.6 763.1,1079.6 763.1,1077.5 764.5,1077.5 764.5,1076.4 766,1076.4 766,1074.3 767.5,1074.3 767.5,1073.3 770.4,1073.3 770.4,1072.2 773.4,1072.2 773.4,1070.1 774.9,1070.1 774.9,1072.2 776.3,1072.2 776.3,1070.1 780.8,1070.1 780.8,1069 789.6,1069 789.6,1068 799.9,1068 799.9,1069 801.4,1069 801.4,1068 805.8,1068 805.8,1066.9 816.1,1066.9 816.1,1068 817.6,1068 817.6,1065.9 819.1,1065.9 819.1,1066.9 829.4,1066.9 829.4,1065.9 830.9,1065.9 830.9,1066.9 839.7,1066.9 839.7,1065.9 841.2,1065.9 841.2,1066.9 848.6,1066.9 848.6,1068 851.5,1068 851.5,1066.9 869.2,1066.9 869.2,1064.8 870.7,1064.8 870.7,1065.9 873.7,1065.9 873.7,1064.8 875.1,1064.8 875.1,1065.9 878.1,1065.9 878.1,1066.9 879.6,1066.9 879.6,1065.9 892.8,1065.9 892.8,1064.8 894.3,1064.8 894.3,1065.9 895.8,1065.9 895.8,1064.8 897.3,1064.8 897.3,1066.9 898.7,1066.9 898.7,1065.9 901.7,1065.9 901.7,1064.8 903.2,1064.8 903.2,1065.9 906.1,1065.9 906.1,1064.8 907.6,1064.8 907.6,1065.9 909.1,1065.9 909.1,1130.1 910.5,1130.1 910.5,1128 912,1128 912,1131.1 913.5,1131.1 913.5,1130.1 928.2,1130.1 928.2,1129 929.7,1129 929.7,1130.1 938.5,1130.1 938.5,1129 941.5,1129 941.5,1130.1 943,1130.1 943,1129 944.4,1129 944.4,1130.1 948.9,1130.1 948.9,1131.1 950.3,1131.1 950.3,1130.1 951.8,1130.1 951.8,1129 953.3,1129 953.3,1130.1 954.8,1130.1 954.8,1129 956.2,1129 956.2,1131.1 957.7,1131.1 957.7,1129 960.7,1129 960.7,1131.1 962.1,1131.1 962.1,1129 963.6,1129 963.6,1130.1 966.6,1130.1 966.6,1129 968,1129 968,1130.1 969.5,1130.1 969.5,1131.1 971,1131.1 971,1129 972.5,1129 972.5,1130.1 975.4,1130.1 975.4,1131.1 976.9,1131.1 976.9,1130.1 984.3,1130.1 984.3,1129 985.7,1129 985.7,1130.1 987.2,1130.1 987.2,1131.1 988.7,1131.1 988.7,1130.1 991.6,1130.1 991.6,1131.1 993.1,1131.1 993.1,1130.1 994.6,1130.1 994.6,1129 996.1,1129 996.1,1130.1 999,1130.1 999,1131.1 1000.5,1131.1 1000.5,1130.1 1002,1130.1 1002,1131.1 1003.4,1131.1 1003.4,1130.1 1015.2,1130.1 1015.2,1131.1 1016.7,1131.1 1016.7,1130.1 1018.2,1130.1 1018.2,1129 1021.1,1129 1021.1,1130.1 1024.1,1130.1 1024.1,1131.1 1025.6,1131.1 1025.6,1130.1 1030,1130.1 1030,1129 1031.5,1129 1031.5,1130.1 1034.4,1130.1 1034.4,1129 1035.9,1129 1035.9,1130.1 1038.8,1130.1 1038.8,1131.1 1040.3,1131.1 1040.3,1130.1 1049.2,1130.1 1049.2,1131.1 1050.6,1131.1 1050.6,1130.1 1056.5,1130.1 1056.5,1075.4 1058,1075.4 1058,1074.3 1059.5,1074.3 1059.5,1073.3 1060.9,1073.3 1060.9,1072.2 1062.4,1072.2 1062.4,1071.2 1063.9,1071.2 1063.9,1070.1 1066.8,1070.1 1066.8,1069 1068.3,1069 1068.3,1068 1071.3,1068 1071.3,1069 1074.2,1069 1074.2,1068 1078.6,1068 1078.6,1066.9 1080.1,1066.9 1080.1,1068 1083.1,1068 1083.1,1066.9 1103.7,1066.9 1103.7,1068 1105.2,1068 1105.2,1066.9 1109.6,1066.9 1109.6,1065.9 1112.6,1065.9 1112.6,1066.9 1114,1066.9 1114,1064.8 1115.5,1064.8 1115.5,1065.9 1117,1065.9 1117,1064.8 1118.5,1064.8 1118.5,1066.9 1119.9,1066.9 1119.9,1065.9 1127.3,1065.9 1127.3,1066.9 1128.8,1066.9 1128.8,1065.9 1143.5,1065.9 1143.5,1066.9 1145,1066.9 1145,1065.9 1149.4,1065.9 1149.4,1064.8 1150.9,1064.8 1150.9,1065.9 1162.7,1065.9 1162.7,1066.9 1164.2,1066.9 1164.2,1064.8 1165.7,1064.8 1165.7,1066.9 1167.1,1066.9 1167.1,1065.9 1171.6,1065.9 1171.6,1064.8 1176,1064.8 1176,1065.9 1177.4,1065.9 1177.4,1064.8 1180.4,1064.8 1180.4,1065.9 1187.8,1065.9 1187.8,1064.8 1189.2,1064.8 1189.2,1065.9 1202.5,1065.9 1202.5,1064.8 1204,1064.8 1204,1130.1 1205.5,1130.1 1205.5,1131.1 1206.9,1131.1 1206.9,1130.1 1212.8,1130.1 1212.8,1131.1 1215.8,1131.1 1215.8,1129 1217.3,1129 1217.3,1130.1 1218.7,1130.1 1218.7,1140.6" fill="#c2b8dd"/>
<path d="M747.6 1119.6V1130.1M756.4 1119.6V1130.1M766.7 1008V1074.3M769.7 1005.9V1073.3M771.2 1003.8V1072.2M780 999.6V1070.1M781.5 997.5V1069M784.4 997.5V1069M785.9 997.5V1069M787.4 997.5V1069M788.9 997.5V1069M790.3 995.4V1068M793.3 995.4V1068M797.7 995.4V1068M816.9 995.4V1068M824.3 993.3V1066.9M825.7 993.3V1066.9M828.7 993.3V1066.9M834.6 993.3V1066.9M836.1 993.3V1066.9M864.1 993.3V1066.9M867 993.3V1066.9M868.5 993.3V1066.9M881.8 991.2V1065.9M884.7 991.2V1065.9M887.7 991.2V1065.9M902.4 989.1V1064.8M906.8 989.1V1064.8M915.7 1119.6V1130.1M927.5 1119.6V1130.1M933.4 1119.6V1130.1M934.9 1119.6V1130.1M943.7 1117.5V1129M949.6 1121.7V1131.1M967.3 1117.5V1129M971.7 1117.5V1129M973.2 1119.6V1130.1M983.5 1119.6V1130.1M989.4 1119.6V1130.1M1001.2 1119.6V1130.1M1007.1 1119.6V1130.1M1020.4 1117.5V1129M1023.3 1119.6V1130.1M1027.8 1119.6V1130.1M1035.1 1117.5V1129M1044 1119.6V1130.1M1057.3 1010.1V1075.4M1070.5 995.4V1068M1075 995.4V1068M1088.2 993.3V1066.9M1095.6 993.3V1066.9M1100 993.3V1066.9M1107.4 993.3V1066.9M1108.9 993.3V1066.9M1113.3 993.3V1066.9M1114.8 989.1V1064.8M1128 993.3V1066.9M1133.9 991.2V1065.9M1139.8 991.2V1065.9M1147.2 991.2V1065.9M1148.7 991.2V1065.9M1153.1 991.2V1065.9M1164.9 989.1V1064.8M1172.3 989.1V1064.8M1176.7 991.2V1065.9M1181.1 991.2V1065.9M1200.3 991.2V1065.9M1207.7 1119.6V1130.1M1209.2 1119.6V1130.1M1213.6 1121.7V1131.1M1215.1 1121.7V1131.1" stroke="#e8e4f4" stroke-width="0.95" fill="none"/>
<path d="M752 1119.6V1130.1M754.9 1121.7V1131.1M759.4 1119.6V1130.1M762.3 1018.5V1079.6M763.8 1014.3V1077.5M768.2 1005.9V1073.3M772.6 1003.8V1072.2M774.1 999.6V1070.1M775.6 1003.8V1072.2M777.1 999.6V1070.1M783 997.5V1069M796.2 995.4V1068M799.2 995.4V1068M800.7 997.5V1069M805.1 995.4V1068M813.9 993.3V1066.9M819.8 993.3V1066.9M822.8 993.3V1066.9M837.5 993.3V1066.9M839 993.3V1066.9M840.5 991.2V1065.9M843.4 993.3V1066.9M844.9 993.3V1066.9M853.8 993.3V1066.9M856.7 993.3V1066.9M861.1 993.3V1066.9M870 989.1V1064.8M872.9 991.2V1065.9M874.4 989.1V1064.8M877.3 991.2V1065.9M878.8 993.3V1066.9M889.1 991.2V1065.9M890.6 991.2V1065.9M893.6 989.1V1064.8M898 993.3V1066.9M900.9 991.2V1065.9M903.9 991.2V1065.9M908.3 991.2V1065.9M909.8 1119.6V1130.1M911.3 1115.3V1128M912.7 1121.7V1131.1M918.6 1119.6V1130.1M920.1 1119.6V1130.1M926 1119.6V1130.1M929 1117.5V1129M936.3 1119.6V1130.1M939.3 1117.5V1129M940.8 1117.5V1129M942.2 1119.6V1130.1M946.7 1119.6V1130.1M952.6 1117.5V1129M954 1119.6V1130.1M958.5 1117.5V1129M962.9 1117.5V1129M970.3 1121.7V1131.1M974.7 1119.6V1130.1M976.2 1121.7V1131.1M993.8 1119.6V1130.1M996.8 1119.6V1130.1M998.3 1119.6V1130.1M1010.1 1119.6V1130.1M1014.5 1119.6V1130.1M1017.4 1119.6V1130.1M1018.9 1117.5V1129M1024.8 1121.7V1131.1M1029.2 1119.6V1130.1M1030.7 1117.5V1129M1036.6 1119.6V1130.1M1045.5 1119.6V1130.1M1049.9 1121.7V1131.1M1051.4 1119.6V1130.1M1052.8 1119.6V1130.1M1054.3 1119.6V1130.1M1061.7 1003.8V1072.2M1063.2 1001.7V1071.2M1077.9 995.4V1068M1080.9 995.4V1068M1083.8 993.3V1066.9M1085.3 993.3V1066.9M1086.8 993.3V1066.9M1094.1 993.3V1066.9M1098.6 993.3V1066.9M1101.5 993.3V1066.9M1103 993.3V1066.9M1105.9 993.3V1066.9M1110.4 991.2V1065.9M1119.2 993.3V1066.9M1126.6 991.2V1065.9M1129.5 991.2V1065.9M1131 991.2V1065.9M1135.4 991.2V1065.9M1136.9 991.2V1065.9M1142.8 991.2V1065.9M1151.6 991.2V1065.9M1160.5 991.2V1065.9M1167.9 991.2V1065.9M1184.1 991.2V1065.9M1185.6 991.2V1065.9M1188.5 989.1V1064.8M1190 991.2V1065.9M1191.5 991.2V1065.9M1192.9 991.2V1065.9M1194.4 991.2V1065.9M1195.9 991.2V1065.9M1197.4 991.2V1065.9M1203.3 989.1V1064.8M1212.1 1119.6V1130.1M1218 1119.6V1130.1" stroke="#9a8cc7" stroke-width="0.95" fill="none"/>
<path d="M747.6 1130.1V1140.6M756.4 1130.1V1140.6M766.7 1074.3V1140.6M769.7 1073.3V1140.6M771.2 1072.2V1140.6M780 1070.1V1140.6M781.5 1069V1140.6M784.4 1069V1140.6M785.9 1069V1140.6M787.4 1069V1140.6M788.9 1069V1140.6M790.3 1068V1140.6M793.3 1068V1140.6M797.7 1068V1140.6M816.9 1068V1140.6M824.3 1066.9V1140.6M825.7 1066.9V1140.6M828.7 1066.9V1140.6M833.1 1066.9V1140.6M834.6 1066.9V1140.6M836.1 1066.9V1140.6M855.2 1066.9V1140.6M864.1 1066.9V1140.6M867 1066.9V1140.6M868.5 1066.9V1140.6M881.8 1065.9V1140.6M884.7 1065.9V1140.6M887.7 1065.9V1140.6M902.4 1064.8V1140.6M905.4 1065.9V1140.6M906.8 1064.8V1140.6M915.7 1130.1V1140.6M927.5 1130.1V1140.6M933.4 1130.1V1140.6M934.9 1130.1V1140.6M943.7 1129V1140.6M949.6 1131.1V1140.6M951.1 1130.1V1140.6M961.4 1131.1V1140.6M967.3 1129V1140.6M971.7 1129V1140.6M973.2 1130.1V1140.6M983.5 1130.1V1140.6M988 1131.1V1140.6M989.4 1130.1V1140.6M1001.2 1130.1V1140.6M1007.1 1130.1V1140.6M1020.4 1129V1140.6M1023.3 1130.1V1140.6M1027.8 1130.1V1140.6M1035.1 1129V1140.6M1044 1130.1V1140.6M1057.3 1075.4V1140.6M1070.5 1068V1140.6M1075 1068V1140.6M1088.2 1066.9V1140.6M1095.6 1066.9V1140.6M1100 1066.9V1140.6M1107.4 1066.9V1140.6M1108.9 1066.9V1140.6M1113.3 1066.9V1140.6M1114.8 1064.8V1140.6M1120.7 1065.9V1140.6M1128 1066.9V1140.6M1133.9 1065.9V1140.6M1139.8 1065.9V1140.6M1147.2 1065.9V1140.6M1148.7 1065.9V1140.6M1153.1 1065.9V1140.6M1164.9 1064.8V1140.6M1170.8 1065.9V1140.6M1172.3 1064.8V1140.6M1176.7 1065.9V1140.6M1181.1 1065.9V1140.6M1200.3 1065.9V1140.6M1207.7 1130.1V1140.6M1209.2 1130.1V1140.6M1213.6 1131.1V1140.6M1215.1 1131.1V1140.6" stroke="#d6cfe9" stroke-width="0.95" fill="none"/>
<path d="M752 1130.1V1140.6M754.9 1131.1V1140.6M759.4 1130.1V1140.6M762.3 1079.6V1140.6M763.8 1077.5V1140.6M768.2 1073.3V1140.6M772.6 1072.2V1140.6M774.1 1070.1V1140.6M775.6 1072.2V1140.6M777.1 1070.1V1140.6M783 1069V1140.6M787.4 1069V1140.6M796.2 1068V1140.6M799.2 1068V1140.6M800.7 1069V1140.6M802.1 1068V1140.6M805.1 1068V1140.6M811 1066.9V1140.6M813.9 1066.9V1140.6M819.8 1066.9V1140.6M822.8 1066.9V1140.6M837.5 1066.9V1140.6M839 1066.9V1140.6M840.5 1065.9V1140.6M843.4 1066.9V1140.6M844.9 1066.9V1140.6M853.8 1066.9V1140.6M856.7 1066.9V1140.6M861.1 1066.9V1140.6M868.5 1066.9V1140.6M870 1064.8V1140.6M872.9 1065.9V1140.6M874.4 1064.8V1140.6M877.3 1065.9V1140.6M878.8 1066.9V1140.6M889.1 1065.9V1140.6M890.6 1065.9V1140.6M893.6 1064.8V1140.6M896.5 1064.8V1140.6M898 1066.9V1140.6M899.5 1065.9V1140.6M900.9 1065.9V1140.6M903.9 1065.9V1140.6M908.3 1065.9V1140.6M909.8 1130.1V1140.6M911.3 1128V1140.6M912.7 1131.1V1140.6M915.7 1130.1V1140.6M918.6 1130.1V1140.6M920.1 1130.1V1140.6M926 1130.1V1140.6M929 1129V1140.6M936.3 1130.1V1140.6M939.3 1129V1140.6M940.8 1129V1140.6M942.2 1130.1V1140.6M946.7 1130.1V1140.6M952.6 1129V1140.6M954 1130.1V1140.6M955.5 1129V1140.6M958.5 1129V1140.6M961.4 1131.1V1140.6M962.9 1129V1140.6M964.4 1130.1V1140.6M970.3 1131.1V1140.6M971.7 1129V1140.6M974.7 1130.1V1140.6M976.2 1131.1V1140.6M979.1 1130.1V1140.6M993.8 1130.1V1140.6M996.8 1130.1V1140.6M998.3 1130.1V1140.6M1010.1 1130.1V1140.6M1014.5 1130.1V1140.6M1017.4 1130.1V1140.6M1018.9 1129V1140.6M1020.4 1129V1140.6M1024.8 1131.1V1140.6M1029.2 1130.1V1140.6M1030.7 1129V1140.6M1032.2 1130.1V1140.6M1036.6 1130.1V1140.6M1042.5 1130.1V1140.6M1045.5 1130.1V1140.6M1049.9 1131.1V1140.6M1051.4 1130.1V1140.6M1052.8 1130.1V1140.6M1054.3 1130.1V1140.6M1061.7 1072.2V1140.6M1063.2 1071.2V1140.6M1076.4 1068V1140.6M1077.9 1068V1140.6M1080.9 1068V1140.6M1083.8 1066.9V1140.6M1085.3 1066.9V1140.6M1086.8 1066.9V1140.6M1089.7 1066.9V1140.6M1094.1 1066.9V1140.6M1098.6 1066.9V1140.6M1101.5 1066.9V1140.6M1103 1066.9V1140.6M1105.9 1066.9V1140.6M1110.4 1065.9V1140.6M1114.8 1064.8V1140.6M1119.2 1066.9V1140.6M1126.6 1065.9V1140.6M1129.5 1065.9V1140.6M1131 1065.9V1140.6M1135.4 1065.9V1140.6M1136.9 1065.9V1140.6M1142.8 1065.9V1140.6M1151.6 1065.9V1140.6M1160.5 1065.9V1140.6M1167.9 1065.9V1140.6M1178.2 1064.8V1140.6M1184.1 1065.9V1140.6M1185.6 1065.9V1140.6M1188.5 1064.8V1140.6M1190 1065.9V1140.6M1191.5 1065.9V1140.6M1192.9 1065.9V1140.6M1194.4 1065.9V1140.6M1195.9 1065.9V1140.6M1197.4 1065.9V1140.6M1203.3 1064.8V1140.6M1212.1 1130.1V1140.6M1218 1130.1V1140.6" stroke="#8475b9" stroke-width="0.95" fill="none"/>
<path d="M746.5 1119.6H754.5M753.9 1121.7H756M755.4 1119.6H760.4M759.8 1117.5H761.9M761.3 1018.5H763.4M762.8 1014.3H764.8M764.2 1012.2H766.3M765.7 1008H767.8M767.2 1005.9H770.7M770.1 1003.8H773.7M773.1 999.6H775.2M774.6 1003.8H776.6M776 999.6H781.1M780.5 997.5H789.9M789.3 995.4H800.2M799.6 997.5H801.7M801.1 995.4H806.1M805.5 993.3H816.4M815.8 995.4H817.9M817.3 991.2H819.4M818.8 993.3H829.7M829.1 991.2H831.2M830.6 993.3H840M839.4 991.2H841.5M840.9 993.3H848.9M848.3 995.4H851.8M851.2 993.3H869.5M868.9 989.1H871M870.4 991.2H874M873.4 989.1H875.4M874.8 991.2H878.4M877.8 993.3H879.9M879.3 991.2H893.1M892.5 989.1H894.6M894 991.2H896.1M895.5 989.1H897.6M897 993.3H899M898.4 991.2H902M901.4 989.1H903.5M902.9 991.2H906.4M905.8 989.1H907.9M907.3 991.2H909.4M908.8 1119.6H910.8M910.2 1115.3H912.3M911.7 1121.7H913.8M913.2 1119.6H928.5M927.9 1117.5H930M929.4 1119.6H938.8M938.2 1117.5H941.8M941.2 1119.6H943.3M942.7 1117.5H944.7M944.1 1119.6H949.2M948.6 1121.7H950.6M950 1119.6H952.1M951.5 1117.5H953.6M953 1119.6H955.1M954.5 1117.5H956.5M955.9 1121.7H958M957.4 1117.5H961M960.4 1121.7H962.4M961.8 1117.5H963.9M963.3 1119.6H966.9M966.3 1117.5H968.3M967.7 1119.6H969.8M969.2 1121.7H971.3M970.7 1117.5H972.8M972.2 1119.6H975.7M975.1 1121.7H977.2M976.6 1119.6H984.6M984 1117.5H986M985.4 1119.6H987.5M986.9 1121.7H989M988.4 1119.6H991.9M991.3 1121.7H993.4M992.8 1119.6H994.9M994.3 1117.5H996.4M995.8 1119.6H999.3M998.7 1121.7H1000.8M1000.2 1119.6H1002.3M1001.7 1121.7H1003.7M1003.1 1119.6H1015.5M1014.9 1121.7H1017M1016.4 1119.6H1018.5M1017.9 1117.5H1021.4M1020.8 1119.6H1024.4M1023.8 1121.7H1025.9M1025.3 1119.6H1030.3M1029.7 1117.5H1031.8M1031.2 1119.6H1034.7M1034.1 1117.5H1036.2M1035.6 1119.6H1039.1M1038.5 1121.7H1040.6M1040 1119.6H1049.5M1048.9 1121.7H1050.9M1050.3 1119.6H1056.8M1056.2 1010.1H1058.3M1057.7 1008H1059.8M1059.2 1005.9H1061.2M1060.6 1003.8H1062.7M1062.1 1001.7H1064.2M1063.6 999.6H1067.1M1066.5 997.5H1068.6M1068 995.4H1071.6M1071 997.5H1074.5M1073.9 995.4H1078.9M1078.3 993.3H1080.4M1079.8 995.4H1083.4M1082.8 993.3H1104M1103.4 995.4H1105.5M1104.9 993.3H1109.9M1109.3 991.2H1112.9M1112.3 993.3H1114.3M1113.7 989.1H1115.8M1115.2 991.2H1117.3M1116.7 989.1H1118.8M1118.2 993.3H1120.2M1119.6 991.2H1127.6M1127 993.3H1129.1M1128.5 991.2H1143.8M1143.2 993.3H1145.3M1144.7 991.2H1149.7M1149.1 989.1H1151.2M1150.6 991.2H1163M1162.4 993.3H1164.5M1163.9 989.1H1166M1165.4 993.3H1167.4M1166.8 991.2H1171.9M1171.3 989.1H1176.3M1175.7 991.2H1177.7M1177.1 989.1H1180.7M1180.1 991.2H1188.1M1187.5 989.1H1189.5M1188.9 991.2H1202.8M1202.2 989.1H1204.3M1203.7 1119.6H1205.8M1205.2 1121.7H1207.2M1206.6 1119.6H1213.1M1212.5 1121.7H1216.1M1215.5 1117.5H1217.6M1217 1119.6H1219" stroke="#3e2e92" stroke-width="2" fill="none"/>
<polygon points="746.8,845.6 746.8,820.1 761.6,820.1 761.6,771.7 909.1,771.7 909.1,820.1 1056.5,820.1 1056.5,771.7 1204,771.7 1204,820.1 1218.7,820.1 1218.7,845.6" fill="#bab6b3"/>
<polygon points="746.8,845.6 746.8,832.9 761.6,832.9 761.6,808.7 909.1,808.7 909.1,832.9 1056.5,832.9 1056.5,808.7 1204,808.7 1204,832.9 1218.7,832.9 1218.7,845.6" fill="#989390"/>
<path d="M775.6 771.7V808.7M788.9 771.7V808.7M803.6 771.7V808.7M812.5 771.7V808.7M824.3 771.7V808.7M840.5 771.7V808.7M849.3 771.7V808.7M862.6 771.7V808.7M864.1 771.7V808.7M878.8 771.7V808.7M884.7 771.7V808.7M914.2 820.1V832.9M924.5 820.1V832.9M933.4 820.1V832.9M942.2 820.1V832.9M943.7 820.1V832.9M961.4 820.1V832.9M962.9 820.1V832.9M977.6 820.1V832.9M982.1 820.1V832.9M993.8 820.1V832.9M995.3 820.1V832.9M1004.2 820.1V832.9M1013 820.1V832.9M1027.8 820.1V832.9M1038.1 820.1V832.9M1063.2 771.7V808.7M1069.1 771.7V808.7M1079.4 771.7V808.7M1088.2 771.7V808.7M1139.8 771.7V808.7M1162 771.7V808.7M1164.9 771.7V808.7M1178.2 771.7V808.7M1179.7 771.7V808.7M1188.5 771.7V808.7M1212.1 820.1V832.9" stroke="#ebe8e6" stroke-width="1" fill="none" shape-rendering="crispEdges"/>
<path d="M749 820.1V832.9M750.5 820.1V832.9M753.5 820.1V832.9M754.9 820.1V832.9M756.4 820.1V832.9M759.4 820.1V832.9M763.8 771.7V808.7M768.2 771.7V808.7M769.7 771.7V808.7M778.5 771.7V808.7M781.5 771.7V808.7M783 771.7V808.7M785.9 771.7V808.7M790.3 771.7V808.7M794.8 771.7V808.7M796.2 771.7V808.7M813.9 771.7V808.7M815.4 771.7V808.7M830.2 771.7V808.7M837.5 771.7V808.7M844.9 771.7V808.7M847.9 771.7V808.7M855.2 771.7V808.7M856.7 771.7V808.7M867 771.7V808.7M874.4 771.7V808.7M875.9 771.7V808.7M881.8 771.7V808.7M887.7 771.7V808.7M889.1 771.7V808.7M892.1 771.7V808.7M893.6 771.7V808.7M895 771.7V808.7M896.5 771.7V808.7M899.5 771.7V808.7M900.9 771.7V808.7M902.4 771.7V808.7M903.9 771.7V808.7M908.3 771.7V808.7M909.8 820.1V832.9M911.3 820.1V832.9M923.1 820.1V832.9M926 820.1V832.9M927.5 820.1V832.9M930.4 820.1V832.9M931.9 820.1V832.9M934.9 820.1V832.9M937.8 820.1V832.9M939.3 820.1V832.9M945.2 820.1V832.9M946.7 820.1V832.9M952.6 820.1V832.9M954 820.1V832.9M955.5 820.1V832.9M957 820.1V832.9M958.5 820.1V832.9M959.9 820.1V832.9M964.4 820.1V832.9M986.5 820.1V832.9M990.9 820.1V832.9M1002.7 820.1V832.9M1010.1 820.1V832.9M1016 820.1V832.9M1020.4 820.1V832.9M1021.9 820.1V832.9M1023.3 820.1V832.9M1026.3 820.1V832.9M1030.7 820.1V832.9M1033.7 820.1V832.9M1036.6 820.1V832.9M1039.6 820.1V832.9M1044 820.1V832.9M1046.9 820.1V832.9M1049.9 820.1V832.9M1051.4 820.1V832.9M1052.8 820.1V832.9M1055.8 820.1V832.9M1057.3 771.7V808.7M1058.7 771.7V808.7M1064.6 771.7V808.7M1077.9 771.7V808.7M1083.8 771.7V808.7M1085.3 771.7V808.7M1089.7 771.7V808.7M1091.2 771.7V808.7M1092.7 771.7V808.7M1098.6 771.7V808.7M1100 771.7V808.7M1111.8 771.7V808.7M1117.7 771.7V808.7M1120.7 771.7V808.7M1122.1 771.7V808.7M1123.6 771.7V808.7M1125.1 771.7V808.7M1129.5 771.7V808.7M1133.9 771.7V808.7M1135.4 771.7V808.7M1145.7 771.7V808.7M1147.2 771.7V808.7M1148.7 771.7V808.7M1150.2 771.7V808.7M1153.1 771.7V808.7M1159 771.7V808.7M1160.5 771.7V808.7M1163.4 771.7V808.7M1169.3 771.7V808.7M1182.6 771.7V808.7M1184.1 771.7V808.7M1187 771.7V808.7M1194.4 771.7V808.7M1195.9 771.7V808.7M1200.3 771.7V808.7M1218 820.1V832.9" stroke="#8a8481" stroke-width="1" fill="none" shape-rendering="crispEdges"/>
<path d="M775.6 808.7V845.6M787.4 808.7V845.6M788.9 808.7V845.6M803.6 808.7V845.6M811 808.7V845.6M812.5 808.7V845.6M821.3 808.7V845.6M824.3 808.7V845.6M840.5 808.7V845.6M846.4 808.7V845.6M849.3 808.7V845.6M862.6 808.7V845.6M864.1 808.7V845.6M878.8 808.7V845.6M884.7 808.7V845.6M914.2 832.9V845.6M924.5 832.9V845.6M933.4 832.9V845.6M942.2 832.9V845.6M943.7 832.9V845.6M949.6 832.9V845.6M961.4 832.9V845.6M962.9 832.9V845.6M977.6 832.9V845.6M982.1 832.9V845.6M993.8 832.9V845.6M995.3 832.9V845.6M1004.2 832.9V845.6M1013 832.9V845.6M1018.9 832.9V845.6M1027.8 832.9V845.6M1038.1 832.9V845.6M1063.2 808.7V845.6M1069.1 808.7V845.6M1079.4 808.7V845.6M1088.2 808.7V845.6M1138.4 808.7V845.6M1139.8 808.7V845.6M1157.5 808.7V845.6M1162 808.7V845.6M1164.9 808.7V845.6M1178.2 808.7V845.6M1179.7 808.7V845.6M1188.5 808.7V845.6M1212.1 832.9V845.6" stroke="#dcd9d7" stroke-width="1" fill="none" shape-rendering="crispEdges"/>
<path d="M747.6 832.9V845.6M749 832.9V845.6M750.5 832.9V845.6M753.5 832.9V845.6M754.9 832.9V845.6M756.4 832.9V845.6M759.4 832.9V845.6M763.8 808.7V845.6M768.2 808.7V845.6M769.7 808.7V845.6M771.2 808.7V845.6M777.1 808.7V845.6M778.5 808.7V845.6M781.5 808.7V845.6M783 808.7V845.6M785.9 808.7V845.6M790.3 808.7V845.6M794.8 808.7V845.6M796.2 808.7V845.6M799.2 808.7V845.6M812.5 808.7V845.6M813.9 808.7V845.6M815.4 808.7V845.6M821.3 808.7V845.6M827.2 808.7V845.6M830.2 808.7V845.6M837.5 808.7V845.6M844.9 808.7V845.6M847.9 808.7V845.6M855.2 808.7V845.6M856.7 808.7V845.6M861.1 808.7V845.6M867 808.7V845.6M874.4 808.7V845.6M875.9 808.7V845.6M880.3 808.7V845.6M881.8 808.7V845.6M887.7 808.7V845.6M889.1 808.7V845.6M892.1 808.7V845.6M893.6 808.7V845.6M895 808.7V845.6M896.5 808.7V845.6M898 808.7V845.6M899.5 808.7V845.6M900.9 808.7V845.6M902.4 808.7V845.6M903.9 808.7V845.6M908.3 808.7V845.6M909.8 832.9V845.6M911.3 832.9V845.6M912.7 832.9V845.6M918.6 832.9V845.6M923.1 832.9V845.6M926 832.9V845.6M927.5 832.9V845.6M930.4 832.9V845.6M931.9 832.9V845.6M934.9 832.9V845.6M937.8 832.9V845.6M939.3 832.9V845.6M940.8 832.9V845.6M945.2 832.9V845.6M946.7 832.9V845.6M952.6 832.9V845.6M954 832.9V845.6M955.5 832.9V845.6M957 832.9V845.6M958.5 832.9V845.6M959.9 832.9V845.6M964.4 832.9V845.6M967.3 832.9V845.6M974.7 832.9V845.6M976.2 832.9V845.6M982.1 832.9V845.6M986.5 832.9V845.6M990.9 832.9V845.6M993.8 832.9V845.6M998.3 832.9V845.6M1001.2 832.9V845.6M1002.7 832.9V845.6M1005.6 832.9V845.6M1010.1 832.9V845.6M1016 832.9V845.6M1017.4 832.9V845.6M1020.4 832.9V845.6M1021.9 832.9V845.6M1023.3 832.9V845.6M1026.3 832.9V845.6M1030.7 832.9V845.6M1033.7 832.9V845.6M1036.6 832.9V845.6M1039.6 832.9V845.6M1044 832.9V845.6M1045.5 832.9V845.6M1046.9 832.9V845.6M1049.9 832.9V845.6M1051.4 832.9V845.6M1052.8 832.9V845.6M1054.3 832.9V845.6M1055.8 832.9V845.6M1057.3 808.7V845.6M1058.7 808.7V845.6M1064.6 808.7V845.6M1077.9 808.7V845.6M1082.3 808.7V845.6M1083.8 808.7V845.6M1085.3 808.7V845.6M1089.7 808.7V845.6M1091.2 808.7V845.6M1092.7 808.7V845.6M1095.6 808.7V845.6M1098.6 808.7V845.6M1100 808.7V845.6M1107.4 808.7V845.6M1111.8 808.7V845.6M1114.8 808.7V845.6M1117.7 808.7V845.6M1120.7 808.7V845.6M1122.1 808.7V845.6M1123.6 808.7V845.6M1125.1 808.7V845.6M1129.5 808.7V845.6M1133.9 808.7V845.6M1135.4 808.7V845.6M1136.9 808.7V845.6M1138.4 808.7V845.6M1145.7 808.7V845.6M1147.2 808.7V845.6M1148.7 808.7V845.6M1150.2 808.7V845.6M1153.1 808.7V845.6M1156.1 808.7V845.6M1157.5 808.7V845.6M1159 808.7V845.6M1160.5 808.7V845.6M1162 808.7V845.6M1163.4 808.7V845.6M1169.3 808.7V845.6M1172.3 808.7V845.6M1175.2 808.7V845.6M1182.6 808.7V845.6M1184.1 808.7V845.6M1187 808.7V845.6M1194.4 808.7V845.6M1195.9 808.7V845.6M1197.4 808.7V845.6M1200.3 808.7V845.6M1206.2 832.9V845.6M1218 832.9V845.6" stroke="#5a534f" stroke-width="1" fill="none" shape-rendering="crispEdges"/>
<path d="M746.8 820.7H761.6M761.6 772.3H909.1M909.1 820.7H1056.5M1056.5 772.3H1204M1204 820.7H1218.7" stroke="#0a0808" stroke-width="1.7" fill="none"/>
</g>
<path d="M746.1 734.7V1142M1218.2 733.3V1142M745.9 734.7H1218.2M746.1 1140.6H1218.2" stroke="#000" stroke-width="2.9" fill="none"/>
<path d="M746.1 845.6H1218.2" stroke="#000" stroke-width="2" fill="none"/>
<path d="M739.8 1140.6H746.1M739.8 1098.5H746.1M739.8 1056.4H746.1M739.8 1014.3H746.1M739.8 972.2H746.1M739.8 930.1H746.1M739.8 888.1H746.1M739.8 846H746.1M746.1 1140.6V1146.7M819.8 1140.6V1146.7M893.6 1140.6V1146.7M967.3 1140.6V1146.7M1041 1140.6V1146.7M1114.8 1140.6V1146.7M1188.5 1140.6V1146.7M1218.2 845.6H1222M1218.2 823.4H1222M1218.2 801.3H1222M1218.2 779.1H1222M1218.2 756.9H1222M1218.2 734.8H1222" stroke="#000" stroke-width="2.8" fill="none"/>
<path d="M742.7 1119.6H746.1M742.7 1077.5H746.1M742.7 1035.4H746.1M742.7 993.3H746.1M742.7 951.2H746.1M742.7 909.1H746.1M742.7 867H746.1M783 1140.6V1144.2M856.7 1140.6V1144.2M930.4 1140.6V1144.2M1004.2 1140.6V1144.2M1077.9 1140.6V1144.2M1151.6 1140.6V1144.2" stroke="#000" stroke-width="2.3" fill="none"/>
<text transform="matrix(0.2815 0 0 0.2665 701.04 1148.56)" font-size="100" fill="#e61419">0.0</text>
<text transform="matrix(0.2815 0 0 0.2665 701.04 1106.47)" font-size="100" fill="#e61419">1.0</text>
<text transform="matrix(0.2815 0 0 0.2665 701.04 1064.38)" font-size="100" fill="#e61419">2.0</text>
<text transform="matrix(0.2815 0 0 0.2665 701.04 1022.29)" font-size="100" fill="#e61419">3.0</text>
<text transform="matrix(0.2815 0 0 0.2665 701.04 980.20)" font-size="100" fill="#e61419">4.0</text>
<text transform="matrix(0.2815 0 0 0.2665 701.04 938.11)" font-size="100" fill="#e61419">5.0</text>
<text transform="matrix(0.2815 0 0 0.2665 701.04 896.02)" font-size="100" fill="#e61419">6.0</text>
<text transform="matrix(0.2815 0 0 0.2665 701.04 853.93)" font-size="100" fill="#e61419">7.0</text>
<text transform="matrix(0.2285 0 0 0.2285 740.69 1167.70)" font-size="100">0</text>
<text transform="matrix(0.2285 0 0 0.2285 808.71 1167.70)" font-size="100">50</text>
<text transform="matrix(0.2285 0 0 0.2285 876.28 1167.70)" font-size="100">100</text>
<text transform="matrix(0.2285 0 0 0.2285 950.01 1167.70)" font-size="100">150</text>
<text transform="matrix(0.2285 0 0 0.2285 1024.20 1167.70)" font-size="100">200</text>
<text transform="matrix(0.2285 0 0 0.2285 1097.94 1167.70)" font-size="100">250</text>
<text transform="matrix(0.2285 0 0 0.2285 1171.67 1167.70)" font-size="100">300</text>
<text transform="matrix(0.17 0 0 0.155 1224.72 850.84)" font-size="100">0.0</text>
<text transform="matrix(0.17 0 0 0.155 1224.72 828.67)" font-size="100">0.3</text>
<text transform="matrix(0.17 0 0 0.155 1224.72 806.50)" font-size="100">0.6</text>
<text transform="matrix(0.17 0 0 0.155 1224.72 784.33)" font-size="100">0.9</text>
<text transform="matrix(0.17 0 0 0.155 1224.04 762.16)" font-size="100">1.2</text>
<text transform="matrix(0.17 0 0 0.155 1224.04 739.99)" font-size="100">1.5</text>
<text transform="matrix(0.3702 0 0 0.3529 872.44 1216.25)" font-size="100">Pulse number</text>
<text transform="matrix(0.4284 0 0 0.4011 683.47 1107.51) rotate(-90)" font-size="100" fill="#e61419">Current (μA)</text>
<text transform="matrix(0.2496 0 0 0.2474 1270.03 846.25) rotate(-90)" font-size="100">Voltage (V)</text>
<text transform="matrix(0.5696 0 0 0.5583 651.54 758.38)" font-size="100">(c)</text>
<text transform="matrix(0.454 0 0 0.497 757.53 894.90)" font-size="100" class="n">3 mins</text>
</g>
<g id="panel-d">
<clipPath id="cd"><rect x="1409.9" y="734.5" width="471.9" height="406.8"/></clipPath>
<g clip-path="url(#cd)">
<polygon points="1410.6,1141.3 1410.6,1122.2 1418,1122.2 1418,1120.1 1419.5,1120.1 1419.5,1124.3 1421,1124.3 1421,1122.2 1422.4,1122.2 1422.4,1120.1 1423.9,1120.1 1423.9,1122.2 1425.4,1122.2 1425.4,1005.7 1426.9,1005.7 1426.9,999.3 1428.3,999.3 1428.3,995.1 1429.8,995.1 1429.8,990.8 1431.3,990.8 1431.3,984.5 1434.2,984.5 1434.2,982.3 1435.7,982.3 1435.7,980.2 1437.2,980.2 1437.2,978.1 1438.6,978.1 1438.6,976 1440.1,976 1440.1,973.9 1443.1,973.9 1443.1,971.7 1446,971.7 1446,969.6 1449,969.6 1449,967.5 1451.9,967.5 1451.9,965.4 1454.9,965.4 1454.9,967.5 1456.3,967.5 1456.3,965.4 1459.3,965.4 1459.3,963.3 1466.6,963.3 1466.6,961.1 1477,961.1 1477,959 1485.8,959 1485.8,956.9 1487.3,956.9 1487.3,959 1488.8,959 1488.8,956.9 1496.1,956.9 1496.1,954.8 1497.6,954.8 1497.6,956.9 1500.6,956.9 1500.6,959 1502,959 1502,956.9 1503.5,956.9 1503.5,959 1505,959 1505,956.9 1506.4,956.9 1506.4,954.8 1507.9,954.8 1507.9,952.7 1509.4,952.7 1509.4,954.8 1522.7,954.8 1522.7,956.9 1524.1,956.9 1524.1,954.8 1533,954.8 1533,952.7 1535.9,952.7 1535.9,950.5 1537.4,950.5 1537.4,952.7 1540.3,952.7 1540.3,954.8 1541.8,954.8 1541.8,952.7 1552.1,952.7 1552.1,950.5 1553.6,950.5 1553.6,952.7 1556.6,952.7 1556.6,954.8 1558,954.8 1558,952.7 1565.4,952.7 1565.4,950.5 1566.9,950.5 1566.9,952.7 1571.3,952.7 1571.3,954.8 1572.8,954.8 1572.8,1113.7 1574.3,1113.7 1574.3,1115.9 1575.7,1115.9 1575.7,1118 1584.6,1118 1584.6,1122.2 1587.5,1122.2 1587.5,1120.1 1590.5,1120.1 1590.5,1118 1591.9,1118 1591.9,1122.2 1594.9,1122.2 1594.9,1120.1 1596.4,1120.1 1596.4,1118 1597.8,1118 1597.8,1120.1 1608.2,1120.1 1608.2,1118 1609.6,1118 1609.6,1124.3 1611.1,1124.3 1611.1,1122.2 1612.6,1122.2 1612.6,1124.3 1614,1124.3 1614,1122.2 1615.5,1122.2 1615.5,1120.1 1618.5,1120.1 1618.5,1124.3 1619.9,1124.3 1619.9,1122.2 1622.9,1122.2 1622.9,1124.3 1624.4,1124.3 1624.4,1122.2 1627.3,1122.2 1627.3,1120.1 1628.8,1120.1 1628.8,1124.3 1630.3,1124.3 1630.3,1120.1 1631.7,1120.1 1631.7,1124.3 1633.2,1124.3 1633.2,1122.2 1636.2,1122.2 1636.2,1124.3 1637.6,1124.3 1637.6,1122.2 1646.5,1122.2 1646.5,1120.1 1648,1120.1 1648,1122.2 1650.9,1122.2 1650.9,1124.3 1652.4,1124.3 1652.4,1122.2 1653.8,1122.2 1653.8,1120.1 1656.8,1120.1 1656.8,1122.2 1662.7,1122.2 1662.7,1124.3 1664.2,1124.3 1664.2,1122.2 1667.1,1122.2 1667.1,1120.1 1668.6,1120.1 1668.6,1122.2 1670.1,1122.2 1670.1,1120.1 1671.5,1120.1 1671.5,1122.2 1686.3,1122.2 1686.3,1120.1 1687.7,1120.1 1687.7,1122.2 1690.7,1122.2 1690.7,1120.1 1692.2,1120.1 1692.2,1124.3 1695.1,1124.3 1695.1,1120.1 1696.6,1120.1 1696.6,1122.2 1698.1,1122.2 1698.1,1124.3 1699.5,1124.3 1699.5,1122.2 1706.9,1122.2 1706.9,1120.1 1708.4,1120.1 1708.4,1122.2 1715.8,1122.2 1715.8,1120.1 1718.7,1120.1 1718.7,1122.2 1720.2,1122.2 1720.2,997.2 1721.7,997.2 1721.7,992.9 1723.1,992.9 1723.1,988.7 1724.6,988.7 1724.6,984.5 1726.1,984.5 1726.1,980.2 1727.5,980.2 1727.5,978.1 1729,978.1 1729,976 1730.5,976 1730.5,973.9 1733.4,973.9 1733.4,971.7 1734.9,971.7 1734.9,969.6 1736.4,969.6 1736.4,967.5 1739.3,967.5 1739.3,965.4 1740.8,965.4 1740.8,967.5 1742.3,967.5 1742.3,965.4 1745.2,965.4 1745.2,963.3 1746.7,963.3 1746.7,961.1 1749.7,961.1 1749.7,963.3 1751.1,963.3 1751.1,961.1 1754.1,961.1 1754.1,959 1758.5,959 1758.5,956.9 1760,956.9 1760,959 1761.4,959 1761.4,956.9 1771.8,956.9 1771.8,959 1773.2,959 1773.2,954.8 1774.7,954.8 1774.7,952.7 1776.2,952.7 1776.2,954.8 1777.7,954.8 1777.7,956.9 1779.1,956.9 1779.1,954.8 1786.5,954.8 1786.5,952.7 1789.5,952.7 1789.5,950.5 1790.9,950.5 1790.9,952.7 1807.1,952.7 1807.1,950.5 1817.5,950.5 1817.5,952.7 1818.9,952.7 1818.9,950.5 1823.4,950.5 1823.4,948.4 1824.8,948.4 1824.8,952.7 1826.3,952.7 1826.3,950.5 1827.8,950.5 1827.8,948.4 1829.3,948.4 1829.3,950.5 1830.7,950.5 1830.7,952.7 1832.2,952.7 1832.2,950.5 1839.6,950.5 1839.6,952.7 1841,952.7 1841,950.5 1842.5,950.5 1842.5,948.4 1863.2,948.4 1863.2,950.5 1866.1,950.5 1866.1,948.4 1867.6,948.4 1867.6,1115.9 1869.1,1115.9 1869.1,1120.1 1870.5,1120.1 1870.5,1118 1873.5,1118 1873.5,1120.1 1874.9,1120.1 1874.9,1118 1876.4,1118 1876.4,1122.2 1877.9,1122.2 1877.9,1120.1 1880.8,1120.1 1880.8,1122.2 1882.3,1122.2 1882.3,1141.3" fill="#fbe3cd"/>
<polygon points="1410.6,1141.3 1410.6,1131.8 1418,1131.8 1418,1130.7 1419.5,1130.7 1419.5,1132.8 1421,1132.8 1421,1131.8 1422.4,1131.8 1422.4,1130.7 1423.9,1130.7 1423.9,1131.8 1425.4,1131.8 1425.4,1073.5 1426.9,1073.5 1426.9,1070.3 1428.3,1070.3 1428.3,1068.2 1429.8,1068.2 1429.8,1066.1 1431.3,1066.1 1431.3,1062.9 1434.2,1062.9 1434.2,1061.8 1435.7,1061.8 1435.7,1060.8 1437.2,1060.8 1437.2,1059.7 1438.6,1059.7 1438.6,1058.6 1440.1,1058.6 1440.1,1057.6 1443.1,1057.6 1443.1,1056.5 1446,1056.5 1446,1055.5 1449,1055.5 1449,1054.4 1451.9,1054.4 1451.9,1053.3 1454.9,1053.3 1454.9,1054.4 1456.3,1054.4 1456.3,1053.3 1459.3,1053.3 1459.3,1052.3 1466.6,1052.3 1466.6,1051.2 1477,1051.2 1477,1050.2 1485.8,1050.2 1485.8,1049.1 1487.3,1049.1 1487.3,1050.2 1488.8,1050.2 1488.8,1049.1 1496.1,1049.1 1496.1,1048 1497.6,1048 1497.6,1049.1 1500.6,1049.1 1500.6,1050.2 1502,1050.2 1502,1049.1 1503.5,1049.1 1503.5,1050.2 1505,1050.2 1505,1049.1 1506.4,1049.1 1506.4,1048 1507.9,1048 1507.9,1047 1509.4,1047 1509.4,1048 1522.7,1048 1522.7,1049.1 1524.1,1049.1 1524.1,1048 1533,1048 1533,1047 1535.9,1047 1535.9,1045.9 1537.4,1045.9 1537.4,1047 1540.3,1047 1540.3,1048 1541.8,1048 1541.8,1047 1552.1,1047 1552.1,1045.9 1553.6,1045.9 1553.6,1047 1556.6,1047 1556.6,1048 1558,1048 1558,1047 1565.4,1047 1565.4,1045.9 1566.9,1045.9 1566.9,1047 1571.3,1047 1571.3,1048 1572.8,1048 1572.8,1127.5 1574.3,1127.5 1574.3,1128.6 1575.7,1128.6 1575.7,1129.6 1584.6,1129.6 1584.6,1131.8 1587.5,1131.8 1587.5,1130.7 1590.5,1130.7 1590.5,1129.6 1591.9,1129.6 1591.9,1131.8 1594.9,1131.8 1594.9,1130.7 1596.4,1130.7 1596.4,1129.6 1597.8,1129.6 1597.8,1130.7 1608.2,1130.7 1608.2,1129.6 1609.6,1129.6 1609.6,1132.8 1611.1,1132.8 1611.1,1131.8 1612.6,1131.8 1612.6,1132.8 1614,1132.8 1614,1131.8 1615.5,1131.8 1615.5,1130.7 1618.5,1130.7 1618.5,1132.8 1619.9,1132.8 1619.9,1131.8 1622.9,1131.8 1622.9,1132.8 1624.4,1132.8 1624.4,1131.8 1627.3,1131.8 1627.3,1130.7 1628.8,1130.7 1628.8,1132.8 1630.3,1132.8 1630.3,1130.7 1631.7,1130.7 1631.7,1132.8 1633.2,1132.8 1633.2,1131.8 1636.2,1131.8 1636.2,1132.8 1637.6,1132.8 1637.6,1131.8 1646.5,1131.8 1646.5,1130.7 1648,1130.7 1648,1131.8 1650.9,1131.8 1650.9,1132.8 1652.4,1132.8 1652.4,1131.8 1653.8,1131.8 1653.8,1130.7 1656.8,1130.7 1656.8,1131.8 1662.7,1131.8 1662.7,1132.8 1664.2,1132.8 1664.2,1131.8 1667.1,1131.8 1667.1,1130.7 1668.6,1130.7 1668.6,1131.8 1670.1,1131.8 1670.1,1130.7 1671.5,1130.7 1671.5,1131.8 1686.3,1131.8 1686.3,1130.7 1687.7,1130.7 1687.7,1131.8 1690.7,1131.8 1690.7,1130.7 1692.2,1130.7 1692.2,1132.8 1695.1,1132.8 1695.1,1130.7 1696.6,1130.7 1696.6,1131.8 1698.1,1131.8 1698.1,1132.8 1699.5,1132.8 1699.5,1131.8 1706.9,1131.8 1706.9,1130.7 1708.4,1130.7 1708.4,1131.8 1715.8,1131.8 1715.8,1130.7 1718.7,1130.7 1718.7,1131.8 1720.2,1131.8 1720.2,1069.2 1721.7,1069.2 1721.7,1067.1 1723.1,1067.1 1723.1,1065 1724.6,1065 1724.6,1062.9 1726.1,1062.9 1726.1,1060.8 1727.5,1060.8 1727.5,1059.7 1729,1059.7 1729,1058.6 1730.5,1058.6 1730.5,1057.6 1733.4,1057.6 1733.4,1056.5 1734.9,1056.5 1734.9,1055.5 1736.4,1055.5 1736.4,1054.4 1739.3,1054.4 1739.3,1053.3 1740.8,1053.3 1740.8,1054.4 1742.3,1054.4 1742.3,1053.3 1745.2,1053.3 1745.2,1052.3 1746.7,1052.3 1746.7,1051.2 1749.7,1051.2 1749.7,1052.3 1751.1,1052.3 1751.1,1051.2 1754.1,1051.2 1754.1,1050.2 1758.5,1050.2 1758.5,1049.1 1760,1049.1 1760,1050.2 1761.4,1050.2 1761.4,1049.1 1771.8,1049.1 1771.8,1050.2 1773.2,1050.2 1773.2,1048 1774.7,1048 1774.7,1047 1776.2,1047 1776.2,1048 1777.7,1048 1777.7,1049.1 1779.1,1049.1 1779.1,1048 1786.5,1048 1786.5,1047 1789.5,1047 1789.5,1045.9 1790.9,1045.9 1790.9,1047 1807.1,1047 1807.1,1045.9 1817.5,1045.9 1817.5,1047 1818.9,1047 1818.9,1045.9 1823.4,1045.9 1823.4,1044.9 1824.8,1044.9 1824.8,1047 1826.3,1047 1826.3,1045.9 1827.8,1045.9 1827.8,1044.9 1829.3,1044.9 1829.3,1045.9 1830.7,1045.9 1830.7,1047 1832.2,1047 1832.2,1045.9 1839.6,1045.9 1839.6,1047 1841,1047 1841,1045.9 1842.5,1045.9 1842.5,1044.9 1863.2,1044.9 1863.2,1045.9 1866.1,1045.9 1866.1,1044.9 1867.6,1044.9 1867.6,1128.6 1869.1,1128.6 1869.1,1130.7 1870.5,1130.7 1870.5,1129.6 1873.5,1129.6 1873.5,1130.7 1874.9,1130.7 1874.9,1129.6 1876.4,1129.6 1876.4,1131.8 1877.9,1131.8 1877.9,1130.7 1880.8,1130.7 1880.8,1131.8 1882.3,1131.8 1882.3,1141.3" fill="#f9d3b1"/>
<path d="M1412.8 1122.2V1131.8M1421.7 1122.2V1131.8M1424.6 1122.2V1131.8M1429.1 995.1V1068.2M1439.4 976V1058.6M1445.3 971.7V1056.5M1449.7 967.5V1054.4M1451.2 967.5V1054.4M1471.8 961.1V1051.2M1476.2 961.1V1051.2M1479.2 959V1050.2M1493.9 956.9V1049.1M1496.9 954.8V1048M1510.1 954.8V1048M1541.1 954.8V1048M1542.6 952.7V1047M1544 952.7V1047M1549.9 952.7V1047M1558.8 952.7V1047M1567.6 952.7V1047M1577.9 1118V1129.6M1586.8 1122.2V1131.8M1594.2 1122.2V1131.8M1597.1 1118V1129.6M1604.5 1120.1V1130.7M1608.9 1118V1129.6M1611.8 1122.2V1131.8M1616.3 1120.1V1130.7M1638.4 1122.2V1131.8M1647.2 1120.1V1130.7M1654.6 1120.1V1130.7M1660.5 1122.2V1131.8M1670.8 1120.1V1130.7M1681.1 1122.2V1131.8M1701.8 1122.2V1131.8M1710.6 1122.2V1131.8M1716.5 1120.1V1130.7M1732.7 973.9V1057.6M1741.6 967.5V1054.4M1747.4 961.1V1051.2M1750.4 963.3V1052.3M1757.8 959V1050.2M1782.8 954.8V1048M1788.7 952.7V1047M1799 952.7V1047M1807.9 950.5V1045.9M1815.2 950.5V1045.9M1816.7 950.5V1045.9M1818.2 952.7V1047M1834.4 950.5V1045.9M1838.8 950.5V1045.9M1849.2 948.4V1044.9M1850.6 948.4V1044.9M1859.5 948.4V1044.9M1860.9 948.4V1044.9M1872.7 1118V1129.6M1880.1 1120.1V1130.7" stroke="#fdf0e4" stroke-width="0.95" fill="none"/>
<path d="M1417.3 1122.2V1131.8M1420.2 1124.3V1132.8M1437.9 978.1V1059.7M1440.9 973.9V1057.6M1446.8 969.6V1055.5M1452.6 965.4V1053.3M1455.6 967.5V1054.4M1457.1 965.4V1053.3M1460 963.3V1052.3M1464.4 963.3V1052.3M1467.4 961.1V1051.2M1470.3 961.1V1051.2M1489.5 956.9V1049.1M1495.4 956.9V1049.1M1499.8 956.9V1049.1M1505.7 956.9V1049.1M1507.2 954.8V1048M1516 954.8V1048M1517.5 954.8V1048M1523.4 956.9V1049.1M1533.7 952.7V1047M1538.1 952.7V1047M1547 952.7V1047M1552.9 950.5V1045.9M1555.8 952.7V1047M1557.3 954.8V1048M1560.2 952.7V1047M1572 954.8V1048M1573.5 1113.7V1127.5M1579.4 1118V1129.6M1580.9 1118V1129.6M1588.3 1120.1V1130.7M1591.2 1118V1129.6M1598.6 1120.1V1130.7M1600 1120.1V1130.7M1601.5 1120.1V1130.7M1605.9 1120.1V1130.7M1607.4 1120.1V1130.7M1613.3 1124.3V1132.8M1614.8 1122.2V1131.8M1622.2 1122.2V1131.8M1628.1 1120.1V1130.7M1632.5 1124.3V1132.8M1651.6 1124.3V1132.8M1653.1 1122.2V1131.8M1662 1122.2V1131.8M1666.4 1122.2V1131.8M1667.9 1120.1V1130.7M1676.7 1122.2V1131.8M1679.6 1122.2V1131.8M1685.5 1122.2V1131.8M1695.9 1120.1V1130.7M1698.8 1124.3V1132.8M1703.2 1122.2V1131.8M1704.7 1122.2V1131.8M1706.2 1122.2V1131.8M1707.6 1120.1V1130.7M1709.1 1122.2V1131.8M1719.4 1122.2V1131.8M1722.4 992.9V1067.1M1726.8 980.2V1060.8M1728.3 978.1V1059.7M1731.2 973.9V1057.6M1735.7 969.6V1055.5M1740.1 965.4V1053.3M1746 963.3V1052.3M1748.9 961.1V1051.2M1759.2 956.9V1049.1M1769.6 956.9V1049.1M1772.5 959V1050.2M1781.3 954.8V1048M1785.8 954.8V1048M1787.2 952.7V1047M1793.1 952.7V1047M1794.6 952.7V1047M1796.1 952.7V1047M1800.5 952.7V1047M1802 952.7V1047M1804.9 952.7V1047M1809.4 950.5V1045.9M1813.8 950.5V1045.9M1824.1 948.4V1044.9M1831.5 952.7V1047M1832.9 950.5V1045.9M1840.3 952.7V1047M1844.7 948.4V1044.9M1852.1 948.4V1044.9M1853.6 948.4V1044.9M1856.5 948.4V1044.9M1863.9 950.5V1045.9M1865.4 950.5V1045.9M1866.8 948.4V1044.9M1868.3 1115.9V1128.6M1874.2 1120.1V1130.7M1875.7 1118V1129.6M1881.6 1122.2V1131.8" stroke="#f3a868" stroke-width="0.95" fill="none"/>
<path d="M1412.8 1131.8V1141.3M1421.7 1131.8V1141.3M1424.6 1131.8V1141.3M1429.1 1068.2V1141.3M1439.4 1058.6V1141.3M1445.3 1056.5V1141.3M1449.7 1054.4V1141.3M1451.2 1054.4V1141.3M1471.8 1051.2V1141.3M1476.2 1051.2V1141.3M1479.2 1050.2V1141.3M1493.9 1049.1V1141.3M1496.9 1048V1141.3M1510.1 1048V1141.3M1541.1 1048V1141.3M1542.6 1047V1141.3M1544 1047V1141.3M1549.9 1047V1141.3M1558.8 1047V1141.3M1567.6 1047V1141.3M1577.9 1129.6V1141.3M1586.8 1131.8V1141.3M1594.2 1131.8V1141.3M1597.1 1129.6V1141.3M1604.5 1130.7V1141.3M1608.9 1129.6V1141.3M1611.8 1131.8V1141.3M1616.3 1130.7V1141.3M1638.4 1131.8V1141.3M1647.2 1130.7V1141.3M1654.6 1130.7V1141.3M1660.5 1131.8V1141.3M1669.3 1131.8V1141.3M1670.8 1130.7V1141.3M1681.1 1131.8V1141.3M1688.5 1131.8V1141.3M1701.8 1131.8V1141.3M1710.6 1131.8V1141.3M1716.5 1130.7V1141.3M1732.7 1057.6V1141.3M1741.6 1054.4V1141.3M1747.4 1051.2V1141.3M1750.4 1052.3V1141.3M1751.9 1051.2V1141.3M1757.8 1050.2V1141.3M1782.8 1048V1141.3M1788.7 1047V1141.3M1799 1047V1141.3M1807.9 1045.9V1141.3M1815.2 1045.9V1141.3M1816.7 1045.9V1141.3M1818.2 1047V1141.3M1834.4 1045.9V1141.3M1838.8 1045.9V1141.3M1849.2 1044.9V1141.3M1850.6 1044.9V1141.3M1859.5 1044.9V1141.3M1860.9 1044.9V1141.3M1872.7 1129.6V1141.3M1880.1 1130.7V1141.3" stroke="#fbe2cc" stroke-width="0.95" fill="none"/>
<path d="M1412.8 1131.8V1141.3M1415.8 1131.8V1141.3M1417.3 1131.8V1141.3M1420.2 1132.8V1141.3M1421.7 1131.8V1141.3M1437.9 1059.7V1141.3M1440.9 1057.6V1141.3M1446.8 1055.5V1141.3M1449.7 1054.4V1141.3M1452.6 1053.3V1141.3M1455.6 1054.4V1141.3M1457.1 1053.3V1141.3M1458.5 1053.3V1141.3M1460 1052.3V1141.3M1461.5 1052.3V1141.3M1464.4 1052.3V1141.3M1467.4 1051.2V1141.3M1470.3 1051.2V1141.3M1483.6 1050.2V1141.3M1489.5 1049.1V1141.3M1495.4 1049.1V1141.3M1499.8 1049.1V1141.3M1505.7 1049.1V1141.3M1507.2 1048V1141.3M1511.6 1048V1141.3M1514.6 1048V1141.3M1516 1048V1141.3M1517.5 1048V1141.3M1523.4 1049.1V1141.3M1533.7 1047V1141.3M1538.1 1047V1141.3M1547 1047V1141.3M1552.9 1045.9V1141.3M1555.8 1047V1141.3M1557.3 1048V1141.3M1560.2 1047V1141.3M1572 1048V1141.3M1573.5 1127.5V1141.3M1577.9 1129.6V1141.3M1579.4 1129.6V1141.3M1580.9 1129.6V1141.3M1588.3 1130.7V1141.3M1589.7 1130.7V1141.3M1591.2 1129.6V1141.3M1592.7 1131.8V1141.3M1594.2 1131.8V1141.3M1598.6 1130.7V1141.3M1600 1130.7V1141.3M1601.5 1130.7V1141.3M1603 1130.7V1141.3M1605.9 1130.7V1141.3M1607.4 1130.7V1141.3M1613.3 1132.8V1141.3M1614.8 1131.8V1141.3M1622.2 1131.8V1141.3M1628.1 1130.7V1141.3M1632.5 1132.8V1141.3M1639.8 1131.8V1141.3M1651.6 1132.8V1141.3M1653.1 1131.8V1141.3M1654.6 1130.7V1141.3M1662 1131.8V1141.3M1666.4 1131.8V1141.3M1667.9 1130.7V1141.3M1676.7 1131.8V1141.3M1679.6 1131.8V1141.3M1685.5 1131.8V1141.3M1695.9 1130.7V1141.3M1698.8 1132.8V1141.3M1703.2 1131.8V1141.3M1704.7 1131.8V1141.3M1706.2 1131.8V1141.3M1707.6 1130.7V1141.3M1709.1 1131.8V1141.3M1715 1131.8V1141.3M1719.4 1131.8V1141.3M1722.4 1067.1V1141.3M1726.8 1060.8V1141.3M1728.3 1059.7V1141.3M1731.2 1057.6V1141.3M1735.7 1055.5V1141.3M1737.1 1054.4V1141.3M1740.1 1053.3V1141.3M1744.5 1053.3V1141.3M1746 1052.3V1141.3M1748.9 1051.2V1141.3M1759.2 1049.1V1141.3M1760.7 1050.2V1141.3M1769.6 1049.1V1141.3M1772.5 1050.2V1141.3M1775.5 1047V1141.3M1781.3 1048V1141.3M1784.3 1048V1141.3M1785.8 1048V1141.3M1787.2 1047V1141.3M1793.1 1047V1141.3M1794.6 1047V1141.3M1796.1 1047V1141.3M1800.5 1047V1141.3M1802 1047V1141.3M1804.9 1047V1141.3M1809.4 1045.9V1141.3M1813.8 1045.9V1141.3M1816.7 1045.9V1141.3M1822.6 1045.9V1141.3M1824.1 1044.9V1141.3M1831.5 1047V1141.3M1832.9 1045.9V1141.3M1840.3 1047V1141.3M1844.7 1044.9V1141.3M1852.1 1044.9V1141.3M1853.6 1044.9V1141.3M1856.5 1044.9V1141.3M1863.9 1045.9V1141.3M1865.4 1045.9V1141.3M1866.8 1044.9V1141.3M1868.3 1128.6V1141.3M1874.2 1130.7V1141.3M1875.7 1129.6V1141.3M1881.6 1131.8V1141.3" stroke="#f09850" stroke-width="0.95" fill="none"/>
<path d="M1410.3 1122.2H1418.3M1417.7 1120.1H1419.8M1419.2 1124.3H1421.3M1420.7 1122.2H1422.7M1422.1 1120.1H1424.2M1423.6 1122.2H1425.7M1425.1 1005.7H1427.2M1426.6 999.3H1428.6M1428 995.1H1430.1M1429.5 990.8H1431.6M1431 984.5H1434.5M1433.9 982.3H1436M1435.4 980.2H1437.5M1436.9 978.1H1438.9M1438.3 976H1440.4M1439.8 973.9H1443.4M1442.8 971.7H1446.3M1445.7 969.6H1449.3M1448.7 967.5H1452.2M1451.6 965.4H1455.2M1454.6 967.5H1456.6M1456 965.4H1459.6M1459 963.3H1466.9M1466.3 961.1H1477.3M1476.7 959H1486.1M1485.5 956.9H1487.6M1487 959H1489.1M1488.5 956.9H1496.4M1495.8 954.8H1497.9M1497.3 956.9H1500.9M1500.3 959H1502.3M1501.7 956.9H1503.8M1503.2 959H1505.3M1504.7 956.9H1506.7M1506.1 954.8H1508.2M1507.6 952.7H1509.7M1509.1 954.8H1523M1522.4 956.9H1524.4M1523.8 954.8H1533.3M1532.7 952.7H1536.2M1535.6 950.5H1537.7M1537.1 952.7H1540.6M1540 954.8H1542.1M1541.5 952.7H1552.4M1551.8 950.5H1553.9M1553.3 952.7H1556.9M1556.3 954.8H1558.3M1557.7 952.7H1565.7M1565.1 950.5H1567.2M1566.6 952.7H1571.6M1571 954.8H1573.1M1572.5 1113.7H1574.6M1574 1115.9H1576M1575.4 1118H1584.9M1584.3 1122.2H1587.8M1587.2 1120.1H1590.8M1590.2 1118H1592.2M1591.6 1122.2H1595.2M1594.6 1120.1H1596.7M1596.1 1118H1598.1M1597.5 1120.1H1608.5M1607.9 1118H1609.9M1609.3 1124.3H1611.4M1610.8 1122.2H1612.9M1612.3 1124.3H1614.3M1613.7 1122.2H1615.8M1615.2 1120.1H1618.8M1618.2 1124.3H1620.2M1619.6 1122.2H1623.2M1622.6 1124.3H1624.7M1624.1 1122.2H1627.6M1627 1120.1H1629.1M1628.5 1124.3H1630.6M1630 1120.1H1632M1631.4 1124.3H1633.5M1632.9 1122.2H1636.5M1635.9 1124.3H1637.9M1637.3 1122.2H1646.8M1646.2 1120.1H1648.3M1647.7 1122.2H1651.2M1650.6 1124.3H1652.7M1652.1 1122.2H1654.1M1653.5 1120.1H1657.1M1656.5 1122.2H1663M1662.4 1124.3H1664.5M1663.9 1122.2H1667.4M1666.8 1120.1H1668.9M1668.3 1122.2H1670.4M1669.8 1120.1H1671.8M1671.2 1122.2H1686.6M1686 1120.1H1688M1687.4 1122.2H1691M1690.4 1120.1H1692.5M1691.9 1124.3H1695.4M1694.8 1120.1H1696.9M1696.3 1122.2H1698.4M1697.8 1124.3H1699.8M1699.2 1122.2H1707.2M1706.6 1120.1H1708.7M1708.1 1122.2H1716.1M1715.5 1120.1H1719M1718.4 1122.2H1720.5M1719.9 997.2H1722M1721.4 992.9H1723.4M1722.8 988.7H1724.9M1724.3 984.5H1726.4M1725.8 980.2H1727.8M1727.2 978.1H1729.3M1728.7 976H1730.8M1730.2 973.9H1733.7M1733.1 971.7H1735.2M1734.6 969.6H1736.7M1736.1 967.5H1739.6M1739 965.4H1741.1M1740.5 967.5H1742.6M1742 965.4H1745.5M1744.9 963.3H1747M1746.4 961.1H1750M1749.4 963.3H1751.4M1750.8 961.1H1754.4M1753.8 959H1758.8M1758.2 956.9H1760.3M1759.7 959H1761.7M1761.1 956.9H1772.1M1771.5 959H1773.5M1772.9 954.8H1775M1774.4 952.7H1776.5M1775.9 954.8H1778M1777.4 956.9H1779.4M1778.8 954.8H1786.8M1786.2 952.7H1789.8M1789.2 950.5H1791.2M1790.6 952.7H1807.4M1806.8 950.5H1817.8M1817.2 952.7H1819.2M1818.6 950.5H1823.7M1823.1 948.4H1825.1M1824.5 952.7H1826.6M1826 950.5H1828.1M1827.5 948.4H1829.6M1829 950.5H1831M1830.4 952.7H1832.5M1831.9 950.5H1839.9M1839.3 952.7H1841.3M1840.7 950.5H1842.8M1842.2 948.4H1863.5M1862.9 950.5H1866.4M1865.8 948.4H1867.9M1867.3 1115.9H1869.4M1868.8 1120.1H1870.8M1870.2 1118H1873.8M1873.2 1120.1H1875.2M1874.6 1118H1876.7M1876.1 1122.2H1878.2M1877.6 1120.1H1881.1M1880.5 1122.2H1882.6" stroke="#f07a12" stroke-width="2" fill="none"/>
<polygon points="1410.6,844.6 1410.6,819.3 1425.4,819.3 1425.4,771.2 1572.8,771.2 1572.8,819.3 1720.2,819.3 1720.2,771.2 1867.6,771.2 1867.6,819.3 1882.3,819.3 1882.3,844.6" fill="#bab6b3"/>
<polygon points="1410.6,844.6 1410.6,831.9 1425.4,831.9 1425.4,807.9 1572.8,807.9 1572.8,831.9 1720.2,831.9 1720.2,807.9 1867.6,807.9 1867.6,831.9 1882.3,831.9 1882.3,844.6" fill="#989390"/>
<path d="M1411.4 819.3V831.9M1423.2 819.3V831.9M1439.4 771.2V807.9M1451.2 771.2V807.9M1452.6 771.2V807.9M1461.5 771.2V807.9M1468.9 771.2V807.9M1483.6 771.2V807.9M1501.3 771.2V807.9M1505.7 771.2V807.9M1508.7 771.2V807.9M1514.6 771.2V807.9M1519 771.2V807.9M1520.5 771.2V807.9M1545.5 771.2V807.9M1582.4 819.3V831.9M1583.8 819.3V831.9M1601.5 819.3V831.9M1610.4 819.3V831.9M1622.2 819.3V831.9M1629.5 819.3V831.9M1666.4 819.3V831.9M1667.9 819.3V831.9M1716.5 819.3V831.9M1762.2 771.2V807.9M1781.3 771.2V807.9M1784.3 771.2V807.9M1796.1 771.2V807.9M1799 771.2V807.9M1807.9 771.2V807.9M1812.3 771.2V807.9M1844.7 771.2V807.9M1849.2 771.2V807.9M1869.8 819.3V831.9M1872.7 819.3V831.9M1874.2 819.3V831.9M1875.7 819.3V831.9M1878.6 819.3V831.9" stroke="#ebe8e6" stroke-width="1" fill="none" shape-rendering="crispEdges"/>
<path d="M1412.8 819.3V831.9M1417.3 819.3V831.9M1418.7 819.3V831.9M1427.6 771.2V807.9M1430.5 771.2V807.9M1435 771.2V807.9M1436.4 771.2V807.9M1443.8 771.2V807.9M1454.1 771.2V807.9M1455.6 771.2V807.9M1458.5 771.2V807.9M1463 771.2V807.9M1465.9 771.2V807.9M1467.4 771.2V807.9M1470.3 771.2V807.9M1471.8 771.2V807.9M1473.3 771.2V807.9M1477.7 771.2V807.9M1480.7 771.2V807.9M1482.1 771.2V807.9M1491 771.2V807.9M1496.9 771.2V807.9M1498.3 771.2V807.9M1499.8 771.2V807.9M1502.8 771.2V807.9M1510.1 771.2V807.9M1513.1 771.2V807.9M1521.9 771.2V807.9M1523.4 771.2V807.9M1526.3 771.2V807.9M1527.8 771.2V807.9M1529.3 771.2V807.9M1530.8 771.2V807.9M1533.7 771.2V807.9M1536.7 771.2V807.9M1538.1 771.2V807.9M1539.6 771.2V807.9M1541.1 771.2V807.9M1544 771.2V807.9M1548.5 771.2V807.9M1551.4 771.2V807.9M1557.3 771.2V807.9M1564.7 771.2V807.9M1566.1 771.2V807.9M1567.6 771.2V807.9M1569.1 771.2V807.9M1570.6 771.2V807.9M1577.9 819.3V831.9M1589.7 819.3V831.9M1591.2 819.3V831.9M1592.7 819.3V831.9M1598.6 819.3V831.9M1603 819.3V831.9M1605.9 819.3V831.9M1619.2 819.3V831.9M1625.1 819.3V831.9M1628.1 819.3V831.9M1631 819.3V831.9M1635.4 819.3V831.9M1638.4 819.3V831.9M1641.3 819.3V831.9M1647.2 819.3V831.9M1648.7 819.3V831.9M1651.6 819.3V831.9M1654.6 819.3V831.9M1660.5 819.3V831.9M1662 819.3V831.9M1663.4 819.3V831.9M1669.3 819.3V831.9M1670.8 819.3V831.9M1672.3 819.3V831.9M1673.7 819.3V831.9M1676.7 819.3V831.9M1679.6 819.3V831.9M1694.4 819.3V831.9M1698.8 819.3V831.9M1700.3 819.3V831.9M1704.7 819.3V831.9M1710.6 819.3V831.9M1719.4 819.3V831.9M1720.9 771.2V807.9M1725.3 771.2V807.9M1728.3 771.2V807.9M1729.8 771.2V807.9M1734.2 771.2V807.9M1738.6 771.2V807.9M1740.1 771.2V807.9M1744.5 771.2V807.9M1747.4 771.2V807.9M1751.9 771.2V807.9M1760.7 771.2V807.9M1763.7 771.2V807.9M1766.6 771.2V807.9M1769.6 771.2V807.9M1772.5 771.2V807.9M1774 771.2V807.9M1778.4 771.2V807.9M1785.8 771.2V807.9M1787.2 771.2V807.9M1790.2 771.2V807.9M1793.1 771.2V807.9M1797.6 771.2V807.9M1800.5 771.2V807.9M1802 771.2V807.9M1806.4 771.2V807.9M1813.8 771.2V807.9M1815.2 771.2V807.9M1816.7 771.2V807.9M1818.2 771.2V807.9M1824.1 771.2V807.9M1825.6 771.2V807.9M1828.5 771.2V807.9M1831.5 771.2V807.9M1832.9 771.2V807.9M1834.4 771.2V807.9M1841.8 771.2V807.9M1846.2 771.2V807.9M1852.1 771.2V807.9M1859.5 771.2V807.9M1862.4 771.2V807.9M1868.3 819.3V831.9" stroke="#8a8481" stroke-width="1" fill="none" shape-rendering="crispEdges"/>
<path d="M1411.4 831.9V844.6M1423.2 831.9V844.6M1439.4 807.9V844.6M1451.2 807.9V844.6M1452.6 807.9V844.6M1461.5 807.9V844.6M1468.9 807.9V844.6M1483.6 807.9V844.6M1493.9 807.9V844.6M1501.3 807.9V844.6M1505.7 807.9V844.6M1508.7 807.9V844.6M1514.6 807.9V844.6M1519 807.9V844.6M1520.5 807.9V844.6M1545.5 807.9V844.6M1582.4 831.9V844.6M1583.8 831.9V844.6M1601.5 831.9V844.6M1610.4 831.9V844.6M1622.2 831.9V844.6M1629.5 831.9V844.6M1666.4 831.9V844.6M1667.9 831.9V844.6M1716.5 831.9V844.6M1762.2 807.9V844.6M1781.3 807.9V844.6M1784.3 807.9V844.6M1796.1 807.9V844.6M1799 807.9V844.6M1807.9 807.9V844.6M1809.4 807.9V844.6M1812.3 807.9V844.6M1844.7 807.9V844.6M1849.2 807.9V844.6M1853.6 807.9V844.6M1869.8 831.9V844.6M1872.7 831.9V844.6M1874.2 831.9V844.6M1875.7 831.9V844.6M1878.6 831.9V844.6M1880.1 831.9V844.6" stroke="#dcd9d7" stroke-width="1" fill="none" shape-rendering="crispEdges"/>
<path d="M1412.8 831.9V844.6M1417.3 831.9V844.6M1418.7 831.9V844.6M1420.2 831.9V844.6M1423.2 831.9V844.6M1427.6 807.9V844.6M1430.5 807.9V844.6M1435 807.9V844.6M1436.4 807.9V844.6M1439.4 807.9V844.6M1443.8 807.9V844.6M1454.1 807.9V844.6M1455.6 807.9V844.6M1458.5 807.9V844.6M1463 807.9V844.6M1465.9 807.9V844.6M1467.4 807.9V844.6M1470.3 807.9V844.6M1471.8 807.9V844.6M1473.3 807.9V844.6M1477.7 807.9V844.6M1480.7 807.9V844.6M1482.1 807.9V844.6M1491 807.9V844.6M1496.9 807.9V844.6M1498.3 807.9V844.6M1499.8 807.9V844.6M1502.8 807.9V844.6M1510.1 807.9V844.6M1513.1 807.9V844.6M1514.6 807.9V844.6M1521.9 807.9V844.6M1523.4 807.9V844.6M1526.3 807.9V844.6M1527.8 807.9V844.6M1529.3 807.9V844.6M1530.8 807.9V844.6M1533.7 807.9V844.6M1536.7 807.9V844.6M1538.1 807.9V844.6M1539.6 807.9V844.6M1541.1 807.9V844.6M1544 807.9V844.6M1548.5 807.9V844.6M1551.4 807.9V844.6M1557.3 807.9V844.6M1561.7 807.9V844.6M1564.7 807.9V844.6M1566.1 807.9V844.6M1567.6 807.9V844.6M1569.1 807.9V844.6M1570.6 807.9V844.6M1577.9 831.9V844.6M1585.3 831.9V844.6M1589.7 831.9V844.6M1591.2 831.9V844.6M1592.7 831.9V844.6M1598.6 831.9V844.6M1600 831.9V844.6M1601.5 831.9V844.6M1603 831.9V844.6M1605.9 831.9V844.6M1611.8 831.9V844.6M1619.2 831.9V844.6M1625.1 831.9V844.6M1628.1 831.9V844.6M1631 831.9V844.6M1635.4 831.9V844.6M1636.9 831.9V844.6M1638.4 831.9V844.6M1641.3 831.9V844.6M1645.7 831.9V844.6M1647.2 831.9V844.6M1648.7 831.9V844.6M1651.6 831.9V844.6M1654.6 831.9V844.6M1660.5 831.9V844.6M1662 831.9V844.6M1663.4 831.9V844.6M1669.3 831.9V844.6M1670.8 831.9V844.6M1672.3 831.9V844.6M1673.7 831.9V844.6M1676.7 831.9V844.6M1679.6 831.9V844.6M1684.1 831.9V844.6M1694.4 831.9V844.6M1698.8 831.9V844.6M1700.3 831.9V844.6M1704.7 831.9V844.6M1710.6 831.9V844.6M1719.4 831.9V844.6M1720.9 807.9V844.6M1725.3 807.9V844.6M1728.3 807.9V844.6M1729.8 807.9V844.6M1734.2 807.9V844.6M1738.6 807.9V844.6M1740.1 807.9V844.6M1743 807.9V844.6M1744.5 807.9V844.6M1747.4 807.9V844.6M1751.9 807.9V844.6M1753.3 807.9V844.6M1759.2 807.9V844.6M1760.7 807.9V844.6M1763.7 807.9V844.6M1766.6 807.9V844.6M1769.6 807.9V844.6M1772.5 807.9V844.6M1774 807.9V844.6M1778.4 807.9V844.6M1779.9 807.9V844.6M1785.8 807.9V844.6M1787.2 807.9V844.6M1788.7 807.9V844.6M1790.2 807.9V844.6M1793.1 807.9V844.6M1797.6 807.9V844.6M1800.5 807.9V844.6M1802 807.9V844.6M1806.4 807.9V844.6M1813.8 807.9V844.6M1815.2 807.9V844.6M1816.7 807.9V844.6M1818.2 807.9V844.6M1824.1 807.9V844.6M1825.6 807.9V844.6M1828.5 807.9V844.6M1831.5 807.9V844.6M1832.9 807.9V844.6M1834.4 807.9V844.6M1837.4 807.9V844.6M1841.8 807.9V844.6M1846.2 807.9V844.6M1849.2 807.9V844.6M1852.1 807.9V844.6M1859.5 807.9V844.6M1862.4 807.9V844.6M1868.3 831.9V844.6" stroke="#5a534f" stroke-width="1" fill="none" shape-rendering="crispEdges"/>
<path d="M1410.6 819.8H1425.4M1425.4 771.8H1572.8M1572.8 819.8H1720.2M1720.2 771.8H1867.6M1867.6 819.8H1882.3" stroke="#0a0808" stroke-width="1.7" fill="none"/>
</g>
<path d="M1409.9 734.5V1142.7M1881.8 733.1V1142.7M1409.7 734.5H1881.8M1409.9 1141.3H1881.8" stroke="#000" stroke-width="2.9" fill="none"/>
<path d="M1409.9 844.6H1881.8" stroke="#000" stroke-width="2" fill="none"/>
<path d="M1403.6 1141.3H1409.9M1403.6 1098.9H1409.9M1403.6 1056.5H1409.9M1403.6 1014.1H1409.9M1403.6 971.7H1409.9M1403.6 929.3H1409.9M1403.6 887H1409.9M1403.6 844.6H1409.9M1409.9 1141.3V1147.4M1483.6 1141.3V1147.4M1557.3 1141.3V1147.4M1631 1141.3V1147.4M1704.7 1141.3V1147.4M1778.4 1141.3V1147.4M1852.1 1141.3V1147.4M1881.8 844.6H1885.6M1881.8 822.6H1885.6M1881.8 800.6H1885.6M1881.8 778.5H1885.6M1881.8 756.5H1885.6M1881.8 734.5H1885.6" stroke="#000" stroke-width="2.8" fill="none"/>
<path d="M1406.5 1120.1H1409.9M1406.5 1077.7H1409.9M1406.5 1035.3H1409.9M1406.5 992.9H1409.9M1406.5 950.5H1409.9M1406.5 908.2H1409.9M1406.5 865.8H1409.9M1446.8 1141.3V1144.9M1520.5 1141.3V1144.9M1594.2 1141.3V1144.9M1667.9 1141.3V1144.9M1741.6 1141.3V1144.9M1815.2 1141.3V1144.9" stroke="#000" stroke-width="2.3" fill="none"/>
<text transform="matrix(0.2815 0 0 0.2665 1364.74 1149.26)" font-size="100" fill="#e61419">0.0</text>
<text transform="matrix(0.2815 0 0 0.2665 1364.74 1106.87)" font-size="100" fill="#e61419">1.0</text>
<text transform="matrix(0.2815 0 0 0.2665 1364.74 1064.48)" font-size="100" fill="#e61419">2.0</text>
<text transform="matrix(0.2815 0 0 0.2665 1364.74 1022.09)" font-size="100" fill="#e61419">3.0</text>
<text transform="matrix(0.2815 0 0 0.2665 1364.74 979.70)" font-size="100" fill="#e61419">4.0</text>
<text transform="matrix(0.2815 0 0 0.2665 1364.74 937.31)" font-size="100" fill="#e61419">5.0</text>
<text transform="matrix(0.2815 0 0 0.2665 1364.74 894.92)" font-size="100" fill="#e61419">6.0</text>
<text transform="matrix(0.2815 0 0 0.2665 1364.74 852.53)" font-size="100" fill="#e61419">7.0</text>
<text transform="matrix(0.2285 0 0 0.2285 1404.49 1169.00)" font-size="100">0</text>
<text transform="matrix(0.2285 0 0 0.2285 1472.48 1169.00)" font-size="100">50</text>
<text transform="matrix(0.2285 0 0 0.2285 1540.01 1169.00)" font-size="100">100</text>
<text transform="matrix(0.2285 0 0 0.2285 1613.71 1169.00)" font-size="100">150</text>
<text transform="matrix(0.2285 0 0 0.2285 1687.86 1169.00)" font-size="100">200</text>
<text transform="matrix(0.2285 0 0 0.2285 1761.56 1169.00)" font-size="100">250</text>
<text transform="matrix(0.2285 0 0 0.2285 1835.26 1169.00)" font-size="100">300</text>
<text transform="matrix(0.17 0 0 0.155 1888.22 849.84)" font-size="100">0.0</text>
<text transform="matrix(0.17 0 0 0.155 1888.22 827.82)" font-size="100">0.3</text>
<text transform="matrix(0.17 0 0 0.155 1888.22 805.80)" font-size="100">0.6</text>
<text transform="matrix(0.17 0 0 0.155 1888.22 783.78)" font-size="100">0.9</text>
<text transform="matrix(0.17 0 0 0.155 1887.54 761.76)" font-size="100">1.2</text>
<text transform="matrix(0.17 0 0 0.155 1887.54 739.74)" font-size="100">1.5</text>
<text transform="matrix(0.375 0 0 0.3457 1534.84 1217.95)" font-size="100">Pulse number</text>
<text transform="matrix(0.4343 0 0 0.4048 1347.57 1107.52) rotate(-90)" font-size="100" fill="#e61419">Current (μA)</text>
<text transform="matrix(0.2586 0 0 0.2472 1934.01 845.95) rotate(-90)" font-size="100">Voltage (V)</text>
<text transform="matrix(0.5608 0 0 0.5583 1315.53 758.38)" font-size="100">(d)</text>
<text transform="matrix(0.4493 0 0 0.4611 1422.20 891.32)" font-size="100" class="n">long time</text>
</g>
</svg></body></html>
